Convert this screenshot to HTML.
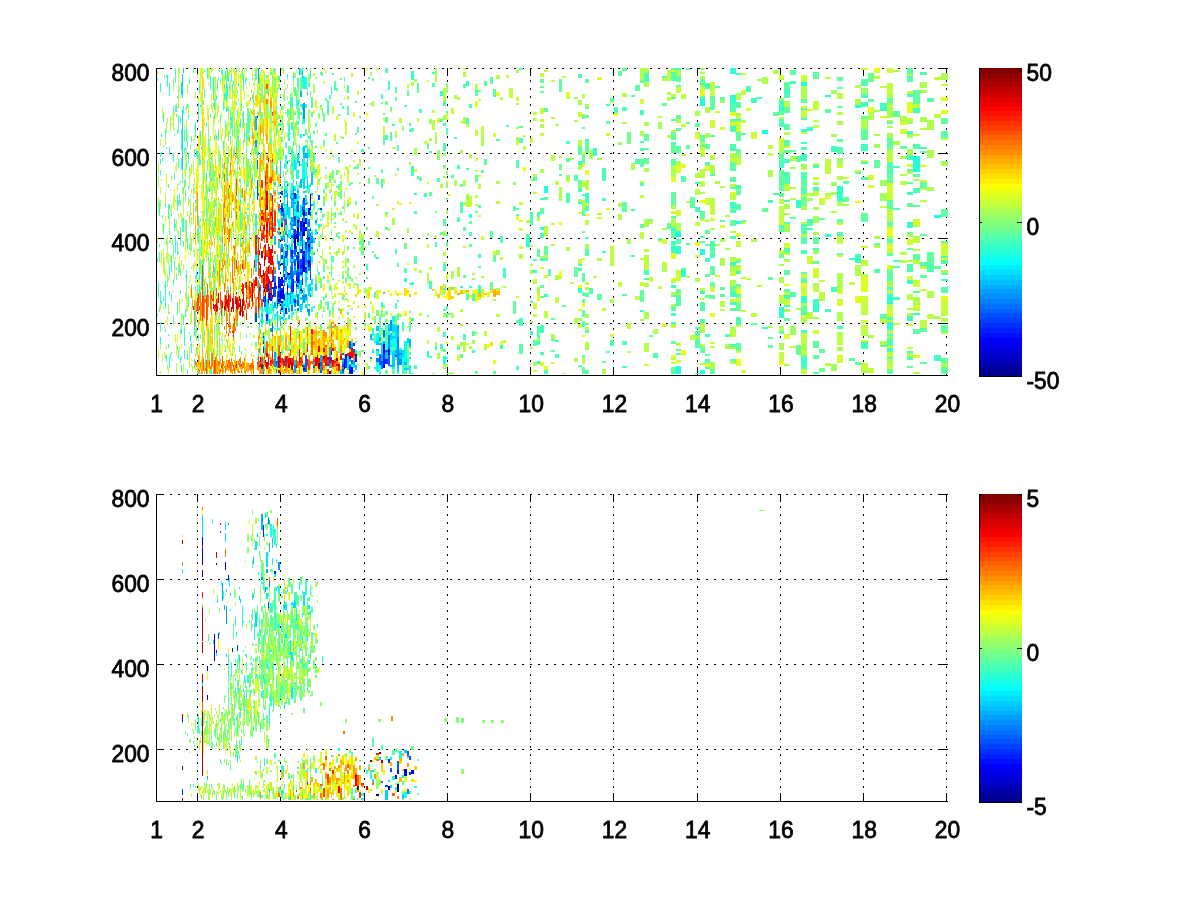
<!DOCTYPE html><html><head><meta charset="utf-8"><style>html,body{margin:0;padding:0;background:#fff;width:1200px;height:900px;overflow:hidden}svg{display:block}</style></head><body>
<svg width="1200" height="900" viewBox="0 0 1200 900" shape-rendering="crispEdges">
<rect width="1200" height="900" fill="#fff"/>
<line x1="197.5" y1="72" x2="197.5" y2="375" stroke="#000" stroke-width="1" stroke-dasharray="2 6"/>
<line x1="280.5" y1="72" x2="280.5" y2="375" stroke="#000" stroke-width="1" stroke-dasharray="2 6"/>
<line x1="364.5" y1="72" x2="364.5" y2="375" stroke="#000" stroke-width="1" stroke-dasharray="2 6"/>
<line x1="447.5" y1="72" x2="447.5" y2="375" stroke="#000" stroke-width="1" stroke-dasharray="2 6"/>
<line x1="530.5" y1="72" x2="530.5" y2="375" stroke="#000" stroke-width="1" stroke-dasharray="2 6"/>
<line x1="613.5" y1="72" x2="613.5" y2="375" stroke="#000" stroke-width="1" stroke-dasharray="2 6"/>
<line x1="697.5" y1="72" x2="697.5" y2="375" stroke="#000" stroke-width="1" stroke-dasharray="2 6"/>
<line x1="780.5" y1="72" x2="780.5" y2="375" stroke="#000" stroke-width="1" stroke-dasharray="2 6"/>
<line x1="863.5" y1="72" x2="863.5" y2="375" stroke="#000" stroke-width="1" stroke-dasharray="2 6"/>
<line x1="946.5" y1="72" x2="946.5" y2="375" stroke="#000" stroke-width="1" stroke-dasharray="2 6"/>
<line x1="162" y1="68.5" x2="948" y2="68.5" stroke="#000" stroke-width="1" stroke-dasharray="2 6"/>
<line x1="162" y1="153.5" x2="948" y2="153.5" stroke="#000" stroke-width="1" stroke-dasharray="2 6"/>
<line x1="162" y1="238.5" x2="948" y2="238.5" stroke="#000" stroke-width="1" stroke-dasharray="2 6"/>
<line x1="162" y1="323.5" x2="948" y2="323.5" stroke="#000" stroke-width="1" stroke-dasharray="2 6"/>
<rect x="156" y="367" width="1" height="8" fill="#000"/>
<rect x="156" y="68" width="1" height="8" fill="#000"/>
<rect x="197" y="367" width="1" height="8" fill="#000"/>
<rect x="197" y="68" width="1" height="8" fill="#000"/>
<rect x="280" y="367" width="1" height="8" fill="#000"/>
<rect x="280" y="68" width="1" height="8" fill="#000"/>
<rect x="364" y="367" width="1" height="8" fill="#000"/>
<rect x="364" y="68" width="1" height="8" fill="#000"/>
<rect x="447" y="367" width="1" height="8" fill="#000"/>
<rect x="447" y="68" width="1" height="8" fill="#000"/>
<rect x="530" y="367" width="1" height="8" fill="#000"/>
<rect x="530" y="68" width="1" height="8" fill="#000"/>
<rect x="613" y="367" width="1" height="8" fill="#000"/>
<rect x="613" y="68" width="1" height="8" fill="#000"/>
<rect x="697" y="367" width="1" height="8" fill="#000"/>
<rect x="697" y="68" width="1" height="8" fill="#000"/>
<rect x="780" y="367" width="1" height="8" fill="#000"/>
<rect x="780" y="68" width="1" height="8" fill="#000"/>
<rect x="863" y="367" width="1" height="8" fill="#000"/>
<rect x="863" y="68" width="1" height="8" fill="#000"/>
<rect x="946" y="367" width="1" height="8" fill="#000"/>
<rect x="946" y="68" width="1" height="8" fill="#000"/>
<rect x="156" y="68" width="8" height="1" fill="#000"/>
<rect x="940" y="68" width="8" height="1" fill="#000"/>
<rect x="156" y="153" width="8" height="1" fill="#000"/>
<rect x="940" y="153" width="8" height="1" fill="#000"/>
<rect x="156" y="238" width="8" height="1" fill="#000"/>
<rect x="940" y="238" width="8" height="1" fill="#000"/>
<rect x="156" y="323" width="8" height="1" fill="#000"/>
<rect x="940" y="323" width="8" height="1" fill="#000"/>
<path fill="#cfff30" d="M157 71h1v3h-1zM157 235h1v8h-1zM158 205h1v8h-1zM159 200h1v2h-1zM160 187h1v7h-1zM160 303h1v7h-1zM161 250h1v16h-1zM162 353h1v8h-1zM164 352h1v5h-1zM165 193h1v11h-1zM166 173h1v14h-1zM166 253h1v7h-1zM166 346h1v4h-1zM171 204h1v6h-1zM173 204h1v4h-1zM174 269h1v3h-1zM174 272h1v9h-1zM175 322h1v2h-1zM175 334h1v9h-1zM176 346h1v10h-1zM179 299h1v14h-1zM181 345h1v3h-1zM183 264h1v7h-1zM183 364h1v10h-1zM185 163h1v16h-1zM185 185h1v7h-1zM187 133h1v6h-1zM190 275h1v6h-1zM190 291h1v7h-1zM191 359h1v2h-1zM194 173h1v2h-1zM195 280h1v3h-1zM196 233h1v3h-1zM197 159h1v5h-1zM197 173h1v19h-1zM198 159h1v9h-1zM199 80h1v5h-1zM199 232h1v13h-1zM199 265h1v2h-1zM199 280h1v5h-1zM200 155h1v5h-1zM200 287h1v5h-1zM201 185h1v14h-1zM203 68h1v6h-1zM204 215h1v2h-1zM205 134h1v6h-1zM205 153h1v4h-1zM205 234h1v13h-1zM207 202h1v6h-1zM207 217h1v3h-1zM208 82h1v4h-1zM208 108h1v21h-1zM209 162h1v2h-1zM209 164h1v8h-1zM210 278h1v4h-1zM211 163h1v15h-1zM211 200h1v8h-1zM212 68h1v4h-1zM212 88h1v3h-1zM212 105h1v8h-1zM212 202h1v18h-1zM213 164h1v4h-1zM214 92h1v7h-1zM214 121h1v3h-1zM214 210h1v13h-1zM215 129h1v11h-1zM215 182h1v11h-1zM215 281h1v7h-1zM216 134h1v2h-1zM216 175h1v5h-1zM216 259h1v15h-1zM216 296h1v3h-1zM219 247h1v5h-1zM222 81h1v9h-1zM222 128h1v4h-1zM222 257h1v2h-1zM223 89h1v5h-1zM223 261h1v2h-1zM223 263h1v2h-1zM224 102h1v7h-1zM224 136h1v27h-1zM225 152h1v9h-1zM225 236h1v3h-1zM226 226h1v5h-1zM226 265h1v4h-1zM227 125h1v11h-1zM228 126h1v2h-1zM228 223h1v4h-1zM228 274h1v2h-1zM229 89h1v10h-1zM229 129h1v6h-1zM229 152h1v5h-1zM229 188h1v5h-1zM230 80h1v9h-1zM230 89h1v7h-1zM230 109h1v4h-1zM230 120h1v2h-1zM230 372h1v2h-1zM231 68h1v6h-1zM232 93h1v17h-1zM233 253h1v4h-1zM234 80h1v4h-1zM234 284h1v7h-1zM235 122h1v15h-1zM236 81h1v5h-1zM236 119h1v19h-1zM236 138h1v3h-1zM236 172h1v7h-1zM237 272h1v9h-1zM238 99h1v2h-1zM238 118h1v9h-1zM239 68h1v4h-1zM239 112h1v7h-1zM239 125h1v7h-1zM239 158h1v9h-1zM240 76h1v17h-1zM240 113h1v3h-1zM241 93h1v10h-1zM241 166h1v2h-1zM241 170h1v6h-1zM241 176h1v2h-1zM241 202h1v3h-1zM242 277h1v2h-1zM244 189h1v2h-1zM244 318h1v5h-1zM245 133h1v3h-1zM246 87h1v2h-1zM249 81h1v3h-1zM251 89h1v4h-1zM251 136h1v3h-1zM252 68h1v10h-1zM252 199h1v2h-1zM252 234h1v2h-1zM253 265h1v4h-1zM254 81h1v4h-1zM254 232h1v6h-1zM255 101h2v6h-2zM255 130h2v10h-2zM257 222h1v3h-1zM258 83h1v19h-1zM258 327h1v4h-1zM259 192h1v7h-1zM259 222h1v10h-1zM264 71h1v3h-1zM264 117h1v10h-1zM264 152h1v13h-1zM264 174h1v4h-1zM264 334h1v2h-1zM265 80h1v2h-1zM265 320h1v6h-1zM268 195h1v6h-1zM268 327h1v12h-1zM270 68h2v4h-2zM270 123h2v5h-2zM270 323h2v3h-2zM273 123h1v8h-1zM274 86h2v3h-2zM274 128h2v6h-2zM277 77h1v2h-1zM277 156h1v2h-1zM277 166h1v11h-1zM277 197h1v2h-1zM277 368h1v4h-1zM280 216h1v10h-1zM281 147h2v13h-2zM283 89h1v2h-1zM283 335h1v5h-1zM284 93h1v4h-1zM284 132h1v9h-1zM287 349h1v3h-1zM291 317h2v3h-2zM291 340h2v5h-2zM294 328h2v6h-2zM294 337h2v2h-2zM297 316h2v7h-2zM297 345h2v3h-2zM300 343h2v5h-2zM305 326h2v3h-2zM307 133h1v4h-1zM308 338h2v4h-2zM308 342h2v3h-2zM310 330h1v3h-1zM310 337h1v4h-1zM315 77h2v2h-2zM315 313h2v5h-2zM317 210h1v3h-1zM317 251h1v2h-1zM317 287h1v3h-1zM318 237h2v2h-2zM318 275h2v8h-2zM320 107h2v3h-2zM320 331h2v5h-2zM320 336h2v4h-2zM322 250h1v2h-1zM323 68h2v2h-2zM323 306h2v4h-2zM323 363h2v2h-2zM325 71h2v2h-2zM325 149h2v2h-2zM325 177h2v2h-2zM327 266h2v3h-2zM327 355h2v2h-2zM329 173h2v2h-2zM329 189h2v2h-2zM329 246h2v4h-2zM329 252h2v3h-2zM331 182h1v6h-1zM331 190h1v2h-1zM332 184h2v2h-2zM332 213h2v3h-2zM332 296h2v3h-2zM332 371h2v3h-2zM334 134h2v3h-2zM334 191h2v10h-2zM334 293h2v4h-2zM338 170h2v3h-2zM338 248h2v5h-2zM338 280h2v2h-2zM338 293h2v2h-2zM338 335h2v4h-2zM338 341h2v2h-2zM338 347h2v2h-2zM340 174h2v2h-2zM340 293h2v2h-2zM342 218h2v3h-2zM342 239h2v3h-2zM342 271h2v4h-2zM342 281h2v3h-2zM344 84h1v4h-1zM344 119h1v3h-1zM344 286h1v7h-1zM344 340h1v3h-1zM345 90h2v2h-2zM345 121h2v14h-2zM345 168h2v2h-2zM347 199h2v4h-2zM349 201h2v4h-2zM349 230h2v2h-2zM349 326h2v10h-2zM353 112h2v5h-2zM353 160h2v2h-2zM353 214h2v3h-2zM353 283h2v2h-2zM353 301h2v3h-2zM355 225h2v5h-2zM355 337h2v2h-2zM357 91h2v4h-2zM361 236h3v2h-3zM366 68h2v2h-2zM366 291h2v7h-2zM366 363h2v4h-2zM368 297h2v2h-2zM370 359h2v3h-2zM376 68h3v2h-3zM379 290h2v3h-2zM383 126h2v10h-2zM383 179h2v5h-2zM385 214h3v3h-3zM399 203h3v2h-3zM407 84h2v4h-2zM414 268h3v3h-3zM424 141h3v3h-3zM427 80h2v2h-2zM437 118h3v5h-3zM437 327h3v5h-3zM443 290h3v2h-3zM446 113h2v7h-2zM446 274h2v6h-2zM451 111h3v3h-3zM457 355h3v6h-3zM460 324h3v2h-3zM466 124h3v3h-3zM466 343h3v2h-3zM469 196h3v11h-3zM475 158h3v3h-3zM475 170h3v2h-3zM478 215h3v2h-3zM481 236h3v4h-3zM481 289h3v6h-3zM481 295h3v3h-3zM493 133h3v4h-3zM493 251h3v4h-3zM516 97h3v4h-3zM516 141h3v4h-3zM519 220h4v2h-4zM519 228h4v3h-4zM519 246h4v3h-4zM519 257h4v2h-4zM523 135h3v2h-3zM530 245h3v2h-3zM533 303h4v6h-4zM533 370h4v2h-4zM540 73h4v4h-4zM540 267h4v2h-4zM544 275h4v3h-4zM551 223h4v2h-4zM566 96h4v3h-4zM578 112h4v5h-4zM582 165h3v2h-3zM582 181h3v2h-3zM585 188h4v2h-4zM585 214h4v2h-4zM597 77h5v3h-5zM597 217h5v2h-5zM606 133h4v3h-4zM610 334h4v3h-4zM640 99h4v5h-4zM640 181h4v2h-4zM640 282h4v4h-4zM649 277h4v5h-4zM662 239h5v5h-5zM671 70h5v2h-5zM671 166h5v2h-5zM671 176h5v3h-5zM671 211h5v3h-5zM671 278h5v3h-5zM676 87h5v3h-5zM676 210h5v6h-5zM676 270h5v8h-5zM676 278h5v3h-5zM676 360h5v3h-5zM681 124h5v3h-5zM695 242h5v2h-5zM700 147h5v7h-5zM700 344h5v2h-5zM705 198h5v7h-5zM710 120h5v8h-5zM710 218h5v3h-5zM710 288h5v4h-5zM715 111h5v2h-5zM715 275h5v2h-5zM720 127h5v3h-5zM730 159h6v3h-6zM730 299h6v3h-6zM736 121h5v11h-5zM736 325h5v2h-5zM741 222h5v2h-5zM741 370h5v3h-5zM746 108h5v3h-5zM751 134h6v5h-6zM779 138h5v3h-5zM779 220h5v5h-5zM779 250h5v2h-5zM779 352h5v2h-5zM784 243h6v5h-6zM784 299h6v6h-6zM801 75h6v3h-6zM801 292h6v4h-6zM801 315h6v3h-6zM807 256h6v6h-6zM813 177h6v3h-6zM813 268h6v10h-6zM813 330h6v4h-6zM819 198h6v2h-6zM837 165h6v3h-6zM837 223h6v2h-6zM837 289h6v5h-6zM837 299h6v7h-6zM837 355h6v8h-6zM843 177h6v2h-6zM861 246h7v2h-7zM861 296h7v7h-7zM861 320h7v3h-7zM861 340h7v2h-7zM868 175h6v5h-6zM868 185h6v3h-6zM880 86h7v2h-7zM880 116h7v2h-7zM880 206h7v2h-7zM887 68h6v5h-6zM887 91h6v2h-6zM887 183h6v17h-6zM887 248h6v5h-6zM887 308h6v5h-6zM887 313h6v4h-6zM887 346h6v2h-6zM887 366h6v3h-6zM893 323h7v2h-7zM900 129h7v5h-7zM907 91h6v3h-6zM907 118h6v2h-6zM907 164h6v3h-6zM907 239h6v6h-6zM907 276h6v4h-6zM907 324h6v2h-6zM913 280h7v7h-7zM913 305h7v4h-7zM920 180h7v2h-7zM920 289h7v2h-7zM941 243h7v9h-7z"/>
<path fill="#40ffbf" d="M157 78h1v3h-1zM157 258h1v4h-1zM158 282h1v16h-1zM159 252h1v4h-1zM159 256h1v6h-1zM160 153h1v4h-1zM163 113h1v9h-1zM163 145h1v2h-1zM164 75h1v3h-1zM164 285h1v2h-1zM166 241h1v4h-1zM168 184h1v4h-1zM168 312h1v2h-1zM168 334h1v2h-1zM169 147h1v8h-1zM169 241h1v2h-1zM169 291h1v4h-1zM169 357h1v11h-1zM170 354h1v5h-1zM171 294h1v8h-1zM172 359h1v2h-1zM173 280h1v5h-1zM175 68h1v15h-1zM175 105h1v7h-1zM175 235h1v18h-1zM176 106h1v6h-1zM176 268h1v2h-1zM177 96h1v2h-1zM177 195h1v16h-1zM177 241h1v14h-1zM177 302h1v7h-1zM177 309h1v6h-1zM177 346h1v5h-1zM178 159h1v9h-1zM178 183h1v2h-1zM178 351h1v8h-1zM179 265h1v8h-1zM180 358h1v5h-1zM181 313h1v3h-1zM182 219h1v11h-1zM182 230h1v2h-1zM183 106h1v8h-1zM183 218h1v4h-1zM183 241h1v6h-1zM183 315h1v10h-1zM184 130h1v10h-1zM184 148h1v6h-1zM184 180h1v8h-1zM185 309h1v8h-1zM186 162h1v8h-1zM187 104h1v4h-1zM187 141h1v6h-1zM188 158h1v6h-1zM188 286h1v2h-1zM189 78h1v6h-1zM191 248h1v3h-1zM191 343h1v3h-1zM191 364h1v2h-1zM194 149h1v2h-1zM194 254h1v3h-1zM196 347h1v5h-1zM197 228h1v11h-1zM198 216h1v8h-1zM198 226h1v16h-1zM198 242h1v2h-1zM198 334h1v7h-1zM200 135h1v10h-1zM200 162h1v3h-1zM201 147h1v3h-1zM201 239h1v17h-1zM205 353h1v15h-1zM207 73h1v6h-1zM208 328h1v23h-1zM210 369h1v5h-1zM213 93h1v7h-1zM213 103h1v4h-1zM213 211h1v4h-1zM214 117h1v2h-1zM214 206h1v4h-1zM214 280h1v2h-1zM214 282h1v2h-1zM214 284h1v7h-1zM215 220h1v2h-1zM216 95h1v2h-1zM217 80h1v11h-1zM218 77h1v3h-1zM218 129h1v12h-1zM220 79h1v2h-1zM221 68h1v6h-1zM222 70h1v11h-1zM227 157h1v22h-1zM228 131h1v5h-1zM229 83h1v6h-1zM230 70h1v2h-1zM230 136h1v9h-1zM231 74h1v8h-1zM232 84h1v7h-1zM232 112h1v24h-1zM233 81h1v4h-1zM235 137h1v2h-1zM236 68h1v4h-1zM236 141h1v4h-1zM236 145h1v3h-1zM237 110h1v7h-1zM237 124h1v14h-1zM239 123h1v2h-1zM239 346h1v6h-1zM240 207h1v15h-1zM240 222h1v9h-1zM241 103h1v8h-1zM242 70h1v10h-1zM242 113h1v3h-1zM243 79h1v12h-1zM244 123h1v2h-1zM244 130h1v2h-1zM245 79h1v5h-1zM246 225h1v10h-1zM250 97h1v4h-1zM253 83h1v2h-1zM255 147h2v8h-2zM259 326h1v8h-1zM268 308h1v5h-1zM270 310h2v4h-2zM276 106h1v6h-1zM276 129h1v4h-1zM278 184h2v3h-2zM278 230h2v2h-2zM280 156h1v5h-1zM281 351h2v2h-2zM283 149h1v7h-1zM284 233h1v3h-1zM287 109h1v8h-1zM287 169h1v3h-1zM287 181h1v3h-1zM287 186h1v7h-1zM287 225h1v5h-1zM288 124h2v10h-2zM290 94h1v19h-1zM290 113h1v7h-1zM290 217h1v5h-1zM291 122h2v6h-2zM291 128h2v2h-2zM293 126h1v12h-1zM293 153h1v2h-1zM294 87h2v9h-2zM296 121h1v2h-1zM297 78h2v6h-2zM297 121h2v4h-2zM297 352h2v2h-2zM299 154h1v4h-1zM300 164h2v2h-2zM302 81h1v7h-1zM303 158h2v4h-2zM303 329h2v4h-2zM305 162h2v2h-2zM305 167h2v6h-2zM307 176h1v4h-1zM307 208h1v11h-1zM308 83h2v4h-2zM310 72h1v7h-1zM311 112h2v5h-2zM311 290h2v2h-2zM315 169h2v4h-2zM315 223h2v2h-2zM318 179h2v2h-2zM322 72h1v4h-1zM327 100h2v13h-2zM327 304h2v6h-2zM331 86h1v9h-1zM332 73h2v2h-2zM334 85h2v5h-2zM338 114h2v2h-2zM347 85h2v8h-2zM355 101h2v2h-2zM355 341h2v2h-2zM361 149h3v3h-3zM366 264h2v6h-2zM368 77h2v2h-2zM368 241h2v4h-2zM368 366h2v3h-2zM372 338h2v3h-2zM379 316h2v4h-2zM379 341h2v2h-2zM381 179h2v9h-2zM385 135h3v5h-3zM388 81h2v9h-2zM392 124h3v2h-3zM392 332h3v4h-3zM402 322h2v2h-2zM402 364h2v10h-2zM409 123h2v3h-2zM411 166h3v10h-3zM411 282h3v3h-3zM414 365h3v4h-3zM417 176h2v3h-2zM424 193h3v4h-3zM429 281h3v8h-3zM429 356h3v2h-3zM435 242h2v5h-2zM435 346h2v4h-2zM440 344h3v5h-3zM443 101h3v5h-3zM443 148h3v3h-3zM443 268h3v3h-3zM443 288h3v2h-3zM443 309h3v2h-3zM443 332h3v5h-3zM446 111h2v2h-2zM446 234h2v2h-2zM446 242h2v3h-2zM446 306h2v3h-2zM446 357h2v2h-2zM466 168h3v2h-3zM469 286h3v2h-3zM472 294h3v7h-3zM472 350h3v3h-3zM478 254h3v4h-3zM478 285h3v8h-3zM500 345h3v4h-3zM503 268h3v10h-3zM519 318h4v8h-4zM530 331h3v4h-3zM537 341h3v4h-3zM540 198h4v2h-4zM540 258h4v3h-4zM540 325h4v8h-4zM555 354h4v4h-4zM578 161h4v4h-4zM578 188h4v4h-4zM578 288h4v5h-4zM582 194h3v2h-3zM585 193h4v10h-4zM602 251h4v2h-4zM606 104h4v2h-4zM610 98h4v3h-4zM622 366h5v2h-5zM631 255h4v2h-4zM640 110h4v5h-4zM640 310h4v2h-4zM644 75h5v7h-5zM644 270h5v5h-5zM671 216h5v2h-5zM671 241h5v4h-5zM671 251h5v2h-5zM671 285h5v3h-5zM671 313h5v3h-5zM671 322h5v2h-5zM676 68h5v2h-5zM681 268h5v4h-5zM695 182h5v2h-5zM695 207h5v5h-5zM695 327h5v2h-5zM695 373h5v1h-5zM700 291h5v3h-5zM700 319h5v4h-5zM705 83h5v6h-5zM705 258h5v4h-5zM705 334h5v3h-5zM730 119h6v2h-6zM730 126h6v4h-6zM730 202h6v6h-6zM730 211h6v2h-6zM730 262h6v4h-6zM730 292h6v5h-6zM730 302h6v3h-6zM736 185h5v3h-5zM736 271h5v3h-5zM736 294h5v3h-5zM736 322h5v3h-5zM751 98h6v5h-6zM762 327h6v2h-6zM768 200h5v3h-5zM779 100h5v7h-5zM779 161h5v7h-5zM784 90h6v4h-6zM784 159h6v4h-6zM784 295h6v4h-6zM784 305h6v2h-6zM790 81h6v3h-6zM801 118h6v2h-6zM801 142h6v2h-6zM801 154h6v7h-6zM801 176h6v3h-6zM801 250h6v4h-6zM801 313h6v2h-6zM801 330h6v3h-6zM807 219h6v4h-6zM813 165h6v3h-6zM813 248h6v2h-6zM813 299h6v5h-6zM825 309h6v3h-6zM831 146h6v6h-6zM831 287h6v5h-6zM837 326h6v3h-6zM855 257h6v6h-6zM861 144h7v7h-7zM861 162h7v2h-7zM861 342h7v7h-7zM880 103h7v8h-7zM887 170h6v3h-6zM887 348h6v2h-6zM887 350h6v2h-6zM893 166h7v2h-7zM893 260h7v2h-7zM893 297h7v3h-7zM907 94h6v3h-6zM907 131h6v3h-6zM907 155h6v5h-6zM907 192h6v3h-6zM907 316h6v5h-6zM913 108h7v5h-7zM913 313h7v2h-7zM934 355h7v6h-7zM941 256h7v2h-7zM941 279h7v2h-7z"/>
<path fill="#30ffcf" d="M157 314h1v2h-1zM160 159h1v5h-1zM160 170h1v5h-1zM160 291h1v12h-1zM161 152h1v3h-1zM162 158h1v3h-1zM162 215h1v3h-1zM165 281h1v17h-1zM165 329h1v3h-1zM166 147h1v2h-1zM169 205h1v4h-1zM171 214h1v2h-1zM173 153h1v9h-1zM174 176h1v4h-1zM174 218h1v13h-1zM177 130h1v4h-1zM178 200h1v6h-1zM178 252h1v2h-1zM181 143h1v7h-1zM184 327h1v19h-1zM184 350h1v9h-1zM185 147h1v3h-1zM186 127h1v15h-1zM186 270h1v12h-1zM187 354h1v6h-1zM193 68h1v5h-1zM193 196h1v2h-1zM194 127h1v2h-1zM194 326h1v10h-1zM194 359h1v4h-1zM195 122h1v15h-1zM195 306h1v21h-1zM197 285h1v13h-1zM198 103h1v3h-1zM198 106h1v15h-1zM199 293h1v2h-1zM199 372h1v2h-1zM200 131h1v4h-1zM201 278h1v12h-1zM203 258h1v23h-1zM204 70h1v2h-1zM204 89h1v9h-1zM204 279h1v7h-1zM205 287h1v12h-1zM207 371h1v3h-1zM208 358h1v3h-1zM210 162h1v20h-1zM214 114h1v3h-1zM214 135h1v5h-1zM214 171h1v2h-1zM216 97h1v3h-1zM220 115h1v5h-1zM220 120h1v2h-1zM224 93h1v7h-1zM225 71h1v9h-1zM225 91h1v10h-1zM225 121h1v6h-1zM226 83h1v19h-1zM227 68h1v13h-1zM228 72h1v10h-1zM228 106h1v8h-1zM228 136h1v2h-1zM230 113h1v7h-1zM231 117h1v12h-1zM236 102h1v3h-1zM238 129h1v4h-1zM240 238h1v4h-1zM240 242h1v5h-1zM243 74h1v5h-1zM243 140h1v5h-1zM244 132h1v8h-1zM250 164h1v13h-1zM252 174h1v9h-1zM259 308h1v2h-1zM268 316h1v7h-1zM276 312h1v4h-1zM278 76h2v4h-2zM278 211h2v2h-2zM280 123h1v3h-1zM284 163h1v3h-1zM284 300h1v4h-1zM284 306h1v2h-1zM284 308h1v5h-1zM285 164h2v3h-2zM285 167h2v2h-2zM285 296h2v2h-2zM287 74h1v5h-1zM287 312h1v2h-1zM288 244h2v2h-2zM288 246h2v4h-2zM290 190h1v5h-1zM293 151h1v2h-1zM294 204h2v5h-2zM297 84h2v2h-2zM297 188h2v2h-2zM297 198h2v3h-2zM297 212h2v4h-2zM299 196h1v3h-1zM299 211h1v7h-1zM300 71h2v4h-2zM300 104h2v3h-2zM305 186h2v2h-2zM305 300h2v2h-2zM307 149h1v4h-1zM308 136h2v3h-2zM311 307h2v5h-2zM318 208h2v2h-2zM329 325h2v3h-2zM376 257h3v2h-3zM381 302h2v5h-2zM381 328h2v2h-2zM402 324h2v6h-2zM404 278h3v4h-3zM409 352h2v3h-2zM411 71h3v9h-3zM411 373h3v1h-3zM414 193h3v2h-3zM427 351h2v6h-2zM432 72h3v2h-3zM440 91h3v5h-3zM460 286h3v2h-3zM466 81h3v5h-3zM469 214h3v4h-3zM526 238h4v9h-4zM533 270h4v3h-4zM540 227h4v3h-4zM544 294h4v3h-4zM555 340h4v2h-4zM578 202h4v2h-4zM593 148h4v8h-4zM671 247h5v4h-5zM676 246h5v8h-5zM681 272h5v5h-5zM730 68h6v6h-6zM730 95h6v8h-6zM736 119h5v2h-5zM779 107h5v4h-5zM779 307h5v11h-5zM796 200h5v8h-5zM801 129h6v3h-6zM801 296h6v7h-6zM801 358h6v7h-6zM807 127h6v4h-6zM813 304h6v8h-6zM825 95h6v2h-6zM825 234h6v3h-6zM837 186h6v15h-6zM849 258h6v2h-6zM887 294h6v10h-6zM887 322h6v8h-6zM907 222h6v6h-6zM907 280h6v4h-6z"/>
<path fill="#bfff40" d="M158 72h1v2h-1zM158 349h1v2h-1zM158 351h1v7h-1zM160 371h1v3h-1zM161 179h1v2h-1zM162 108h1v11h-1zM163 249h1v24h-1zM164 257h1v12h-1zM164 272h1v2h-1zM165 270h1v8h-1zM167 235h1v28h-1zM167 316h1v2h-1zM167 364h1v6h-1zM168 254h1v12h-1zM168 368h1v6h-1zM169 215h1v7h-1zM170 116h1v15h-1zM170 239h1v4h-1zM171 123h1v3h-1zM172 116h1v5h-1zM172 291h1v2h-1zM174 112h1v4h-1zM175 257h1v3h-1zM176 162h1v10h-1zM176 219h1v12h-1zM176 363h1v11h-1zM177 230h1v3h-1zM178 68h1v17h-1zM178 106h1v2h-1zM179 87h1v5h-1zM179 347h1v5h-1zM180 213h1v4h-1zM181 214h1v9h-1zM181 316h1v13h-1zM182 170h1v3h-1zM182 314h1v5h-1zM183 193h1v22h-1zM184 169h1v5h-1zM185 152h1v9h-1zM185 161h1v2h-1zM185 323h1v2h-1zM185 369h1v2h-1zM186 107h1v6h-1zM186 148h1v14h-1zM187 211h1v5h-1zM187 248h1v3h-1zM187 296h1v15h-1zM187 351h1v3h-1zM188 104h1v10h-1zM189 281h1v2h-1zM189 346h1v22h-1zM191 307h1v17h-1zM192 296h1v4h-1zM192 366h1v6h-1zM193 160h1v14h-1zM193 233h1v8h-1zM193 267h1v5h-1zM194 135h1v5h-1zM194 188h1v6h-1zM195 92h1v7h-1zM195 149h1v2h-1zM195 219h1v6h-1zM195 278h1v2h-1zM196 180h1v4h-1zM196 267h1v5h-1zM196 332h1v9h-1zM197 74h1v3h-1zM197 247h1v9h-1zM198 98h1v5h-1zM198 278h1v5h-1zM199 92h1v3h-1zM199 220h1v8h-1zM199 245h1v3h-1zM200 68h1v16h-1zM201 68h1v11h-1zM201 92h1v23h-1zM203 107h1v9h-1zM203 127h1v23h-1zM204 118h1v8h-1zM204 152h1v30h-1zM204 257h1v5h-1zM206 257h1v2h-1zM206 259h1v2h-1zM208 68h1v12h-1zM208 209h1v4h-1zM208 242h1v3h-1zM209 68h1v10h-1zM209 260h1v3h-1zM210 238h1v7h-1zM212 151h1v7h-1zM212 288h1v11h-1zM212 373h1v1h-1zM213 117h1v18h-1zM213 283h1v8h-1zM214 76h1v16h-1zM214 119h1v2h-1zM214 191h1v2h-1zM215 77h1v41h-1zM215 292h1v12h-1zM217 168h1v2h-1zM218 161h1v5h-1zM218 197h1v6h-1zM218 371h1v2h-1zM219 244h1v3h-1zM220 224h1v8h-1zM221 245h1v3h-1zM222 191h1v7h-1zM225 161h1v3h-1zM225 178h1v4h-1zM227 122h1v3h-1zM229 225h1v4h-1zM230 128h1v6h-1zM231 224h1v8h-1zM231 258h1v3h-1zM233 101h1v17h-1zM233 220h1v2h-1zM234 84h1v43h-1zM234 161h1v2h-1zM235 71h1v25h-1zM235 170h1v22h-1zM235 221h1v15h-1zM235 280h1v4h-1zM235 284h1v5h-1zM239 173h1v3h-1zM240 233h1v5h-1zM240 247h1v12h-1zM240 332h1v7h-1zM241 193h1v2h-1zM241 260h1v12h-1zM242 372h1v2h-1zM243 197h1v3h-1zM243 200h1v6h-1zM245 209h1v3h-1zM247 252h2v5h-2zM249 203h1v13h-1zM250 252h1v3h-1zM251 168h1v2h-1zM251 353h1v4h-1zM252 369h1v4h-1zM252 373h1v1h-1zM253 156h1v2h-1zM253 158h1v3h-1zM253 335h1v3h-1zM254 74h1v2h-1zM254 108h1v2h-1zM254 115h1v4h-1zM254 181h1v3h-1zM254 312h1v11h-1zM258 125h1v27h-1zM260 305h1v2h-1zM261 333h2v4h-2zM261 340h2v2h-2zM264 144h1v4h-1zM266 369h2v5h-2zM268 162h1v12h-1zM269 350h1v3h-1zM270 133h2v5h-2zM270 339h2v2h-2zM270 341h2v3h-2zM273 142h1v3h-1zM274 97h2v2h-2zM274 134h2v18h-2zM274 347h2v5h-2zM276 103h1v3h-1zM277 211h1v8h-1zM277 347h1v2h-1zM280 136h1v20h-1zM281 347h2v4h-2zM281 353h2v2h-2zM283 68h1v6h-1zM283 112h1v3h-1zM284 187h1v2h-1zM285 320h2v4h-2zM288 335h2v2h-2zM291 92h2v4h-2zM293 118h1v8h-1zM297 329h2v2h-2zM297 337h2v2h-2zM297 348h2v4h-2zM300 352h2v2h-2zM310 124h1v3h-1zM310 323h1v7h-1zM310 333h1v4h-1zM311 145h2v27h-2zM311 195h2v4h-2zM313 73h2v3h-2zM313 251h2v2h-2zM315 350h2v7h-2zM317 107h1v2h-1zM317 314h1v5h-1zM318 181h2v4h-2zM318 304h2v7h-2zM322 228h1v5h-1zM322 370h1v2h-1zM323 81h2v3h-2zM323 258h2v2h-2zM323 260h2v5h-2zM325 175h2v2h-2zM327 182h2v6h-2zM329 315h2v2h-2zM329 319h2v6h-2zM331 172h1v2h-1zM331 174h1v6h-1zM331 287h1v8h-1zM332 106h2v8h-2zM332 178h2v2h-2zM332 312h2v6h-2zM334 137h2v4h-2zM334 226h2v2h-2zM334 301h2v3h-2zM336 253h2v3h-2zM338 317h2v2h-2zM340 176h2v3h-2zM342 251h2v4h-2zM342 261h2v2h-2zM342 266h2v2h-2zM344 97h1v2h-1zM344 171h1v5h-1zM344 192h1v6h-1zM344 200h1v13h-1zM344 245h1v9h-1zM344 369h1v2h-1zM344 371h1v3h-1zM345 166h2v2h-2zM345 258h2v9h-2zM347 96h2v4h-2zM347 167h2v6h-2zM347 305h2v2h-2zM347 317h2v6h-2zM349 165h2v2h-2zM349 283h2v6h-2zM349 324h2v2h-2zM351 73h2v4h-2zM351 232h2v2h-2zM353 224h2v3h-2zM353 265h2v3h-2zM355 277h2v2h-2zM357 173h2v2h-2zM357 217h2v2h-2zM357 351h2v5h-2zM357 363h2v2h-2zM359 159h2v6h-2zM359 182h2v2h-2zM359 230h2v11h-2zM359 273h2v2h-2zM361 234h3v2h-3zM364 246h2v2h-2zM364 312h2v8h-2zM370 301h2v3h-2zM374 175h2v2h-2zM376 231h3v6h-3zM392 147h3v2h-3zM392 208h3v2h-3zM395 131h2v4h-2zM395 173h2v3h-2zM397 201h2v3h-2zM399 118h3v5h-3zM407 230h2v3h-2zM407 326h2v2h-2zM417 118h2v4h-2zM419 313h3v3h-3zM427 244h2v4h-2zM427 340h2v4h-2zM429 267h3v3h-3zM432 110h3v3h-3zM432 120h3v10h-3zM435 235h2v3h-2zM440 292h3v3h-3zM443 254h3v2h-3zM443 292h3v2h-3zM446 181h2v2h-2zM448 194h3v2h-3zM451 108h3v3h-3zM451 336h3v4h-3zM451 372h3v2h-3zM457 97h3v3h-3zM460 309h3v3h-3zM463 246h3v2h-3zM463 290h3v4h-3zM463 342h3v10h-3zM466 199h3v8h-3zM469 346h3v3h-3zM475 84h3v6h-3zM475 130h3v6h-3zM475 195h3v3h-3zM478 99h3v2h-3zM478 184h3v5h-3zM478 297h3v3h-3zM481 126h3v10h-3zM484 331h3v5h-3zM484 344h3v6h-3zM496 201h4v3h-4zM496 288h4v3h-4zM496 314h4v3h-4zM500 97h3v3h-3zM500 257h3v3h-3zM506 75h3v3h-3zM509 88h4v10h-4zM516 296h3v2h-3zM519 202h4v3h-4zM523 146h3v4h-3zM530 138h3v5h-3zM533 112h4v3h-4zM533 192h4v2h-4zM533 279h4v5h-4zM533 314h4v3h-4zM540 108h4v6h-4zM540 119h4v3h-4zM540 133h4v3h-4zM540 256h4v2h-4zM544 229h4v7h-4zM544 255h4v2h-4zM544 311h4v7h-4zM551 80h4v2h-4zM551 117h4v2h-4zM551 155h4v6h-4zM551 362h4v2h-4zM555 181h4v4h-4zM555 297h4v6h-4zM559 277h3v2h-3zM562 76h4v2h-4zM562 373h4v1h-4zM578 140h4v6h-4zM578 212h4v2h-4zM578 259h4v5h-4zM578 324h4v4h-4zM582 152h3v3h-3zM582 163h3v2h-3zM582 183h3v2h-3zM582 200h3v2h-3zM582 258h3v2h-3zM585 222h4v3h-4zM585 247h4v2h-4zM585 282h4v3h-4zM585 287h4v3h-4zM597 213h5v2h-5zM602 308h4v3h-4zM610 101h4v2h-4zM610 246h4v10h-4zM610 256h4v7h-4zM618 282h4v5h-4zM627 323h4v6h-4zM627 351h4v2h-4zM635 296h5v4h-5zM640 195h4v3h-4zM640 232h4v7h-4zM640 258h4v2h-4zM644 249h5v3h-5zM644 255h5v2h-5zM644 257h5v13h-5zM644 349h5v3h-5zM644 364h5v2h-5zM649 221h4v3h-4zM658 116h4v2h-4zM658 286h4v3h-4zM662 262h5v3h-5zM662 265h5v2h-5zM667 70h4v5h-4zM667 75h4v6h-4zM667 97h4v4h-4zM667 135h4v3h-4zM671 94h5v3h-5zM671 130h5v2h-5zM671 324h5v4h-5zM671 357h5v3h-5zM676 90h5v3h-5zM676 343h5v3h-5zM681 94h5v5h-5zM686 201h4v2h-4zM690 335h5v5h-5zM695 189h5v6h-5zM695 222h5v4h-5zM695 255h5v2h-5zM700 169h5v9h-5zM700 181h5v4h-5zM700 185h5v2h-5zM700 288h5v3h-5zM700 298h5v2h-5zM700 323h5v6h-5zM710 82h5v14h-5zM710 155h5v5h-5zM710 165h5v2h-5zM710 202h5v13h-5zM710 342h5v2h-5zM710 346h5v2h-5zM720 301h5v6h-5zM720 309h5v2h-5zM730 121h6v5h-6zM730 194h6v6h-6zM730 231h6v2h-6zM730 260h6v2h-6zM730 271h6v3h-6zM730 274h6v2h-6zM730 332h6v5h-6zM736 96h5v4h-5zM736 113h5v4h-5zM736 117h5v2h-5zM736 158h5v7h-5zM736 241h5v6h-5zM736 258h5v2h-5zM736 265h5v4h-5zM736 269h5v2h-5zM736 297h5v3h-5zM736 351h5v2h-5zM741 73h5v2h-5zM741 90h5v5h-5zM741 120h5v3h-5zM741 277h5v2h-5zM741 310h5v2h-5zM746 278h5v2h-5zM751 132h6v2h-6zM751 313h6v4h-6zM757 285h5v2h-5zM768 145h5v4h-5zM768 153h5v3h-5zM768 326h5v2h-5zM779 117h5v2h-5zM779 141h5v7h-5zM779 199h5v5h-5zM779 206h5v4h-5zM779 210h5v10h-5zM779 252h5v2h-5zM779 295h5v6h-5zM779 354h5v7h-5zM784 101h6v6h-6zM784 132h6v3h-6zM784 146h6v2h-6zM784 184h6v3h-6zM784 187h6v4h-6zM784 292h6v3h-6zM790 346h6v2h-6zM801 78h6v4h-6zM801 106h6v2h-6zM801 110h6v3h-6zM801 113h6v2h-6zM801 115h6v3h-6zM801 132h6v2h-6zM801 168h6v2h-6zM801 222h6v2h-6zM801 234h6v3h-6zM801 274h6v4h-6zM801 288h6v4h-6zM801 333h6v10h-6zM801 350h6v3h-6zM801 353h6v2h-6zM801 369h6v5h-6zM807 193h6v3h-6zM807 262h6v2h-6zM807 312h6v7h-6zM813 101h6v9h-6zM813 120h6v2h-6zM813 125h6v3h-6zM813 163h6v2h-6zM813 191h6v5h-6zM813 286h6v3h-6zM813 289h6v3h-6zM819 200h6v5h-6zM819 280h6v2h-6zM819 292h6v7h-6zM825 77h6v2h-6zM825 159h6v15h-6zM825 363h6v3h-6zM837 93h6v6h-6zM837 112h6v3h-6zM837 236h6v8h-6zM837 255h6v2h-6zM837 273h6v2h-6zM837 334h6v11h-6zM849 282h6v3h-6zM855 85h6v3h-6zM855 170h6v2h-6zM861 68h7v2h-7zM861 160h7v2h-7zM861 260h7v6h-7zM861 274h7v3h-7zM861 303h7v12h-7zM861 325h7v9h-7zM861 363h7v4h-7zM868 368h6v5h-6zM874 76h6v3h-6zM880 319h7v4h-7zM887 83h6v2h-6zM887 85h6v6h-6zM887 154h6v8h-6zM887 211h6v3h-6zM887 214h6v4h-6zM887 226h6v3h-6zM887 243h6v3h-6zM887 285h6v2h-6zM887 320h6v2h-6zM887 352h6v5h-6zM900 174h7v2h-7zM900 181h7v4h-7zM900 252h7v3h-7zM900 260h7v3h-7zM907 234h6v3h-6zM907 294h6v6h-6zM907 347h6v2h-6zM913 104h7v4h-7zM913 134h7v2h-7zM913 219h7v2h-7zM913 238h7v5h-7zM913 249h7v2h-7zM913 260h7v4h-7zM920 128h7v2h-7zM920 200h7v2h-7zM920 266h7v3h-7zM920 320h7v8h-7zM927 314h7v5h-7zM934 77h7v3h-7zM934 114h7v4h-7zM941 84h7v2h-7zM941 138h7v2h-7zM941 252h7v4h-7zM941 302h7v9h-7zM941 311h7v2h-7zM941 313h7v3h-7z"/>
<path fill="#afff50" d="M158 163h1v11h-1zM158 176h1v12h-1zM158 197h1v8h-1zM160 200h1v9h-1zM160 344h1v5h-1zM162 223h1v8h-1zM163 307h1v3h-1zM164 131h1v2h-1zM164 242h1v2h-1zM164 269h1v3h-1zM165 138h1v7h-1zM165 320h1v3h-1zM166 74h1v4h-1zM166 238h1v3h-1zM167 274h1v13h-1zM168 304h1v8h-1zM169 222h1v9h-1zM169 312h1v2h-1zM170 189h1v2h-1zM170 209h1v2h-1zM170 256h1v6h-1zM171 176h1v5h-1zM172 239h1v3h-1zM173 112h1v19h-1zM173 196h1v2h-1zM173 198h1v6h-1zM173 255h1v4h-1zM175 200h1v2h-1zM176 103h1v3h-1zM176 344h1v2h-1zM177 156h1v3h-1zM177 184h1v7h-1zM178 85h1v21h-1zM178 217h1v2h-1zM178 263h1v13h-1zM179 68h1v6h-1zM180 331h1v8h-1zM181 260h1v6h-1zM182 217h1v2h-1zM182 299h1v3h-1zM184 140h1v3h-1zM185 275h1v3h-1zM185 292h1v7h-1zM186 315h1v2h-1zM187 84h1v10h-1zM188 135h1v2h-1zM189 167h1v20h-1zM190 225h1v3h-1zM190 232h1v6h-1zM190 238h1v17h-1zM190 313h1v11h-1zM191 284h1v2h-1zM193 220h1v4h-1zM195 365h1v5h-1zM199 263h1v2h-1zM200 225h1v8h-1zM201 256h1v2h-1zM204 196h1v19h-1zM204 229h1v5h-1zM205 140h1v13h-1zM206 246h1v11h-1zM207 215h1v2h-1zM208 260h1v10h-1zM210 156h1v3h-1zM210 189h1v2h-1zM210 201h1v4h-1zM210 205h1v6h-1zM210 211h1v4h-1zM212 158h1v10h-1zM212 220h1v4h-1zM213 200h1v5h-1zM214 255h1v8h-1zM215 288h1v4h-1zM216 180h1v5h-1zM216 195h1v26h-1zM216 221h1v5h-1zM217 240h1v14h-1zM217 258h1v9h-1zM217 278h1v5h-1zM218 105h1v7h-1zM218 145h1v16h-1zM219 178h1v7h-1zM219 218h1v12h-1zM220 163h1v16h-1zM220 203h1v10h-1zM220 213h1v9h-1zM220 284h1v8h-1zM220 373h1v1h-1zM221 204h1v13h-1zM222 174h1v6h-1zM223 372h1v2h-1zM226 124h1v7h-1zM228 205h1v13h-1zM231 218h1v2h-1zM233 161h1v3h-1zM233 164h1v6h-1zM237 169h1v15h-1zM237 200h1v5h-1zM238 227h1v13h-1zM239 214h1v10h-1zM240 322h1v3h-1zM244 156h1v4h-1zM244 225h1v4h-1zM245 68h1v2h-1zM245 348h1v3h-1zM246 169h1v13h-1zM246 246h1v4h-1zM250 186h1v4h-1zM250 333h1v2h-1zM251 190h1v4h-1zM251 343h1v3h-1zM253 103h1v3h-1zM254 238h1v10h-1zM254 335h1v3h-1zM257 83h1v14h-1zM260 353h1v4h-1zM264 168h1v6h-1zM265 342h1v6h-1zM266 330h2v5h-2zM270 239h2v7h-2zM273 166h1v4h-1zM274 367h2v3h-2zM276 367h1v2h-1zM277 353h1v4h-1zM278 197h2v2h-2zM280 307h1v2h-1zM280 326h1v5h-1zM281 188h2v3h-2zM283 106h1v4h-1zM283 328h1v2h-1zM285 88h2v2h-2zM285 171h2v4h-2zM288 101h2v3h-2zM288 109h2v2h-2zM288 115h2v9h-2zM290 145h1v5h-1zM291 96h2v2h-2zM291 107h2v5h-2zM291 333h2v2h-2zM293 109h1v9h-1zM294 127h2v13h-2zM296 143h1v12h-1zM297 91h2v9h-2zM297 311h2v2h-2zM307 68h1v3h-1zM307 140h1v9h-1zM307 317h1v3h-1zM308 109h2v24h-2zM310 150h1v15h-1zM311 216h2v4h-2zM311 262h2v3h-2zM313 84h2v9h-2zM315 191h2v2h-2zM317 121h1v2h-1zM317 130h1v4h-1zM318 115h2v4h-2zM318 333h2v3h-2zM318 371h2v2h-2zM323 145h2v2h-2zM329 328h2v3h-2zM329 331h2v3h-2zM344 325h1v4h-1zM359 247h2v4h-2zM370 72h2v4h-2zM370 103h2v2h-2zM370 287h2v3h-2zM376 204h3v2h-3zM381 307h2v2h-2zM388 228h2v3h-2zM390 110h2v2h-2zM392 218h3v7h-3zM395 135h2v3h-2zM402 126h2v5h-2zM402 330h2v2h-2zM407 228h2v2h-2zM407 346h2v3h-2zM409 162h2v3h-2zM409 202h2v2h-2zM411 82h3v4h-3zM414 79h3v3h-3zM414 148h3v7h-3zM419 270h3v3h-3zM427 233h2v3h-2zM427 273h2v11h-2zM429 138h3v3h-3zM432 373h3v1h-3zM435 68h2v14h-2zM435 132h2v12h-2zM435 342h2v4h-2zM437 353h3v6h-3zM440 184h3v4h-3zM440 349h3v2h-3zM443 88h3v13h-3zM443 115h3v5h-3zM443 153h3v3h-3zM443 167h3v2h-3zM443 231h3v5h-3zM443 252h3v2h-3zM443 262h3v2h-3zM443 284h3v4h-3zM443 364h3v5h-3zM446 373h2v1h-2zM451 271h3v8h-3zM451 313h3v5h-3zM454 95h3v4h-3zM454 180h3v6h-3zM457 267h3v10h-3zM460 121h3v2h-3zM460 150h3v3h-3zM463 68h3v2h-3zM463 72h3v5h-3zM463 117h3v7h-3zM463 180h3v6h-3zM463 202h3v3h-3zM466 194h3v3h-3zM469 154h3v4h-3zM472 273h3v2h-3zM472 278h3v2h-3zM472 342h3v2h-3zM475 204h3v2h-3zM475 332h3v2h-3zM481 136h3v10h-3zM481 276h3v2h-3zM493 299h3v2h-3zM496 75h4v4h-4zM496 181h4v3h-4zM503 286h3v2h-3zM503 340h3v3h-3zM516 103h3v2h-3zM516 127h3v2h-3zM516 137h3v4h-3zM519 254h4v3h-4zM526 220h4v3h-4zM530 179h3v2h-3zM530 264h3v2h-3zM530 270h3v4h-3zM530 321h3v2h-3zM530 347h3v2h-3zM533 118h4v3h-4zM533 174h4v3h-4zM533 362h4v4h-4zM537 217h3v4h-3zM537 338h3v3h-3zM540 124h4v4h-4zM540 169h4v4h-4zM544 70h4v2h-4zM544 226h4v3h-4zM551 244h4v2h-4zM551 334h4v5h-4zM555 124h4v2h-4zM555 275h4v5h-4zM559 156h3v2h-3zM559 187h3v14h-3zM566 247h4v4h-4zM570 158h4v2h-4zM570 282h4v2h-4zM574 97h4v2h-4zM574 120h4v2h-4zM574 318h4v6h-4zM574 358h4v4h-4zM578 100h4v5h-4zM578 165h4v5h-4zM578 186h4v2h-4zM578 199h4v3h-4zM578 318h4v3h-4zM582 94h3v4h-3zM582 185h3v2h-3zM582 202h3v8h-3zM582 357h3v5h-3zM582 362h3v2h-3zM585 104h4v3h-4zM585 180h4v8h-4zM585 203h4v3h-4zM585 220h4v2h-4zM585 314h4v4h-4zM585 327h4v3h-4zM585 342h4v8h-4zM589 150h4v9h-4zM593 276h4v2h-4zM597 158h5v2h-5zM597 258h5v3h-5zM602 369h4v5h-4zM610 263h4v3h-4zM610 299h4v4h-4zM618 203h4v4h-4zM618 214h4v6h-4zM622 93h5v4h-5zM622 122h5v2h-5zM627 239h4v5h-4zM631 163h4v7h-4zM640 68h4v6h-4zM640 74h4v4h-4zM640 78h4v3h-4zM640 131h4v5h-4zM640 319h4v2h-4zM644 68h5v5h-5zM644 82h5v5h-5zM644 122h5v4h-5zM644 168h5v4h-5zM644 219h5v8h-5zM644 283h5v4h-5zM644 312h5v7h-5zM644 343h5v6h-5zM653 329h5v5h-5zM658 240h4v2h-4zM662 78h5v3h-5zM662 228h5v2h-5zM662 267h5v5h-5zM667 92h4v3h-4zM671 168h5v8h-5zM671 205h5v4h-5zM671 218h5v5h-5zM671 223h5v4h-5zM671 281h5v2h-5zM671 292h5v3h-5zM671 304h5v2h-5zM676 70h5v6h-5zM676 119h5v4h-5zM676 161h5v3h-5zM676 223h5v8h-5zM676 293h5v2h-5zM681 154h5v2h-5zM686 276h4v2h-4zM695 111h5v5h-5zM695 132h5v2h-5zM695 173h5v5h-5zM695 278h5v4h-5zM695 336h5v3h-5zM700 68h5v2h-5zM700 72h5v2h-5zM700 76h5v3h-5zM700 85h5v4h-5zM700 142h5v3h-5zM700 154h5v3h-5zM700 192h5v2h-5zM700 329h5v4h-5zM700 363h5v2h-5zM705 107h5v2h-5zM705 109h5v4h-5zM705 133h5v5h-5zM705 165h5v2h-5zM705 169h5v2h-5zM705 220h5v2h-5zM710 167h5v7h-5zM710 198h5v4h-5zM710 228h5v2h-5zM710 286h5v2h-5zM710 362h5v7h-5zM715 181h5v3h-5zM715 244h5v2h-5zM720 186h5v2h-5zM720 239h5v3h-5zM720 258h5v8h-5zM725 215h5v2h-5zM725 248h5v2h-5zM725 344h5v5h-5zM730 153h6v4h-6zM730 157h6v2h-6zM730 184h6v3h-6zM730 257h6v3h-6zM730 266h6v5h-6zM730 280h6v6h-6zM730 327h6v5h-6zM730 347h6v2h-6zM730 361h6v3h-6zM736 93h5v3h-5zM736 286h5v3h-5zM736 300h5v3h-5zM751 239h6v3h-6zM762 77h6v7h-6zM768 170h5v7h-5zM773 70h6v4h-6zM779 78h5v2h-5zM779 98h5v2h-5zM779 148h5v5h-5zM779 264h5v2h-5zM779 277h5v6h-5zM779 301h5v3h-5zM779 326h5v5h-5zM779 343h5v7h-5zM784 204h6v5h-6zM784 213h6v2h-6zM784 224h6v3h-6zM784 259h6v3h-6zM784 309h6v3h-6zM784 364h6v2h-6zM790 156h6v5h-6zM790 167h6v2h-6zM790 187h6v2h-6zM790 198h6v2h-6zM796 308h5v2h-5zM801 86h6v13h-6zM801 194h6v3h-6zM801 206h6v4h-6zM801 303h6v3h-6zM801 318h6v5h-6zM801 343h6v7h-6zM813 182h6v3h-6zM813 207h6v3h-6zM813 232h6v3h-6zM813 283h6v3h-6zM813 317h6v2h-6zM819 299h6v2h-6zM825 193h6v3h-6zM831 134h6v3h-6zM831 192h6v3h-6zM831 211h6v2h-6zM837 121h6v2h-6zM837 123h6v2h-6zM837 176h6v4h-6zM837 201h6v5h-6zM837 275h6v6h-6zM837 281h6v8h-6zM837 312h6v9h-6zM837 332h6v2h-6zM837 347h6v4h-6zM843 204h6v2h-6zM855 99h6v6h-6zM855 265h6v11h-6zM861 119h7v10h-7zM861 334h7v2h-7zM861 369h7v4h-7zM868 112h6v8h-6zM868 335h6v3h-6zM874 110h6v2h-6zM874 134h6v2h-6zM874 236h6v3h-6zM874 245h6v3h-6zM880 341h7v4h-7zM887 93h6v5h-6zM887 103h6v9h-6zM887 112h6v6h-6zM887 120h6v2h-6zM887 126h6v2h-6zM887 133h6v5h-6zM887 149h6v5h-6zM887 209h6v2h-6zM887 218h6v2h-6zM887 220h6v2h-6zM887 236h6v3h-6zM887 268h6v2h-6zM887 290h6v4h-6zM887 304h6v4h-6zM887 330h6v4h-6zM887 336h6v2h-6zM887 359h6v7h-6zM893 70h7v2h-7zM893 141h7v4h-7zM900 116h7v2h-7zM900 118h7v4h-7zM900 156h7v3h-7zM907 74h6v2h-6zM907 149h6v6h-6zM907 171h6v3h-6zM907 260h6v2h-6zM907 308h6v2h-6zM907 313h6v3h-6zM907 353h6v4h-6zM913 179h7v2h-7zM913 225h7v2h-7zM913 236h7v2h-7zM913 297h7v2h-7zM913 299h7v6h-7zM913 309h7v2h-7zM913 372h7v2h-7zM920 82h7v6h-7zM920 90h7v3h-7zM920 117h7v5h-7zM920 188h7v2h-7zM927 120h7v10h-7zM927 150h7v8h-7zM927 187h7v4h-7zM927 291h7v7h-7zM934 316h7v3h-7zM941 73h7v7h-7zM941 164h7v2h-7zM941 270h7v3h-7zM941 318h7v4h-7zM941 332h7v2h-7zM941 363h7v4h-7z"/>
<path fill="#20ffdf" d="M159 202h1v14h-1zM160 83h1v9h-1zM160 337h1v7h-1zM161 301h1v4h-1zM165 298h1v11h-1zM168 204h1v15h-1zM168 344h1v4h-1zM169 83h1v13h-1zM171 255h1v17h-1zM180 116h1v7h-1zM181 158h1v12h-1zM181 365h1v7h-1zM183 187h1v2h-1zM187 370h1v4h-1zM188 186h1v4h-1zM197 151h1v3h-1zM198 371h1v3h-1zM199 85h1v7h-1zM199 153h1v12h-1zM199 267h1v13h-1zM203 100h1v5h-1zM204 241h1v3h-1zM206 173h1v8h-1zM207 68h1v5h-1zM208 276h1v2h-1zM210 83h1v7h-1zM210 114h1v3h-1zM211 369h1v5h-1zM219 70h1v2h-1zM223 102h1v8h-1zM223 141h1v9h-1zM226 107h1v5h-1zM227 86h1v10h-1zM237 91h1v2h-1zM237 321h1v6h-1zM240 119h1v9h-1zM243 111h1v17h-1zM257 254h1v9h-1zM258 348h1v8h-1zM261 307h2v7h-2zM264 336h1v2h-1zM264 338h1v4h-1zM264 342h1v14h-1zM272 162h1v8h-1zM272 315h1v2h-1zM273 311h1v4h-1zM274 316h2v4h-2zM280 237h1v3h-1zM280 253h1v4h-1zM285 181h2v2h-2zM285 186h2v4h-2zM285 204h2v8h-2zM285 258h2v2h-2zM285 260h2v6h-2zM285 292h2v4h-2zM288 134h2v7h-2zM288 217h2v2h-2zM290 281h1v2h-1zM291 98h2v9h-2zM291 149h2v5h-2zM293 141h1v6h-1zM293 155h1v4h-1zM293 159h1v13h-1zM293 302h1v2h-1zM296 161h1v7h-1zM296 177h1v2h-1zM296 184h1v2h-1zM296 220h1v8h-1zM296 302h1v2h-1zM297 173h2v6h-2zM299 108h1v11h-1zM299 307h1v2h-1zM300 275h2v2h-2zM302 147h1v5h-1zM302 173h1v10h-1zM303 288h2v7h-2zM305 77h2v12h-2zM305 104h2v4h-2zM305 173h2v6h-2zM305 208h2v4h-2zM305 283h2v4h-2zM308 185h2v6h-2zM313 158h2v4h-2zM318 272h2v3h-2zM372 328h2v8h-2zM376 351h3v2h-3zM376 366h3v6h-3zM379 372h2v2h-2zM385 343h3v7h-3zM390 347h2v8h-2zM397 371h2v3h-2zM404 365h3v3h-3zM407 359h2v3h-2zM409 368h2v6h-2zM411 318h3v3h-3zM443 356h3v8h-3zM537 361h3v3h-3zM544 186h4v7h-4zM671 229h5v2h-5zM676 231h5v6h-5zM676 366h5v8h-5zM700 99h5v7h-5zM700 249h5v6h-5zM700 370h5v4h-5zM736 221h5v3h-5zM762 130h6v4h-6zM801 82h6v4h-6zM855 105h6v3h-6zM913 156h7v16h-7zM934 215h7v3h-7z"/>
<path fill="#10ffef" d="M159 244h1v3h-1zM161 134h1v3h-1zM165 204h1v3h-1zM167 75h1v12h-1zM180 291h1v3h-1zM181 329h1v5h-1zM182 134h1v3h-1zM188 153h1v5h-1zM190 335h1v7h-1zM191 346h1v7h-1zM195 206h1v6h-1zM196 150h1v6h-1zM196 272h1v7h-1zM197 154h1v5h-1zM199 285h1v8h-1zM200 160h1v2h-1zM204 292h1v3h-1zM206 123h1v4h-1zM213 77h1v16h-1zM214 99h1v11h-1zM216 136h1v4h-1zM227 109h1v2h-1zM238 136h1v6h-1zM255 214h2v14h-2zM257 278h1v3h-1zM260 307h1v3h-1zM263 338h1v2h-1zM265 307h1v5h-1zM268 304h1v4h-1zM268 313h1v3h-1zM272 299h1v12h-1zM277 202h1v2h-1zM278 221h2v7h-2zM280 261h1v3h-1zM281 186h2v2h-2zM284 183h1v4h-1zM284 200h1v4h-1zM284 250h1v3h-1zM285 225h2v6h-2zM288 295h2v13h-2zM291 183h2v10h-2zM291 195h2v3h-2zM291 299h2v2h-2zM293 74h1v2h-1zM293 76h1v4h-1zM293 292h1v6h-1zM293 312h1v3h-1zM294 186h2v3h-2zM294 211h2v5h-2zM294 295h2v4h-2zM294 309h2v2h-2zM296 168h1v9h-1zM296 199h1v6h-1zM296 212h1v4h-1zM297 100h2v6h-2zM299 145h1v9h-1zM299 165h1v2h-1zM299 252h1v3h-1zM299 284h1v13h-1zM300 134h2v4h-2zM302 68h1v3h-1zM302 305h1v4h-1zM303 76h2v13h-2zM303 119h2v5h-2zM303 240h2v11h-2zM303 342h2v3h-2zM307 298h1v2h-1zM310 210h1v2h-1zM313 202h2v3h-2zM374 340h2v3h-2zM376 353h3v3h-3zM388 331h2v4h-2zM390 340h2v5h-2zM392 316h3v6h-3zM392 339h3v8h-3zM392 367h3v2h-3zM399 348h3v2h-3zM402 357h2v7h-2z"/>
<path fill="#50ffaf" d="M159 307h1v5h-1zM160 322h1v10h-1zM163 223h1v11h-1zM163 296h1v5h-1zM165 129h1v9h-1zM165 355h1v4h-1zM166 355h1v7h-1zM169 231h1v4h-1zM169 266h1v12h-1zM171 352h1v3h-1zM172 242h1v3h-1zM173 106h1v6h-1zM173 245h1v10h-1zM173 315h1v9h-1zM174 134h1v2h-1zM174 260h1v9h-1zM175 224h1v4h-1zM176 114h1v3h-1zM176 274h1v6h-1zM178 115h1v17h-1zM179 193h1v11h-1zM180 181h1v2h-1zM180 227h1v19h-1zM180 268h1v8h-1zM180 329h1v2h-1zM181 129h1v14h-1zM181 356h1v4h-1zM182 173h1v10h-1zM183 222h1v10h-1zM185 108h1v2h-1zM185 192h1v9h-1zM186 105h1v2h-1zM186 220h1v22h-1zM188 114h1v5h-1zM188 296h1v11h-1zM189 244h1v6h-1zM189 332h1v2h-1zM190 344h1v2h-1zM191 136h1v6h-1zM191 213h1v2h-1zM194 151h1v6h-1zM194 363h1v5h-1zM195 200h1v4h-1zM195 286h1v5h-1zM195 354h1v2h-1zM196 329h1v3h-1zM199 322h1v2h-1zM203 171h1v8h-1zM206 184h1v11h-1zM206 217h1v9h-1zM208 199h1v10h-1zM209 267h1v3h-1zM213 348h1v13h-1zM214 186h1v5h-1zM214 204h1v2h-1zM216 323h1v4h-1zM217 254h1v4h-1zM220 308h1v6h-1zM224 84h1v6h-1zM226 77h1v6h-1zM226 173h1v3h-1zM227 254h1v10h-1zM227 285h1v8h-1zM230 122h1v6h-1zM232 91h1v2h-1zM233 151h1v7h-1zM234 146h1v10h-1zM235 373h1v1h-1zM238 158h1v6h-1zM240 74h1v2h-1zM241 195h1v2h-1zM241 227h1v2h-1zM241 351h1v4h-1zM246 68h1v3h-1zM246 77h1v4h-1zM246 212h1v4h-1zM246 334h1v4h-1zM247 116h2v25h-2zM247 208h2v2h-2zM249 112h1v15h-1zM251 110h1v4h-1zM251 326h1v2h-1zM252 78h1v2h-1zM253 95h1v8h-1zM255 74h2v5h-2zM257 153h1v5h-1zM259 310h1v9h-1zM260 319h1v3h-1zM261 323h2v4h-2zM264 332h1v2h-1zM270 304h2v4h-2zM272 317h1v6h-1zM276 300h1v10h-1zM278 123h2v3h-2zM278 219h2v2h-2zM278 328h2v3h-2zM280 234h1v3h-1zM280 245h1v2h-1zM281 106h2v4h-2zM283 194h1v4h-1zM283 201h1v5h-1zM284 90h1v3h-1zM284 97h1v4h-1zM285 159h2v5h-2zM288 111h2v4h-2zM288 146h2v8h-2zM288 348h2v3h-2zM290 133h1v2h-1zM290 279h1v2h-1zM291 311h2v6h-2zM294 113h2v2h-2zM294 156h2v4h-2zM296 90h1v13h-1zM296 103h1v6h-1zM296 372h1v2h-1zM299 99h1v4h-1zM299 238h1v7h-1zM299 297h1v2h-1zM302 162h1v2h-1zM302 301h1v2h-1zM303 345h2v8h-2zM305 129h2v6h-2zM307 285h1v4h-1zM307 289h1v3h-1zM310 133h1v10h-1zM310 165h1v7h-1zM310 216h1v3h-1zM311 97h2v11h-2zM313 153h2v5h-2zM313 167h2v8h-2zM315 146h2v2h-2zM317 218h1v3h-1zM320 105h2v2h-2zM320 219h2v2h-2zM322 108h1v5h-1zM323 268h2v4h-2zM323 276h2v3h-2zM329 95h2v4h-2zM329 286h2v5h-2zM329 310h2v5h-2zM331 255h1v5h-1zM332 256h2v6h-2zM334 212h2v6h-2zM334 222h2v2h-2zM336 142h2v2h-2zM338 236h2v3h-2zM342 106h2v3h-2zM347 203h2v4h-2zM347 312h2v3h-2zM349 183h2v3h-2zM357 127h2v6h-2zM357 284h2v2h-2zM368 313h2v5h-2zM372 349h2v2h-2zM374 292h2v6h-2zM379 325h2v12h-2zM381 94h2v5h-2zM381 169h2v4h-2zM381 311h2v2h-2zM383 337h2v2h-2zM385 68h3v5h-3zM385 325h3v5h-3zM385 330h3v13h-3zM390 132h2v9h-2zM395 249h2v5h-2zM397 145h2v6h-2zM397 300h2v2h-2zM404 268h3v5h-3zM407 362h2v2h-2zM409 129h2v3h-2zM409 311h2v2h-2zM409 322h2v7h-2zM411 128h3v4h-3zM414 211h3v3h-3zM414 256h3v8h-3zM419 109h3v4h-3zM429 151h3v2h-3zM432 83h3v4h-3zM437 178h3v4h-3zM440 119h3v3h-3zM443 123h3v3h-3zM443 143h3v5h-3zM443 165h3v2h-3zM443 219h3v7h-3zM443 264h3v4h-3zM443 349h3v3h-3zM446 128h2v7h-2zM448 373h3v1h-3zM457 165h3v4h-3zM457 346h3v4h-3zM460 202h3v11h-3zM463 334h3v6h-3zM466 118h3v6h-3zM466 294h3v6h-3zM469 104h3v4h-3zM469 232h3v4h-3zM472 331h3v5h-3zM475 90h3v6h-3zM478 266h3v2h-3zM484 83h3v3h-3zM496 139h4v2h-4zM500 236h3v7h-3zM516 160h3v8h-3zM516 208h3v2h-3zM516 214h3v2h-3zM516 366h3v4h-3zM519 68h4v2h-4zM519 126h4v2h-4zM519 138h4v5h-4zM530 212h3v13h-3zM530 301h3v2h-3zM533 177h4v4h-4zM533 259h4v2h-4zM537 212h3v5h-3zM537 331h3v7h-3zM540 233h4v5h-4zM540 352h4v3h-4zM544 370h4v4h-4zM551 339h4v2h-4zM559 174h3v2h-3zM566 141h4v3h-4zM566 193h4v10h-4zM574 175h4v6h-4zM578 74h4v4h-4zM578 264h4v2h-4zM578 268h4v3h-4zM582 127h3v2h-3zM582 210h3v6h-3zM582 279h3v3h-3zM582 321h3v6h-3zM582 355h3v2h-3zM585 139h4v3h-4zM585 206h4v5h-4zM585 249h4v7h-4zM585 330h4v3h-4zM585 372h4v2h-4zM589 288h4v6h-4zM602 168h4v13h-4zM602 198h4v3h-4zM610 340h4v6h-4zM614 107h4v6h-4zM622 107h5v4h-5zM622 294h5v2h-5zM622 341h5v4h-5zM631 95h4v2h-4zM631 209h4v2h-4zM635 159h5v5h-5zM640 141h4v2h-4zM640 148h4v3h-4zM640 183h4v3h-4zM644 73h5v2h-5zM644 278h5v2h-5zM653 353h5v5h-5zM658 238h4v2h-4zM667 226h4v3h-4zM671 72h5v9h-5zM671 97h5v2h-5zM671 119h5v2h-5zM671 142h5v3h-5zM671 371h5v3h-5zM676 128h5v3h-5zM676 239h5v3h-5zM676 242h5v2h-5zM676 295h5v9h-5zM676 304h5v2h-5zM676 353h5v2h-5zM681 176h5v6h-5zM686 243h4v2h-4zM695 339h5v9h-5zM700 83h5v2h-5zM700 145h5v2h-5zM700 302h5v9h-5zM705 162h5v3h-5zM705 230h5v2h-5zM705 359h5v4h-5zM710 174h5v2h-5zM710 241h5v9h-5zM710 253h5v5h-5zM715 86h5v2h-5zM720 220h5v2h-5zM725 334h5v3h-5zM730 103h6v9h-6zM730 144h6v7h-6zM730 236h6v3h-6zM730 344h6v3h-6zM730 359h6v2h-6zM736 73h5v2h-5zM736 102h5v6h-5zM736 204h5v6h-5zM736 284h5v2h-5zM736 317h5v5h-5zM736 343h5v2h-5zM746 86h5v6h-5zM757 97h5v2h-5zM773 193h6v2h-6zM779 119h5v2h-5zM779 121h5v6h-5zM779 225h5v4h-5zM784 94h6v4h-6zM784 127h6v3h-6zM784 140h6v2h-6zM784 172h6v12h-6zM784 200h6v2h-6zM784 222h6v2h-6zM784 248h6v5h-6zM784 273h6v2h-6zM790 292h6v5h-6zM801 147h6v3h-6zM801 172h6v4h-6zM801 188h6v3h-6zM801 191h6v3h-6zM801 224h6v10h-6zM801 237h6v5h-6zM801 365h6v2h-6zM801 367h6v2h-6zM807 228h6v2h-6zM813 187h6v2h-6zM813 189h6v2h-6zM813 372h6v2h-6zM837 147h6v7h-6zM837 232h6v4h-6zM855 254h6v3h-6zM861 79h7v7h-7zM861 94h7v4h-7zM861 102h7v5h-7zM861 177h7v3h-7zM874 269h6v4h-6zM887 122h6v2h-6zM887 138h6v2h-6zM887 162h6v6h-6zM887 239h6v2h-6zM887 241h6v2h-6zM887 287h6v3h-6zM887 317h6v3h-6zM887 334h6v2h-6zM887 338h6v8h-6zM893 208h7v2h-7zM907 76h6v6h-6zM907 182h6v2h-6zM907 264h6v8h-6zM907 351h6v2h-6zM907 357h6v3h-6zM913 144h7v5h-7zM913 188h7v5h-7zM920 72h7v3h-7zM920 147h7v2h-7zM920 262h7v4h-7zM927 98h7v4h-7zM927 264h7v8h-7zM941 134h7v4h-7zM941 260h7v4h-7zM941 273h7v2h-7zM941 287h7v6h-7z"/>
<path fill="#dfff20" d="M160 139h1v7h-1zM167 318h1v7h-1zM170 352h1v2h-1zM171 210h1v4h-1zM175 166h1v5h-1zM179 257h1v8h-1zM180 95h1v3h-1zM184 124h1v6h-1zM186 120h1v7h-1zM188 205h1v2h-1zM188 252h1v5h-1zM190 288h1v3h-1zM194 248h1v6h-1zM195 187h1v2h-1zM195 215h1v4h-1zM196 169h1v11h-1zM196 279h1v4h-1zM197 241h1v2h-1zM198 125h1v2h-1zM198 168h1v15h-1zM198 283h1v8h-1zM199 131h1v22h-1zM203 150h1v9h-1zM203 237h1v21h-1zM204 137h1v15h-1zM205 250h1v7h-1zM206 242h1v4h-1zM206 282h1v4h-1zM207 105h1v15h-1zM207 194h1v8h-1zM210 136h1v5h-1zM210 247h1v2h-1zM211 68h1v5h-1zM211 94h1v15h-1zM211 208h1v2h-1zM212 255h1v5h-1zM213 205h1v2h-1zM213 215h1v3h-1zM216 140h1v11h-1zM217 103h1v2h-1zM217 166h1v2h-1zM217 226h1v3h-1zM217 294h1v4h-1zM218 121h1v2h-1zM220 122h1v11h-1zM220 332h1v3h-1zM222 132h1v4h-1zM223 74h1v15h-1zM223 94h1v8h-1zM224 335h1v6h-1zM225 252h1v4h-1zM226 143h1v8h-1zM227 83h1v3h-1zM227 96h1v13h-1zM227 346h1v3h-1zM228 114h1v12h-1zM228 181h1v4h-1zM228 257h1v13h-1zM230 96h1v3h-1zM231 97h1v2h-1zM231 107h1v4h-1zM231 111h1v4h-1zM231 145h1v2h-1zM231 353h1v3h-1zM232 227h1v5h-1zM233 68h1v6h-1zM233 90h1v7h-1zM233 118h1v4h-1zM234 68h1v2h-1zM234 350h1v3h-1zM235 96h1v8h-1zM235 218h1v3h-1zM236 72h1v9h-1zM236 86h1v10h-1zM236 96h1v2h-1zM237 117h1v4h-1zM237 121h1v3h-1zM237 217h1v5h-1zM237 281h1v3h-1zM238 74h1v3h-1zM238 77h1v7h-1zM238 133h1v3h-1zM238 200h1v27h-1zM239 132h1v2h-1zM239 140h1v18h-1zM239 201h1v4h-1zM239 272h1v2h-1zM240 93h1v20h-1zM240 138h1v26h-1zM240 259h1v2h-1zM240 272h1v4h-1zM241 71h1v7h-1zM241 229h1v4h-1zM243 106h1v2h-1zM243 145h1v5h-1zM243 153h1v4h-1zM244 90h1v10h-1zM244 183h1v6h-1zM245 353h1v11h-1zM247 101h2v5h-2zM249 264h1v10h-1zM250 141h1v3h-1zM252 108h1v4h-1zM252 139h1v9h-1zM253 117h1v4h-1zM253 222h1v6h-1zM254 153h1v7h-1zM257 146h1v5h-1zM257 172h1v3h-1zM259 115h1v5h-1zM259 120h1v13h-1zM259 343h1v5h-1zM260 76h1v15h-1zM260 351h1v2h-1zM261 70h2v3h-2zM261 75h2v7h-2zM261 82h2v2h-2zM261 200h2v8h-2zM265 326h1v3h-1zM266 78h2v2h-2zM266 80h2v4h-2zM268 73h1v7h-1zM269 80h1v9h-1zM269 373h1v1h-1zM270 87h2v8h-2zM270 366h2v3h-2zM272 364h1v2h-1zM273 72h1v13h-1zM273 145h1v11h-1zM274 73h2v5h-2zM274 93h2v4h-2zM274 320h2v6h-2zM274 370h2v4h-2zM278 132h2v10h-2zM284 331h1v4h-1zM284 346h1v3h-1zM288 326h2v4h-2zM288 345h2v3h-2zM291 330h2v3h-2zM294 346h2v5h-2zM294 351h2v9h-2zM300 333h2v2h-2zM305 337h2v3h-2zM308 336h2v2h-2zM313 162h2v5h-2zM313 200h2v2h-2zM315 100h2v8h-2zM315 173h2v5h-2zM318 164h2v9h-2zM318 173h2v2h-2zM318 261h2v2h-2zM320 177h2v2h-2zM322 252h1v8h-1zM323 226h2v3h-2zM323 284h2v4h-2zM325 225h2v2h-2zM325 236h2v5h-2zM325 293h2v2h-2zM327 211h2v8h-2zM327 219h2v8h-2zM327 339h2v2h-2zM329 342h2v5h-2zM331 149h1v4h-1zM331 188h1v2h-1zM331 208h1v4h-1zM332 267h2v2h-2zM334 252h2v2h-2zM334 284h2v6h-2zM336 116h2v4h-2zM336 191h2v4h-2zM336 283h2v2h-2zM338 301h2v2h-2zM338 327h2v6h-2zM338 343h2v4h-2zM340 136h2v2h-2zM340 187h2v3h-2zM342 293h2v2h-2zM342 308h2v3h-2zM345 188h2v2h-2zM345 237h2v2h-2zM345 335h2v3h-2zM345 338h2v2h-2zM345 345h2v4h-2zM345 368h2v2h-2zM347 173h2v10h-2zM347 299h2v3h-2zM351 150h2v2h-2zM353 285h2v3h-2zM353 316h2v2h-2zM357 142h2v2h-2zM357 213h2v2h-2zM357 305h2v3h-2zM364 305h2v3h-2zM366 289h2v2h-2zM366 367h2v3h-2zM368 287h2v5h-2zM368 324h2v8h-2zM370 329h2v2h-2zM372 309h2v3h-2zM376 290h3v9h-3zM390 293h2v3h-2zM407 263h2v2h-2zM414 169h3v3h-3zM427 181h2v3h-2zM435 291h2v5h-2zM446 342h2v2h-2zM466 292h3v2h-3zM475 101h3v6h-3zM475 289h3v8h-3zM478 175h3v2h-3zM487 292h3v5h-3zM493 360h3v4h-3zM496 92h4v4h-4zM537 294h3v7h-3zM540 362h4v4h-4zM544 366h4v4h-4zM566 92h4v4h-4zM566 180h4v2h-4zM578 309h4v2h-4zM582 335h3v2h-3zM585 170h4v5h-4zM606 208h4v2h-4zM614 113h4v3h-4zM662 324h5v3h-5zM671 253h5v6h-5zM671 355h5v2h-5zM671 362h5v2h-5zM676 164h5v9h-5zM681 164h5v4h-5zM695 134h5v5h-5zM695 244h5v2h-5zM700 89h5v7h-5zM700 219h5v2h-5zM705 363h5v4h-5zM710 313h5v4h-5zM720 225h5v3h-5zM730 112h6v4h-6zM730 192h6v2h-6zM736 233h5v4h-5zM736 362h5v4h-5zM779 75h5v3h-5zM784 253h6v2h-6zM784 334h6v5h-6zM801 283h6v5h-6zM807 109h6v2h-6zM825 196h6v3h-6zM855 296h6v7h-6zM861 277h7v15h-7zM861 367h7v2h-7zM868 107h6v5h-6zM874 68h6v5h-6zM887 265h6v3h-6zM900 122h7v3h-7zM907 102h6v11h-6zM913 221h7v4h-7zM913 355h7v3h-7zM920 165h7v2h-7zM941 97h7v4h-7zM941 110h7v4h-7zM941 296h7v6h-7z"/>
<path fill="#9fff60" d="M164 326h1v2h-1zM166 122h1v11h-1zM167 118h1v5h-1zM168 277h1v4h-1zM173 78h1v13h-1zM177 106h1v2h-1zM182 188h1v6h-1zM186 282h1v30h-1zM188 294h1v2h-1zM190 199h1v17h-1zM191 164h1v10h-1zM191 267h1v2h-1zM193 139h1v2h-1zM193 265h1v2h-1zM200 247h1v6h-1zM200 258h1v2h-1zM204 286h1v6h-1zM206 226h1v13h-1zM210 286h1v5h-1zM212 168h1v5h-1zM212 180h1v19h-1zM212 227h1v8h-1zM213 176h1v12h-1zM214 277h1v3h-1zM219 163h1v5h-1zM221 223h1v17h-1zM221 339h1v2h-1zM224 350h1v2h-1zM227 186h1v5h-1zM227 191h1v14h-1zM227 212h1v8h-1zM228 202h1v3h-1zM232 347h1v4h-1zM233 222h1v2h-1zM234 282h1v2h-1zM235 210h1v2h-1zM235 251h1v22h-1zM238 260h1v2h-1zM240 280h1v3h-1zM242 321h1v2h-1zM243 213h1v8h-1zM246 235h1v3h-1zM247 223h2v2h-2zM250 177h1v9h-1zM250 219h1v3h-1zM251 214h1v2h-1zM253 163h1v5h-1zM253 231h1v7h-1zM254 170h1v6h-1zM254 209h1v2h-1zM254 213h1v2h-1zM255 158h2v10h-2zM255 168h2v10h-2zM257 111h1v5h-1zM258 176h1v17h-1zM261 119h2v6h-2zM261 156h2v4h-2zM261 165h2v7h-2zM268 346h1v2h-1zM269 113h1v7h-1zM269 129h1v23h-1zM269 332h1v4h-1zM270 114h2v9h-2zM270 128h2v5h-2zM273 343h1v9h-1zM274 185h2v2h-2zM276 94h1v9h-1zM276 148h1v4h-1zM277 91h1v3h-1zM277 340h1v2h-1zM281 68h2v3h-2zM281 115h2v15h-2zM281 130h2v5h-2zM281 323h2v5h-2zM284 81h1v3h-1zM284 104h1v4h-1zM285 112h2v2h-2zM285 249h2v2h-2zM287 84h1v4h-1zM287 96h1v4h-1zM287 121h1v4h-1zM287 132h1v6h-1zM290 186h1v4h-1zM291 112h2v8h-2zM291 345h2v4h-2zM293 72h1v2h-1zM293 80h1v12h-1zM293 107h1v2h-1zM293 184h1v2h-1zM294 73h2v5h-2zM294 122h2v5h-2zM294 140h2v5h-2zM296 70h1v3h-1zM296 123h1v2h-1zM296 125h1v5h-1zM296 158h1v3h-1zM296 329h1v6h-1zM297 86h2v5h-2zM297 116h2v3h-2zM297 127h2v9h-2zM302 152h1v2h-1zM302 353h1v2h-1zM307 88h1v2h-1zM307 90h1v2h-1zM307 303h1v5h-1zM308 76h2v7h-2zM308 146h2v3h-2zM310 341h1v3h-1zM310 365h1v4h-1zM320 329h2v2h-2zM338 371h2v2h-2zM372 101h2v6h-2zM381 337h2v6h-2zM429 119h3v5h-3zM437 150h3v10h-3zM443 176h3v2h-3zM443 313h3v4h-3zM446 83h2v10h-2zM446 183h2v5h-2zM446 210h2v4h-2zM446 245h2v2h-2zM446 364h2v2h-2zM460 342h3v4h-3zM472 340h3v2h-3zM496 250h4v5h-4zM513 182h3v3h-3zM516 70h3v3h-3zM537 287h3v7h-3zM566 175h4v5h-4zM585 244h4v3h-4zM618 142h4v3h-4zM658 122h4v7h-4zM720 100h5v3h-5zM736 153h5v5h-5zM757 79h5v2h-5zM784 227h6v5h-6zM790 326h6v9h-6zM801 164h6v4h-6zM807 198h6v3h-6zM813 216h6v7h-6zM813 250h6v4h-6zM831 90h6v4h-6zM831 182h6v4h-6zM831 364h6v7h-6zM837 158h6v7h-6zM861 88h7v6h-7zM874 144h6v4h-6zM880 180h7v6h-7zM880 193h7v8h-7zM887 281h6v4h-6zM907 120h6v4h-6zM907 134h6v4h-6zM941 161h7v3h-7z"/>
<path fill="#efff10" d="M165 216h1v6h-1zM177 334h1v9h-1zM185 231h1v29h-1zM190 168h1v9h-1zM194 182h1v4h-1zM195 70h1v3h-1zM196 147h1v3h-1zM197 256h1v4h-1zM199 185h1v3h-1zM199 313h1v5h-1zM200 84h1v18h-1zM200 233h1v5h-1zM202 164h1v9h-1zM202 173h1v86h-1zM204 234h1v7h-1zM206 181h1v3h-1zM207 186h1v3h-1zM207 220h1v11h-1zM208 151h1v16h-1zM208 251h1v6h-1zM210 182h1v7h-1zM211 190h1v10h-1zM211 258h1v4h-1zM213 207h1v2h-1zM215 193h1v7h-1zM216 231h1v6h-1zM217 105h1v13h-1zM217 217h1v9h-1zM218 68h1v3h-1zM218 119h1v2h-1zM218 203h1v5h-1zM218 234h1v6h-1zM219 168h1v6h-1zM219 215h1v3h-1zM219 230h1v6h-1zM219 252h1v5h-1zM220 81h1v4h-1zM220 344h1v13h-1zM221 113h1v4h-1zM221 351h1v4h-1zM224 75h1v9h-1zM224 100h1v2h-1zM226 102h1v5h-1zM226 131h1v6h-1zM226 163h1v5h-1zM226 272h1v9h-1zM226 357h1v3h-1zM227 354h1v4h-1zM228 185h1v3h-1zM228 336h1v4h-1zM228 340h1v3h-1zM229 68h1v9h-1zM229 341h1v5h-1zM230 344h1v4h-1zM230 348h1v8h-1zM232 339h1v2h-1zM233 257h1v2h-1zM233 342h1v2h-1zM233 363h1v2h-1zM234 342h1v2h-1zM235 104h1v6h-1zM235 249h1v2h-1zM235 275h1v3h-1zM235 289h1v5h-1zM236 220h1v27h-1zM238 107h1v11h-1zM238 184h1v6h-1zM239 76h1v2h-1zM239 187h1v6h-1zM241 78h1v15h-1zM242 116h1v3h-1zM243 168h1v12h-1zM243 221h1v7h-1zM244 154h1v2h-1zM245 161h1v21h-1zM245 274h1v8h-1zM246 243h1v3h-1zM247 95h2v2h-2zM249 84h1v3h-1zM251 118h1v3h-1zM251 121h1v9h-1zM251 170h1v8h-1zM251 194h1v2h-1zM251 316h1v2h-1zM252 122h1v6h-1zM252 150h1v4h-1zM252 168h1v2h-1zM252 183h1v3h-1zM253 149h1v2h-1zM253 168h1v3h-1zM253 204h1v9h-1zM253 238h1v9h-1zM254 85h1v7h-1zM254 131h1v4h-1zM254 184h1v2h-1zM254 220h1v3h-1zM255 79h2v2h-2zM255 346h2v4h-2zM257 175h1v2h-1zM258 102h1v2h-1zM258 210h1v3h-1zM258 331h1v5h-1zM259 74h1v3h-1zM259 133h1v8h-1zM263 70h1v3h-1zM263 73h1v10h-1zM264 196h1v3h-1zM265 82h1v5h-1zM265 166h1v5h-1zM268 95h1v7h-1zM268 174h1v2h-1zM270 185h2v2h-2zM272 239h1v6h-1zM272 344h1v2h-1zM273 102h1v5h-1zM274 152h2v13h-2zM276 76h1v18h-1zM276 334h1v3h-1zM277 144h1v2h-1zM277 349h1v4h-1zM278 142h2v6h-2zM281 342h2v5h-2zM284 328h1v3h-1zM293 368h1v2h-1zM300 348h2v2h-2zM302 341h1v12h-1zM302 367h1v4h-1zM305 329h2v5h-2zM308 327h2v4h-2zM310 321h1v2h-1zM310 344h1v4h-1zM317 174h1v12h-1zM317 335h1v2h-1zM320 146h2v3h-2zM320 352h2v3h-2zM325 193h2v8h-2zM327 275h2v5h-2zM327 325h2v2h-2zM327 337h2v2h-2zM329 157h2v2h-2zM329 283h2v3h-2zM329 334h2v2h-2zM332 320h2v2h-2zM334 333h2v7h-2zM334 344h2v3h-2zM334 351h2v8h-2zM336 287h2v3h-2zM342 344h2v9h-2zM345 230h2v2h-2zM345 328h2v7h-2zM347 283h2v3h-2zM347 336h2v4h-2zM349 197h2v4h-2zM349 305h2v2h-2zM361 372h3v2h-3zM364 326h2v3h-2zM366 113h2v3h-2zM370 327h2v2h-2zM372 305h2v4h-2zM372 312h2v2h-2zM379 314h2v2h-2zM383 118h2v3h-2zM390 313h2v3h-2zM404 311h3v2h-3zM407 292h2v3h-2zM457 344h3v2h-3zM469 295h3v3h-3zM472 290h3v4h-3zM487 344h3v4h-3zM500 341h3v4h-3zM516 216h3v4h-3zM523 167h3v4h-3zM559 222h3v3h-3zM559 271h3v6h-3zM578 285h4v3h-4zM582 303h3v4h-3zM671 179h5v3h-5zM681 350h5v5h-5zM700 200h5v3h-5zM705 167h5v2h-5zM736 289h5v5h-5zM736 359h5v3h-5zM779 361h5v4h-5zM784 284h6v2h-6zM855 201h6v2h-6zM887 229h6v7h-6zM887 246h6v2h-6zM941 258h7v2h-7z"/>
<path fill="#70ff8f" d="M174 172h1v4h-1zM190 145h1v4h-1zM195 302h1v4h-1zM196 200h1v2h-1zM196 317h1v3h-1zM196 325h1v4h-1zM198 249h1v2h-1zM200 218h1v4h-1zM200 260h1v14h-1zM200 334h1v5h-1zM201 260h1v5h-1zM206 195h1v16h-1zM206 211h1v6h-1zM207 253h1v2h-1zM208 187h1v4h-1zM208 218h1v4h-1zM209 150h1v12h-1zM209 172h1v4h-1zM209 219h1v2h-1zM209 280h1v9h-1zM210 215h1v3h-1zM210 218h1v2h-1zM210 220h1v7h-1zM210 231h1v7h-1zM211 157h1v6h-1zM211 288h1v7h-1zM212 173h1v7h-1zM214 173h1v7h-1zM214 225h1v10h-1zM216 312h1v8h-1zM217 232h1v4h-1zM217 325h1v7h-1zM217 332h1v13h-1zM217 347h1v9h-1zM218 325h1v6h-1zM219 314h1v2h-1zM220 222h1v2h-1zM220 252h1v3h-1zM221 240h1v2h-1zM221 257h1v5h-1zM222 272h1v11h-1zM223 164h1v14h-1zM226 339h1v3h-1zM228 146h1v18h-1zM228 287h1v3h-1zM230 149h1v2h-1zM235 192h1v5h-1zM237 163h1v6h-1zM238 142h1v16h-1zM238 190h1v5h-1zM243 233h1v2h-1zM245 238h1v6h-1zM245 244h1v3h-1zM247 108h2v8h-2zM247 159h2v28h-2zM247 203h2v2h-2zM251 161h1v3h-1zM254 146h1v7h-1zM254 166h1v4h-1zM254 191h1v9h-1zM255 68h2v6h-2zM255 228h2v7h-2zM260 93h1v5h-1zM261 112h2v7h-2zM261 152h2v4h-2zM263 309h1v3h-1zM263 320h1v3h-1zM266 75h2v3h-2zM266 104h2v14h-2zM269 89h1v2h-1zM270 72h2v3h-2zM270 308h2v2h-2zM274 68h2v5h-2zM274 78h2v8h-2zM274 89h2v4h-2zM276 112h1v4h-1zM276 152h1v2h-1zM276 157h1v9h-1zM277 88h1v3h-1zM277 152h1v4h-1zM278 84h2v5h-2zM278 115h2v4h-2zM278 373h2v1h-2zM280 94h1v3h-1zM281 137h2v5h-2zM281 337h2v3h-2zM281 340h2v2h-2zM284 177h1v6h-1zM288 342h2v3h-2zM290 207h1v3h-1zM291 154h2v2h-2zM291 166h2v14h-2zM293 172h1v8h-1zM294 154h2v2h-2zM296 311h1v9h-1zM300 68h2v3h-2zM300 77h2v14h-2zM307 200h1v2h-1zM307 295h1v3h-1zM308 191h2v3h-2zM310 68h1v4h-1zM311 249h2v8h-2zM317 188h1v2h-1zM317 194h1v2h-1zM317 201h1v3h-1zM317 266h1v6h-1zM320 210h2v3h-2zM320 224h2v3h-2zM320 256h2v2h-2zM320 278h2v10h-2zM320 304h2v5h-2zM320 324h2v5h-2zM322 113h1v3h-1zM322 216h1v3h-1zM322 233h1v4h-1zM323 113h2v9h-2zM323 196h2v10h-2zM323 310h2v2h-2zM325 167h2v2h-2zM327 301h2v3h-2zM329 175h2v6h-2zM329 191h2v2h-2zM329 272h2v2h-2zM331 195h1v6h-1zM331 230h1v5h-1zM331 260h1v17h-1zM332 155h2v2h-2zM332 170h2v8h-2zM332 238h2v3h-2zM332 278h2v2h-2zM334 180h2v3h-2zM334 201h2v3h-2zM334 204h2v2h-2zM336 233h2v4h-2zM336 251h2v2h-2zM338 184h2v6h-2zM338 192h2v5h-2zM338 232h2v2h-2zM340 183h2v4h-2zM340 190h2v9h-2zM340 211h2v4h-2zM342 137h2v2h-2zM342 206h2v3h-2zM342 295h2v5h-2zM344 345h1v2h-1zM345 221h2v2h-2zM345 278h2v5h-2zM347 246h2v4h-2zM347 258h2v5h-2zM349 276h2v3h-2zM351 182h2v2h-2zM351 308h2v2h-2zM353 167h2v2h-2zM355 201h2v4h-2zM355 283h2v2h-2zM355 327h2v3h-2zM357 164h2v5h-2zM359 241h2v4h-2zM361 238h3v11h-3zM361 249h3v6h-3zM361 350h3v2h-3zM364 323h2v3h-2zM368 178h2v6h-2zM372 251h2v2h-2zM374 254h2v4h-2zM376 310h3v6h-3zM379 320h2v5h-2zM381 313h2v4h-2zM385 101h3v4h-3zM385 370h3v4h-3zM392 369h3v5h-3zM395 357h2v3h-2zM404 243h3v6h-3zM409 347h2v2h-2zM475 211h3v2h-3zM490 282h3v8h-3zM559 164h3v6h-3zM574 267h4v3h-4zM582 114h3v5h-3zM627 132h4v12h-4zM649 219h4v2h-4zM730 288h6v4h-6zM801 186h6v2h-6zM801 197h6v9h-6zM819 368h6v4h-6zM868 73h6v9h-6z"/>
<path fill="#ffff00" d="M174 189h1v21h-1zM196 252h1v15h-1zM196 291h1v11h-1zM197 239h1v2h-1zM202 68h1v5h-1zM203 193h1v15h-1zM203 208h1v3h-1zM205 221h1v13h-1zM205 276h1v8h-1zM207 147h1v9h-1zM207 231h1v3h-1zM207 249h1v4h-1zM208 368h1v4h-1zM210 309h1v3h-1zM211 181h1v7h-1zM211 218h1v2h-1zM215 140h1v19h-1zM215 227h1v10h-1zM215 237h1v2h-1zM216 151h1v4h-1zM216 350h1v4h-1zM217 267h1v4h-1zM218 240h1v19h-1zM218 259h1v14h-1zM218 331h1v4h-1zM219 316h1v7h-1zM221 178h1v3h-1zM222 347h1v4h-1zM223 180h1v3h-1zM223 187h1v9h-1zM224 90h1v3h-1zM224 169h1v5h-1zM224 344h1v3h-1zM225 87h1v4h-1zM226 200h1v4h-1zM226 231h1v6h-1zM230 175h1v11h-1zM230 193h1v10h-1zM232 136h1v12h-1zM232 148h1v3h-1zM232 343h1v4h-1zM233 248h1v5h-1zM233 261h1v2h-1zM234 255h1v2h-1zM234 338h1v4h-1zM239 307h1v4h-1zM240 276h1v4h-1zM242 119h1v13h-1zM242 207h1v3h-1zM243 194h1v3h-1zM244 70h1v4h-1zM244 74h1v3h-1zM244 125h1v5h-1zM244 201h1v13h-1zM244 234h1v3h-1zM244 249h1v2h-1zM245 77h1v2h-1zM245 230h1v8h-1zM247 141h2v5h-2zM249 159h1v7h-1zM249 216h1v8h-1zM250 190h1v4h-1zM253 161h1v2h-1zM254 176h1v3h-1zM254 200h1v5h-1zM259 94h1v6h-1zM259 186h1v6h-1zM259 215h1v2h-1zM260 337h1v5h-1zM263 222h1v3h-1zM264 165h1v3h-1zM264 207h1v5h-1zM265 333h1v3h-1zM265 355h1v3h-1zM268 102h1v17h-1zM269 120h1v9h-1zM270 154h2v6h-2zM270 201h2v6h-2zM273 156h1v6h-1zM273 337h1v6h-1zM276 154h1v3h-1zM276 347h1v3h-1zM277 79h1v6h-1zM277 94h1v3h-1zM277 140h1v4h-1zM277 330h1v6h-1zM280 109h1v11h-1zM281 259h2v2h-2zM283 368h1v2h-1zM285 332h2v3h-2zM291 352h2v3h-2zM293 343h1v2h-1zM293 353h1v3h-1zM294 334h2v3h-2zM300 340h2v3h-2zM300 354h2v3h-2zM302 328h1v13h-1zM305 334h2v3h-2zM305 353h2v2h-2zM307 371h1v2h-1zM313 110h2v4h-2zM315 371h2v3h-2zM318 228h2v3h-2zM325 370h2v4h-2zM332 218h2v2h-2zM332 328h2v3h-2zM332 369h2v2h-2zM334 330h2v3h-2zM336 208h2v2h-2zM336 371h2v3h-2zM338 357h2v5h-2zM342 235h2v4h-2zM342 314h2v4h-2zM342 326h2v14h-2zM344 329h1v2h-1zM344 331h1v2h-1zM344 347h1v5h-1zM345 340h2v2h-2zM347 330h2v6h-2zM357 215h2v2h-2zM381 309h2v2h-2zM388 290h2v2h-2zM395 290h2v5h-2zM399 293h3v2h-3zM399 313h3v2h-3zM443 296h3v2h-3zM446 293h2v6h-2z"/>
<path fill="#ffef00" d="M178 214h1v3h-1zM193 344h1v3h-1zM193 367h1v2h-1zM194 261h1v7h-1zM195 291h1v11h-1zM197 164h1v9h-1zM198 136h1v8h-1zM198 348h1v2h-1zM199 343h1v10h-1zM201 315h1v18h-1zM203 116h1v11h-1zM204 336h1v2h-1zM205 177h1v18h-1zM205 323h1v3h-1zM206 345h1v4h-1zM208 290h1v5h-1zM208 324h1v4h-1zM209 202h1v17h-1zM209 265h1v2h-1zM210 147h1v9h-1zM211 210h1v2h-1zM211 226h1v12h-1zM211 315h1v10h-1zM212 314h1v11h-1zM212 325h1v4h-1zM212 344h1v9h-1zM213 209h1v2h-1zM214 180h1v6h-1zM214 342h1v8h-1zM214 352h1v4h-1zM214 356h1v4h-1zM216 166h1v9h-1zM216 245h1v11h-1zM216 274h1v6h-1zM216 327h1v21h-1zM217 229h1v3h-1zM218 166h1v13h-1zM218 273h1v17h-1zM219 286h1v4h-1zM221 132h1v10h-1zM222 332h1v3h-1zM223 183h1v4h-1zM223 196h1v8h-1zM223 267h1v2h-1zM223 366h1v2h-1zM225 166h1v12h-1zM225 182h1v3h-1zM225 201h1v10h-1zM225 211h1v3h-1zM226 71h1v6h-1zM226 157h1v6h-1zM226 206h1v11h-1zM226 237h1v8h-1zM226 354h1v3h-1zM228 270h1v4h-1zM228 276h1v5h-1zM228 345h1v4h-1zM229 346h1v6h-1zM230 151h1v9h-1zM230 234h1v4h-1zM231 161h1v4h-1zM231 197h1v14h-1zM232 155h1v15h-1zM233 149h1v2h-1zM233 224h1v4h-1zM233 340h1v2h-1zM234 70h1v10h-1zM234 188h1v24h-1zM235 320h1v7h-1zM235 371h1v2h-1zM237 205h1v12h-1zM238 367h1v2h-1zM240 283h1v16h-1zM243 228h1v5h-1zM243 244h1v4h-1zM244 220h1v5h-1zM244 241h1v3h-1zM244 259h1v8h-1zM245 207h1v2h-1zM246 264h1v2h-1zM247 193h2v2h-2zM247 205h2v3h-2zM247 241h2v2h-2zM249 99h1v5h-1zM249 177h1v6h-1zM249 188h1v3h-1zM249 191h1v12h-1zM250 109h1v6h-1zM251 211h1v3h-1zM259 141h1v2h-1zM260 347h1v2h-1zM261 188h2v2h-2zM261 190h2v7h-2zM261 342h2v3h-2zM263 105h1v5h-1zM264 365h1v4h-1zM265 102h1v29h-1zM268 201h1v2h-1zM268 235h1v5h-1zM269 183h1v2h-1zM269 329h1v3h-1zM270 95h2v2h-2zM270 187h2v3h-2zM273 85h1v17h-1zM273 139h1v3h-1zM273 366h1v2h-1zM273 370h1v2h-1zM274 101h2v10h-2zM274 126h2v2h-2zM274 171h2v5h-2zM274 176h2v6h-2zM277 120h1v5h-1zM277 158h1v4h-1zM277 336h1v4h-1zM278 368h2v2h-2zM284 353h1v3h-1zM284 356h1v2h-1zM287 333h1v2h-1zM287 335h1v2h-1zM288 337h2v5h-2zM291 338h2v2h-2zM291 349h2v3h-2zM293 331h1v9h-1zM294 339h2v5h-2zM296 343h1v10h-1zM300 335h2v2h-2zM300 337h2v3h-2zM300 366h2v8h-2zM305 344h2v5h-2zM307 366h1v5h-1zM308 333h2v3h-2zM308 354h2v2h-2zM313 339h2v2h-2zM313 349h2v7h-2zM315 326h2v4h-2zM317 166h1v8h-1zM318 327h2v2h-2zM318 352h2v4h-2zM318 356h2v2h-2zM320 346h2v6h-2zM323 288h2v2h-2zM327 348h2v7h-2zM334 367h2v2h-2zM334 369h2v4h-2zM338 333h2v2h-2zM338 339h2v2h-2zM345 342h2v3h-2zM347 372h2v2h-2zM357 286h2v9h-2zM359 289h2v4h-2zM372 317h2v3h-2zM404 294h3v2h-3zM404 313h3v3h-3zM409 317h2v5h-2zM414 292h3v3h-3zM440 290h3v2h-3zM454 287h3v7h-3zM475 297h3v5h-3z"/>
<path fill="#8fff70" d="M178 231h1v6h-1zM185 229h1v2h-1zM195 329h1v9h-1zM201 211h1v2h-1zM201 265h1v13h-1zM203 159h1v6h-1zM205 195h1v2h-1zM208 270h1v3h-1zM209 176h1v2h-1zM209 181h1v2h-1zM210 249h1v9h-1zM213 229h1v10h-1zM217 345h1v2h-1zM219 202h1v6h-1zM219 312h1v2h-1zM220 255h1v17h-1zM221 270h1v3h-1zM221 337h1v2h-1zM222 165h1v3h-1zM222 308h1v17h-1zM222 339h1v3h-1zM222 342h1v2h-1zM222 344h1v3h-1zM226 254h1v9h-1zM226 263h1v2h-1zM227 264h1v8h-1zM227 313h1v2h-1zM230 186h1v7h-1zM232 351h1v5h-1zM233 344h1v5h-1zM234 169h1v3h-1zM234 172h1v3h-1zM237 222h1v8h-1zM238 171h1v3h-1zM238 195h1v5h-1zM246 238h1v5h-1zM246 258h1v6h-1zM247 221h2v2h-2zM252 165h1v3h-1zM253 188h1v12h-1zM253 213h1v5h-1zM254 110h1v3h-1zM254 223h1v3h-1zM255 186h2v3h-2zM257 68h1v3h-1zM257 169h1v3h-1zM258 215h1v4h-1zM259 85h1v9h-1zM260 114h1v4h-1zM261 139h2v5h-2zM264 186h1v10h-1zM265 314h1v3h-1zM268 80h1v3h-1zM269 336h1v6h-1zM273 115h1v3h-1zM273 335h1v2h-1zM274 99h2v2h-2zM276 116h1v10h-1zM276 126h1v3h-1zM277 75h1v2h-1zM277 342h1v5h-1zM283 94h1v6h-1zM283 123h1v8h-1zM290 365h1v7h-1zM294 111h2v2h-2zM297 106h2v10h-2zM303 338h2v4h-2zM305 164h2v3h-2zM308 74h2v2h-2zM308 322h2v5h-2zM310 353h1v3h-1zM311 210h2v6h-2zM317 186h1v2h-1zM325 183h2v4h-2zM325 366h2v4h-2zM344 352h1v2h-1zM381 330h2v5h-2zM407 349h2v3h-2zM407 352h2v7h-2zM407 364h2v4h-2zM446 171h2v4h-2zM446 198h2v2h-2z"/>
<path fill="#60ff9f" d="M180 200h1v6h-1zM183 189h1v4h-1zM187 238h1v10h-1zM195 263h1v3h-1zM195 275h1v3h-1zM205 197h1v3h-1zM207 189h1v5h-1zM207 208h1v7h-1zM209 183h1v9h-1zM209 263h1v2h-1zM211 188h1v2h-1zM214 324h1v3h-1zM214 327h1v13h-1zM215 200h1v7h-1zM217 236h1v4h-1zM219 236h1v4h-1zM220 154h1v9h-1zM220 236h1v9h-1zM221 316h1v2h-1zM222 225h1v4h-1zM222 244h1v10h-1zM226 176h1v6h-1zM227 344h1v2h-1zM233 228h1v10h-1zM233 290h1v3h-1zM234 129h1v8h-1zM235 212h1v6h-1zM240 178h1v2h-1zM240 180h1v17h-1zM240 197h1v3h-1zM240 270h1v2h-1zM241 212h1v15h-1zM242 68h1v2h-1zM245 197h1v6h-1zM246 123h1v46h-1zM246 182h1v7h-1zM246 189h1v5h-1zM246 250h1v3h-1zM246 256h1v2h-1zM247 215h2v6h-2zM247 326h2v2h-2zM249 127h1v6h-1zM249 135h1v2h-1zM250 115h1v8h-1zM251 150h1v6h-1zM253 92h1v3h-1zM253 132h1v4h-1zM254 179h1v2h-1zM255 342h2v4h-2zM257 248h1v3h-1zM257 357h1v3h-1zM259 77h1v8h-1zM260 73h1v3h-1zM263 288h1v2h-1zM270 108h2v6h-2zM270 138h2v6h-2zM270 319h2v4h-2zM272 93h1v5h-1zM273 162h1v2h-1zM274 328h2v2h-2zM276 133h1v3h-1zM276 350h1v3h-1zM278 304h2v2h-2zM280 205h1v2h-1zM281 216h2v2h-2zM283 171h1v6h-1zM283 351h1v2h-1zM284 166h1v2h-1zM284 319h1v4h-1zM285 142h2v6h-2zM285 193h2v2h-2zM287 345h1v4h-1zM288 160h2v2h-2zM290 210h1v7h-1zM291 238h2v5h-2zM297 325h2v2h-2zM299 119h1v2h-1zM299 182h1v3h-1zM299 299h1v5h-1zM300 112h2v3h-2zM302 113h1v12h-1zM305 190h2v3h-2zM305 318h2v3h-2zM307 189h1v3h-1zM307 253h1v3h-1zM307 300h1v3h-1zM310 91h1v6h-1zM311 140h2v5h-2zM311 230h2v2h-2zM311 243h2v4h-2zM311 292h2v5h-2zM313 131h2v3h-2zM313 205h2v5h-2zM315 123h2v4h-2zM318 113h2v2h-2zM320 72h2v3h-2zM320 300h2v2h-2zM322 213h1v3h-1zM322 314h1v3h-1zM323 140h2v5h-2zM323 189h2v4h-2zM323 214h2v3h-2zM323 265h2v3h-2zM323 297h2v3h-2zM325 98h2v3h-2zM325 133h2v3h-2zM325 187h2v2h-2zM325 295h2v3h-2zM325 302h2v3h-2zM327 113h2v2h-2zM327 280h2v3h-2zM334 81h2v4h-2zM336 88h2v3h-2zM336 170h2v5h-2zM336 186h2v2h-2zM338 157h2v6h-2zM338 308h2v3h-2zM340 78h2v2h-2zM340 103h2v2h-2zM340 181h2v2h-2zM342 275h2v4h-2zM344 77h1v5h-1zM345 271h2v2h-2zM347 106h2v9h-2zM353 247h2v2h-2zM355 133h2v2h-2zM355 166h2v3h-2zM359 116h2v2h-2zM366 227h2v3h-2zM366 277h2v2h-2zM368 147h2v2h-2zM368 167h2v2h-2zM372 78h2v3h-2zM372 196h2v3h-2zM374 334h2v6h-2zM376 178h3v6h-3zM379 368h2v4h-2zM381 102h2v2h-2zM383 113h2v2h-2zM383 136h2v9h-2zM383 305h2v3h-2zM385 117h3v4h-3zM385 121h3v2h-3zM385 212h3v2h-3zM385 227h3v3h-3zM390 107h2v3h-2zM392 322h3v2h-3zM392 347h3v4h-3zM395 87h2v6h-2zM395 97h2v4h-2zM395 303h2v6h-2zM397 168h2v3h-2zM397 263h2v4h-2zM397 313h2v7h-2zM404 105h3v2h-3zM404 370h3v4h-3zM407 90h2v6h-2zM407 343h2v3h-2zM409 283h2v2h-2zM409 329h2v3h-2zM417 83h2v10h-2zM419 177h3v4h-3zM427 143h2v6h-2zM427 315h2v2h-2zM429 192h3v4h-3zM435 211h2v2h-2zM440 232h3v3h-3zM446 313h2v5h-2zM448 313h3v2h-3zM451 175h3v3h-3zM451 287h3v3h-3zM454 137h3v2h-3zM457 217h3v5h-3zM460 184h3v3h-3zM460 354h3v4h-3zM463 84h3v4h-3zM463 227h3v4h-3zM463 275h3v3h-3zM466 197h3v2h-3zM469 221h3v3h-3zM469 244h3v3h-3zM475 175h3v7h-3zM475 371h3v3h-3zM478 90h3v2h-3zM478 205h3v3h-3zM481 170h3v3h-3zM484 81h3v2h-3zM484 159h3v6h-3zM490 77h3v7h-3zM490 231h3v7h-3zM493 89h3v8h-3zM493 255h3v7h-3zM493 371h3v3h-3zM506 125h3v2h-3zM513 206h3v5h-3zM513 301h3v13h-3zM516 320h3v3h-3zM519 344h4v10h-4zM526 234h4v4h-4zM533 340h4v6h-4zM537 249h3v8h-3zM537 326h3v2h-3zM537 328h3v3h-3zM540 79h4v4h-4zM540 86h4v2h-4zM540 91h4v2h-4zM540 208h4v6h-4zM540 285h4v3h-4zM540 296h4v2h-4zM544 108h4v4h-4zM544 197h4v3h-4zM544 246h4v9h-4zM544 257h4v4h-4zM548 269h3v4h-3zM548 273h3v3h-3zM551 318h4v2h-4zM551 350h4v2h-4zM559 79h3v13h-3zM562 305h4v2h-4zM566 158h4v4h-4zM574 270h4v7h-4zM578 146h4v9h-4zM578 180h4v6h-4zM578 365h4v2h-4zM582 155h3v8h-3zM582 231h3v2h-3zM582 273h3v6h-3zM582 292h3v4h-3zM582 299h3v4h-3zM582 310h3v7h-3zM582 367h3v7h-3zM585 79h4v4h-4zM585 107h4v2h-4zM585 115h4v3h-4zM585 142h4v11h-4zM585 237h4v2h-4zM585 293h4v4h-4zM585 323h4v2h-4zM585 370h4v2h-4zM597 294h5v6h-5zM602 361h4v2h-4zM606 121h4v3h-4zM606 351h4v2h-4zM618 71h4v5h-4zM622 68h5v3h-5zM622 202h5v10h-5zM635 85h5v6h-5zM640 81h4v2h-4zM640 159h4v8h-4zM640 224h4v4h-4zM640 290h4v12h-4zM644 134h5v5h-5zM644 139h5v2h-5zM644 148h5v2h-5zM644 158h5v6h-5zM649 335h4v2h-4zM662 76h5v2h-5zM662 103h5v3h-5zM667 223h4v3h-4zM671 68h5v2h-5zM671 132h5v8h-5zM671 145h5v8h-5zM671 159h5v2h-5zM671 161h5v5h-5zM671 192h5v13h-5zM671 227h5v2h-5zM671 231h5v7h-5zM671 245h5v2h-5zM671 295h5v2h-5zM671 306h5v5h-5zM671 341h5v3h-5zM671 367h5v4h-5zM676 76h5v6h-5zM676 85h5v2h-5zM676 115h5v4h-5zM676 146h5v7h-5zM676 289h5v4h-5zM676 349h5v2h-5zM686 68h4v2h-4zM686 122h4v2h-4zM686 145h4v4h-4zM690 197h5v11h-5zM695 123h5v4h-5zM695 331h5v5h-5zM700 79h5v4h-5zM700 96h5v3h-5zM700 135h5v7h-5zM700 211h5v8h-5zM700 236h5v2h-5zM700 241h5v2h-5zM700 346h5v7h-5zM705 144h5v5h-5zM705 232h5v2h-5zM705 244h5v2h-5zM705 274h5v3h-5zM705 295h5v3h-5zM705 354h5v2h-5zM705 367h5v2h-5zM710 96h5v8h-5zM710 104h5v6h-5zM710 135h5v2h-5zM710 250h5v3h-5zM710 266h5v9h-5zM710 282h5v4h-5zM710 295h5v4h-5zM710 369h5v5h-5zM720 97h5v3h-5zM720 287h5v3h-5zM720 294h5v3h-5zM730 130h6v2h-6zM730 162h6v9h-6zM730 177h6v3h-6zM730 180h6v2h-6zM730 187h6v2h-6zM730 208h6v3h-6zM730 220h6v6h-6zM730 286h6v2h-6zM730 308h6v3h-6zM736 132h5v9h-5zM736 149h5v4h-5zM736 188h5v7h-5zM736 260h5v3h-5zM736 303h5v8h-5zM736 345h5v2h-5zM736 347h5v4h-5zM741 133h5v2h-5zM741 220h5v2h-5zM751 323h6v2h-6zM762 208h6v4h-6zM768 277h5v3h-5zM768 337h5v2h-5zM768 345h5v3h-5zM773 112h6v4h-6zM779 111h5v4h-5zM779 153h5v8h-5zM779 170h5v17h-5zM779 187h5v4h-5zM779 193h5v4h-5zM779 229h5v3h-5zM779 254h5v4h-5zM779 331h5v3h-5zM784 82h6v4h-6zM784 86h6v2h-6zM784 88h6v2h-6zM784 107h6v2h-6zM784 109h6v4h-6zM784 124h6v3h-6zM784 142h6v4h-6zM784 150h6v3h-6zM784 270h6v3h-6zM784 289h6v3h-6zM784 318h6v3h-6zM790 70h6v5h-6zM790 150h6v2h-6zM790 217h6v2h-6zM796 156h5v6h-5zM796 345h5v10h-5zM801 99h6v4h-6zM801 108h6v2h-6zM801 179h6v7h-6zM801 242h6v2h-6zM801 272h6v2h-6zM801 278h6v5h-6zM801 306h6v7h-6zM801 355h6v3h-6zM807 223h6v3h-6zM813 72h6v7h-6zM813 237h6v7h-6zM813 261h6v3h-6zM813 341h6v3h-6zM813 344h6v4h-6zM813 355h6v4h-6zM819 218h6v2h-6zM819 349h6v4h-6zM825 109h6v4h-6zM837 77h6v4h-6zM837 87h6v2h-6zM837 106h6v2h-6zM837 139h6v3h-6zM837 219h6v4h-6zM837 253h6v2h-6zM843 181h6v3h-6zM843 197h6v5h-6zM849 358h6v3h-6zM855 172h6v2h-6zM855 362h6v3h-6zM861 116h7v3h-7zM861 129h7v11h-7zM861 213h7v9h-7zM868 99h6v3h-6zM874 160h6v8h-6zM874 243h6v2h-6zM880 314h7v5h-7zM880 345h7v2h-7zM887 98h6v5h-6zM887 140h6v6h-6zM887 146h6v3h-6zM887 168h6v2h-6zM887 173h6v10h-6zM887 200h6v9h-6zM887 222h6v4h-6zM887 253h6v3h-6zM887 270h6v11h-6zM887 357h6v2h-6zM887 369h6v5h-6zM893 111h7v6h-7zM893 266h7v2h-7zM900 146h7v3h-7zM907 68h6v3h-6zM907 71h6v3h-6zM907 169h6v2h-6zM907 203h6v4h-6zM907 232h6v2h-6zM907 248h6v2h-6zM907 366h6v2h-6zM913 90h7v14h-7zM913 174h7v3h-7zM913 205h7v2h-7zM913 254h7v6h-7zM913 291h7v2h-7zM913 329h7v5h-7zM920 151h7v2h-7zM920 182h7v6h-7zM920 234h7v2h-7zM920 275h7v3h-7zM920 328h7v4h-7zM920 362h7v2h-7zM927 252h7v12h-7zM934 266h7v3h-7zM941 118h7v6h-7zM941 131h7v3h-7zM941 209h7v8h-7zM941 241h7v2h-7zM941 325h7v7h-7zM941 358h7v5h-7zM941 367h7v7h-7z"/>
<path fill="#00dfff" d="M181 82h1v5h-1zM181 87h1v8h-1zM182 74h1v24h-1zM182 110h1v24h-1zM182 137h1v7h-1zM182 144h1v26h-1zM257 132h1v3h-1zM259 322h1v4h-1zM260 291h1v2h-1zM266 299h2v12h-2zM266 321h2v3h-2zM274 182h2v3h-2zM277 315h1v15h-1zM277 359h1v2h-1zM278 241h2v7h-2zM280 316h1v6h-1zM283 249h1v12h-1zM283 299h1v7h-1zM283 306h1v5h-1zM283 316h1v5h-1zM285 272h2v5h-2zM285 280h2v2h-2zM287 295h1v3h-1zM287 298h1v7h-1zM287 305h1v2h-1zM288 207h2v10h-2zM288 315h2v4h-2zM291 222h2v2h-2zM291 243h2v7h-2zM291 259h2v3h-2zM293 180h1v2h-1zM294 189h2v2h-2zM294 209h2v2h-2zM297 154h2v9h-2zM299 185h1v3h-1zM299 224h1v3h-1zM302 104h1v6h-1zM303 134h2v2h-2zM303 178h2v11h-2zM305 277h2v6h-2zM305 304h2v2h-2zM307 92h1v3h-1zM307 153h1v11h-1zM307 225h1v5h-1zM308 284h2v4h-2zM308 304h2v2h-2zM311 232h2v2h-2zM315 284h2v7h-2zM317 249h1v2h-1zM347 356h2v14h-2zM355 368h2v2h-2zM372 351h2v2h-2zM388 324h2v4h-2zM392 324h3v8h-3zM392 351h3v3h-3zM395 325h2v2h-2zM395 327h2v12h-2zM409 357h2v2h-2z"/>
<path fill="#00cfff" d="M183 68h1v5h-1zM258 315h1v3h-1zM263 332h1v4h-1zM273 307h1v4h-1zM276 166h1v9h-1zM277 254h1v10h-1zM277 306h1v3h-1zM280 161h1v16h-1zM280 209h1v5h-1zM281 317h2v2h-2zM284 194h1v2h-1zM284 196h1v4h-1zM284 244h1v2h-1zM284 313h1v4h-1zM285 190h2v3h-2zM285 243h2v3h-2zM287 197h1v4h-1zM287 256h1v10h-1zM288 285h2v3h-2zM290 257h1v6h-1zM294 360h2v2h-2zM294 362h2v3h-2zM296 216h1v4h-1zM296 287h1v6h-1zM297 283h2v2h-2zM297 287h2v2h-2zM299 258h1v2h-1zM300 241h2v5h-2zM300 280h2v7h-2zM300 297h2v3h-2zM300 304h2v5h-2zM300 309h2v3h-2zM302 71h1v7h-1zM302 200h1v7h-1zM303 146h2v12h-2zM305 306h2v2h-2zM307 180h1v9h-1zM308 288h2v8h-2zM310 227h1v2h-1zM310 236h1v5h-1zM311 172h2v13h-2zM313 238h2v5h-2zM313 253h2v2h-2zM313 362h2v2h-2zM342 360h2v2h-2zM355 365h2v3h-2zM376 326h3v5h-3zM376 341h3v4h-3zM381 343h2v12h-2zM390 333h2v7h-2zM392 336h3v3h-3zM392 354h3v10h-3zM397 334h2v3h-2zM397 365h2v6h-2zM399 350h3v3h-3zM399 355h3v4h-3zM402 350h2v7h-2zM404 368h3v2h-3zM407 338h2v5h-2zM407 368h2v2h-2z"/>
<path fill="#80ff80" d="M185 179h1v6h-1zM185 219h1v10h-1zM188 197h1v8h-1zM190 194h1v2h-1zM191 217h1v8h-1zM191 238h1v10h-1zM193 184h1v10h-1zM193 250h1v2h-1zM196 352h1v3h-1zM199 248h1v15h-1zM202 321h1v27h-1zM203 179h1v14h-1zM203 211h1v15h-1zM203 281h1v15h-1zM204 344h1v4h-1zM205 219h1v2h-1zM207 160h1v11h-1zM208 129h1v22h-1zM208 351h1v7h-1zM209 139h1v11h-1zM209 221h1v15h-1zM209 253h1v2h-1zM210 258h1v20h-1zM210 348h1v4h-1zM211 212h1v6h-1zM212 224h1v3h-1zM212 271h1v7h-1zM213 170h1v6h-1zM213 221h1v8h-1zM213 259h1v6h-1zM214 223h1v2h-1zM215 255h1v19h-1zM217 177h1v13h-1zM217 276h1v2h-1zM218 316h1v7h-1zM219 150h1v13h-1zM219 327h1v35h-1zM220 245h1v7h-1zM220 274h1v10h-1zM221 181h1v7h-1zM221 248h1v9h-1zM221 273h1v5h-1zM222 186h1v5h-1zM225 127h1v12h-1zM225 346h1v6h-1zM226 245h1v9h-1zM231 232h1v12h-1zM232 335h1v2h-1zM234 127h1v2h-1zM235 203h1v4h-1zM237 138h1v25h-1zM237 184h1v6h-1zM237 237h1v10h-1zM238 285h1v13h-1zM241 233h1v6h-1zM241 242h1v2h-1zM242 240h1v2h-1zM243 157h1v11h-1zM244 179h1v4h-1zM244 214h1v4h-1zM244 229h1v5h-1zM244 315h1v3h-1zM246 102h1v5h-1zM249 230h1v14h-1zM253 106h1v2h-1zM253 200h1v4h-1zM253 228h1v3h-1zM254 78h1v3h-1zM257 135h1v9h-1zM257 239h1v4h-1zM259 110h1v5h-1zM261 84h2v19h-2zM261 337h2v3h-2zM264 74h1v10h-1zM265 87h1v15h-1zM266 89h2v5h-2zM268 83h1v9h-1zM272 73h1v12h-1zM272 85h1v8h-1zM273 68h1v4h-1zM276 330h1v4h-1zM276 353h1v5h-1zM277 125h1v9h-1zM278 80h2v2h-2zM278 148h2v12h-2zM278 315h2v6h-2zM281 335h2v2h-2zM283 342h1v9h-1zM284 231h1v2h-1zM288 183h2v3h-2zM290 165h1v10h-1zM291 147h2v2h-2zM291 156h2v7h-2zM293 182h1v2h-1zM296 341h1v2h-1zM297 185h2v3h-2zM297 331h2v6h-2zM305 140h2v2h-2zM310 350h1v3h-1zM315 275h2v9h-2zM318 241h2v6h-2zM320 235h2v3h-2zM320 302h2v2h-2zM325 259h2v5h-2zM329 181h2v2h-2zM331 212h1v11h-1zM332 303h2v7h-2zM332 310h2v2h-2zM334 327h2v3h-2zM338 213h2v2h-2zM338 349h2v4h-2zM344 299h1v2h-1zM344 321h1v2h-1zM345 298h2v2h-2zM347 267h2v12h-2zM349 319h2v5h-2zM351 278h2v4h-2zM359 351h2v6h-2zM364 288h2v5h-2zM374 316h2v8h-2zM383 314h2v3h-2zM385 311h3v4h-3zM385 319h3v4h-3zM395 315h2v3h-2zM395 318h2v7h-2zM399 315h3v2h-3z"/>
<path fill="#ffdf00" d="M189 200h1v2h-1zM191 189h1v4h-1zM194 178h1v4h-1zM195 191h1v2h-1zM196 190h1v10h-1zM196 202h1v9h-1zM197 345h1v11h-1zM197 362h1v3h-1zM198 144h1v15h-1zM198 365h1v4h-1zM199 318h1v4h-1zM200 253h1v3h-1zM202 73h1v9h-1zM202 82h1v34h-1zM203 77h1v12h-1zM203 165h1v6h-1zM203 317h1v16h-1zM203 333h1v10h-1zM203 356h1v3h-1zM204 244h1v10h-1zM206 326h1v5h-1zM206 349h1v2h-1zM206 351h1v3h-1zM207 234h1v15h-1zM207 320h1v30h-1zM208 222h1v12h-1zM208 273h1v3h-1zM209 270h1v10h-1zM209 330h1v9h-1zM209 339h1v9h-1zM209 348h1v12h-1zM209 369h1v5h-1zM210 344h1v4h-1zM211 325h1v9h-1zM211 336h1v17h-1zM212 252h1v3h-1zM213 168h1v2h-1zM214 150h1v2h-1zM214 350h1v2h-1zM215 159h1v12h-1zM215 171h1v6h-1zM215 276h1v5h-1zM216 185h1v10h-1zM217 319h1v6h-1zM219 208h1v7h-1zM220 363h1v3h-1zM221 217h1v6h-1zM222 158h1v7h-1zM222 231h1v6h-1zM222 335h1v2h-1zM223 275h1v10h-1zM224 208h1v10h-1zM224 222h1v2h-1zM224 235h1v9h-1zM225 241h1v4h-1zM225 264h1v5h-1zM225 363h1v3h-1zM226 182h1v5h-1zM227 340h1v4h-1zM229 171h1v5h-1zM231 170h1v25h-1zM231 244h1v6h-1zM232 170h1v2h-1zM233 170h1v7h-1zM233 353h1v2h-1zM234 347h1v3h-1zM235 239h1v2h-1zM235 309h1v6h-1zM235 354h1v8h-1zM237 361h1v4h-1zM238 240h1v5h-1zM239 224h1v8h-1zM239 266h1v6h-1zM240 168h1v8h-1zM240 204h1v3h-1zM242 210h1v5h-1zM242 215h1v15h-1zM243 248h1v12h-1zM244 168h1v9h-1zM244 177h1v2h-1zM245 189h1v8h-1zM245 216h1v3h-1zM245 366h1v2h-1zM245 368h1v2h-1zM247 262h2v23h-2zM247 290h2v2h-2zM249 168h1v5h-1zM249 363h1v2h-1zM252 215h1v8h-1zM253 113h1v4h-1zM253 121h1v6h-1zM253 151h1v5h-1zM254 160h1v6h-1zM254 205h1v4h-1zM254 291h1v2h-1zM259 158h1v2h-1zM259 160h1v4h-1zM259 206h1v2h-1zM259 367h1v5h-1zM260 118h1v6h-1zM260 169h1v16h-1zM260 211h1v3h-1zM260 367h1v2h-1zM263 103h1v2h-1zM263 137h1v6h-1zM263 191h1v22h-1zM264 148h1v4h-1zM264 292h1v4h-1zM264 371h1v2h-1zM268 151h1v7h-1zM272 342h1v2h-1zM273 118h1v5h-1zM274 114h2v7h-2zM274 340h2v7h-2zM277 112h1v6h-1zM277 186h1v9h-1zM278 130h2v2h-2zM281 227h2v9h-2zM281 372h2v2h-2zM284 371h1v3h-1zM288 368h2v2h-2zM294 344h2v2h-2zM296 338h1v3h-1zM296 368h1v2h-1zM297 370h2v4h-2zM300 331h2v2h-2zM305 342h2v2h-2zM308 370h2v4h-2zM315 366h2v2h-2zM315 368h2v3h-2zM317 343h1v6h-1zM322 289h1v2h-1zM322 340h1v14h-1zM323 371h2v2h-2zM327 344h2v4h-2zM340 333h2v2h-2zM340 335h2v5h-2zM340 366h2v4h-2zM345 293h2v2h-2zM355 294h2v3h-2zM368 292h2v5h-2zM397 293h2v3h-2zM404 288h3v6h-3zM448 287h3v13h-3zM490 290h3v3h-3zM490 342h3v4h-3z"/>
<path fill="#ffbf00" d="M189 215h1v8h-1zM195 225h1v20h-1zM197 372h1v2h-1zM200 367h1v3h-1zM200 373h1v1h-1zM204 330h1v6h-1zM211 178h1v3h-1zM212 329h1v15h-1zM213 361h1v4h-1zM215 217h1v3h-1zM215 315h1v8h-1zM217 311h1v4h-1zM217 369h1v3h-1zM219 364h1v6h-1zM221 318h1v7h-1zM223 253h1v8h-1zM225 221h1v4h-1zM225 260h1v4h-1zM225 281h1v8h-1zM226 187h1v13h-1zM228 247h1v10h-1zM228 368h1v4h-1zM231 195h1v2h-1zM232 329h1v2h-1zM233 194h1v7h-1zM233 316h1v5h-1zM234 366h1v2h-1zM235 155h1v6h-1zM237 252h1v8h-1zM239 361h1v2h-1zM241 189h1v4h-1zM242 242h1v9h-1zM244 251h1v3h-1zM244 267h1v3h-1zM246 365h1v4h-1zM250 363h1v2h-1zM251 237h1v4h-1zM252 148h1v2h-1zM253 304h1v2h-1zM254 141h1v3h-1zM258 112h1v4h-1zM259 143h1v2h-1zM259 372h1v2h-1zM260 108h1v6h-1zM260 164h1v5h-1zM260 349h1v2h-1zM263 119h1v11h-1zM264 231h1v4h-1zM265 151h1v4h-1zM265 329h1v4h-1zM266 212h2v6h-2zM268 176h1v14h-1zM268 193h1v2h-1zM270 97h2v4h-2zM270 207h2v2h-2zM270 230h2v6h-2zM272 332h1v2h-1zM273 170h1v8h-1zM274 111h2v3h-2zM274 121h2v5h-2zM274 336h2v4h-2zM277 118h1v2h-1zM277 162h1v2h-1zM278 336h2v9h-2zM280 331h1v16h-1zM285 335h2v3h-2zM287 368h1v4h-1zM288 353h2v5h-2zM290 343h1v2h-1zM293 345h1v5h-1zM293 350h1v3h-1zM296 370h1v2h-1zM299 346h1v3h-1zM307 336h1v3h-1zM307 373h1v1h-1zM315 334h2v13h-2zM317 331h1v4h-1zM317 349h1v6h-1zM323 352h2v4h-2zM323 373h2v1h-2zM331 341h1v2h-1zM331 372h1v2h-1zM332 339h2v9h-2zM332 367h2v2h-2zM336 326h2v2h-2zM336 328h2v4h-2zM336 332h2v4h-2zM344 295h1v2h-1zM347 323h2v5h-2zM351 339h2v4h-2zM409 294h2v3h-2zM460 290h3v4h-3zM478 293h3v4h-3zM493 289h3v2h-3zM496 291h4v4h-4z"/>
<path fill="#ff8000" d="M191 286h1v12h-1zM196 302h1v10h-1zM200 292h1v10h-1zM200 302h1v19h-1zM200 362h1v2h-1zM208 295h1v2h-1zM208 297h1v10h-1zM210 366h1v3h-1zM212 353h1v14h-1zM219 260h1v26h-1zM221 268h1v2h-1zM222 237h1v7h-1zM224 261h1v2h-1zM224 310h1v6h-1zM224 326h1v4h-1zM225 366h1v7h-1zM226 290h1v6h-1zM226 306h1v21h-1zM226 332h1v2h-1zM227 279h1v3h-1zM228 188h1v11h-1zM229 306h1v17h-1zM229 323h1v10h-1zM230 362h1v2h-1zM230 369h1v3h-1zM231 358h1v4h-1zM232 256h1v9h-1zM232 362h1v4h-1zM233 326h1v4h-1zM233 367h1v4h-1zM234 260h1v8h-1zM234 360h1v2h-1zM235 327h1v4h-1zM235 364h1v4h-1zM236 199h1v3h-1zM237 310h1v11h-1zM238 361h1v4h-1zM238 371h1v2h-1zM239 371h1v2h-1zM240 357h1v4h-1zM240 361h1v4h-1zM242 188h1v10h-1zM244 300h1v2h-1zM244 371h1v2h-1zM246 290h1v3h-1zM246 369h1v2h-1zM249 294h1v2h-1zM249 365h1v5h-1zM250 369h1v2h-1zM251 268h1v10h-1zM251 297h1v5h-1zM253 368h1v6h-1zM254 288h1v3h-1zM257 364h1v6h-1zM259 199h1v2h-1zM259 283h1v4h-1zM260 127h1v8h-1zM261 230h2v3h-2zM263 251h1v2h-1zM264 248h1v8h-1zM265 275h1v4h-1zM266 99h2v5h-2zM266 250h2v3h-2zM268 370h1v4h-1zM269 210h1v12h-1zM269 284h1v2h-1zM270 225h2v2h-2zM274 192h2v2h-2zM274 267h2v3h-2zM287 366h1v2h-1zM299 372h1v2h-1zM307 327h1v3h-1zM311 340h2v2h-2zM311 347h2v2h-2zM323 334h2v2h-2zM331 331h1v2h-1zM334 324h2v3h-2zM334 359h2v2h-2zM336 368h2v3h-2zM353 356h2v5h-2z"/>
<path fill="#ff9f00" d="M192 300h1v8h-1zM198 369h1v2h-1zM199 295h1v8h-1zM199 363h1v2h-1zM201 309h1v6h-1zM201 369h1v4h-1zM201 373h1v1h-1zM211 299h1v8h-1zM213 301h1v3h-1zM221 199h1v2h-1zM222 229h1v2h-1zM222 259h1v13h-1zM223 361h1v3h-1zM224 165h1v4h-1zM224 185h1v8h-1zM224 193h1v8h-1zM225 195h1v6h-1zM226 363h1v5h-1zM227 205h1v5h-1zM227 227h1v8h-1zM228 229h1v18h-1zM230 228h1v2h-1zM231 371h1v2h-1zM232 222h1v5h-1zM232 371h1v3h-1zM233 245h1v3h-1zM233 278h1v12h-1zM233 338h1v2h-1zM235 197h1v6h-1zM235 278h1v2h-1zM235 362h1v2h-1zM236 148h1v10h-1zM236 202h1v7h-1zM236 211h1v3h-1zM236 313h1v13h-1zM237 266h1v6h-1zM237 369h1v3h-1zM238 262h1v13h-1zM238 298h1v2h-1zM241 256h1v2h-1zM241 272h1v2h-1zM241 366h1v3h-1zM241 369h1v2h-1zM242 361h1v6h-1zM243 260h1v12h-1zM244 218h1v2h-1zM244 360h1v9h-1zM244 369h1v2h-1zM245 212h1v2h-1zM245 221h1v9h-1zM245 370h1v4h-1zM246 363h1v2h-1zM247 285h2v3h-2zM247 288h2v2h-2zM247 292h2v7h-2zM247 363h2v2h-2zM249 137h1v5h-1zM249 244h1v2h-1zM250 281h1v2h-1zM250 367h1v2h-1zM251 180h1v10h-1zM251 369h1v5h-1zM252 201h1v3h-1zM254 119h1v12h-1zM255 297h2v9h-2zM258 336h1v9h-1zM258 368h1v3h-1zM260 154h1v10h-1zM260 342h1v2h-1zM261 369h2v2h-2zM261 371h2v3h-2zM264 214h1v5h-1zM264 369h1v2h-1zM266 135h2v6h-2zM266 155h2v5h-2zM266 184h2v7h-2zM268 221h1v2h-1zM268 366h1v4h-1zM269 198h1v12h-1zM269 353h1v6h-1zM270 101h2v7h-2zM270 357h2v3h-2zM270 369h2v2h-2zM272 121h1v2h-1zM272 154h1v5h-1zM272 366h1v2h-1zM273 223h1v5h-1zM274 194h2v2h-2zM280 363h1v2h-1zM285 367h2v6h-2zM299 365h1v5h-1zM302 355h1v6h-1zM313 368h2v5h-2zM325 332h2v6h-2zM325 347h2v8h-2zM332 322h2v2h-2zM334 347h2v4h-2zM336 336h2v4h-2zM336 354h2v4h-2zM338 362h2v2h-2zM340 346h2v8h-2z"/>
<path fill="#ffcf00" d="M193 203h1v17h-1zM196 184h1v6h-1zM197 365h1v7h-1zM198 224h1v2h-1zM198 320h1v9h-1zM199 353h1v10h-1zM199 365h1v5h-1zM201 360h1v9h-1zM202 116h1v8h-1zM202 124h1v40h-1zM202 259h1v6h-1zM204 222h1v7h-1zM204 338h1v6h-1zM204 362h1v12h-1zM209 240h1v9h-1zM210 282h1v4h-1zM210 318h1v26h-1zM211 220h1v2h-1zM211 238h1v5h-1zM211 243h1v4h-1zM211 281h1v7h-1zM213 272h1v11h-1zM214 198h1v6h-1zM214 238h1v9h-1zM216 226h1v2h-1zM216 228h1v3h-1zM218 208h1v26h-1zM221 368h1v4h-1zM222 171h1v3h-1zM223 150h1v6h-1zM224 246h1v15h-1zM225 185h1v7h-1zM225 239h1v2h-1zM225 269h1v5h-1zM229 258h1v7h-1zM229 265h1v2h-1zM230 272h1v15h-1zM232 326h1v3h-1zM233 259h1v2h-1zM234 362h1v4h-1zM235 368h1v3h-1zM237 365h1v4h-1zM239 276h1v13h-1zM239 367h1v2h-1zM247 243h2v9h-2zM249 166h1v2h-1zM249 173h1v4h-1zM249 224h1v6h-1zM252 112h1v3h-1zM252 208h1v2h-1zM253 183h1v2h-1zM253 355h1v2h-1zM253 361h1v4h-1zM254 135h1v4h-1zM255 95h2v6h-2zM257 97h1v10h-1zM259 100h1v10h-1zM260 98h1v10h-1zM260 135h1v6h-1zM260 216h1v10h-1zM261 125h2v2h-2zM261 127h2v6h-2zM261 214h2v2h-2zM261 355h2v2h-2zM263 95h1v8h-1zM263 143h1v10h-1zM263 160h1v10h-1zM264 84h1v33h-1zM265 131h1v5h-1zM266 118h2v17h-2zM266 141h2v3h-2zM269 176h1v3h-1zM269 185h1v3h-1zM269 188h1v10h-1zM269 342h1v8h-1zM270 144h2v10h-2zM270 163h2v14h-2zM270 183h2v2h-2zM270 344h2v5h-2zM270 349h2v2h-2zM270 371h2v3h-2zM272 336h1v6h-1zM273 178h1v4h-1zM273 182h1v4h-1zM273 203h1v7h-1zM277 204h1v3h-1zM278 174h2v10h-2zM280 214h1v2h-1zM281 365h2v7h-2zM291 370h2v4h-2zM296 335h1v3h-1zM297 354h2v2h-2zM305 349h2v4h-2zM313 334h2v5h-2zM313 345h2v4h-2zM315 347h2v3h-2zM317 366h1v2h-1zM320 340h2v6h-2zM322 330h1v8h-1zM325 338h2v4h-2zM327 341h2v3h-2zM329 336h2v4h-2zM332 335h2v2h-2zM340 340h2v6h-2zM342 340h2v4h-2zM344 354h1v5h-1zM347 328h2v2h-2zM349 349h2v3h-2zM407 290h2v2h-2zM432 289h3v2h-3zM437 294h3v4h-3zM440 286h3v4h-3zM451 296h3v3h-3zM484 293h3v2h-3z"/>
<path fill="#ff2000" d="M193 306h1v4h-1zM197 309h1v2h-1zM211 295h1v4h-1zM213 291h1v10h-1zM216 299h1v3h-1zM216 302h1v2h-1zM226 296h1v5h-1zM226 304h1v2h-1zM229 185h1v3h-1zM230 296h1v3h-1zM232 331h1v2h-1zM239 311h1v4h-1zM241 289h1v2h-1zM243 284h1v6h-1zM246 297h1v6h-1zM246 313h1v7h-1zM249 285h1v9h-1zM250 289h1v4h-1zM254 284h1v2h-1zM255 235h2v20h-2zM260 285h1v6h-1zM260 362h1v3h-1zM263 213h1v7h-1zM263 227h1v9h-1zM264 283h1v6h-1zM265 284h1v3h-1zM266 233h2v10h-2zM266 281h2v3h-2zM269 222h1v4h-1zM269 229h1v2h-1zM269 279h1v2h-1zM270 236h2v3h-2zM270 291h2v2h-2zM272 215h1v2h-1zM272 220h1v4h-1zM272 274h1v6h-1zM272 358h1v6h-1zM280 357h1v4h-1zM281 358h2v3h-2zM283 364h1v2h-1zM285 364h2v3h-2zM290 326h1v11h-1zM290 363h1v2h-1zM291 358h2v4h-2zM293 359h1v4h-1zM307 348h1v4h-1zM307 361h1v3h-1zM307 364h1v2h-1zM318 361h2v2h-2zM323 359h2v2h-2zM327 362h2v2h-2zM327 369h2v2h-2zM332 364h2v3h-2zM334 361h2v2h-2zM340 354h2v2h-2zM353 352h2v4h-2z"/>
<path fill="#ff8f00" d="M194 300h1v26h-1zM196 362h1v5h-1zM197 192h1v34h-1zM198 305h1v8h-1zM198 355h1v10h-1zM201 302h1v7h-1zM204 295h1v24h-1zM209 365h1v4h-1zM211 353h1v16h-1zM213 265h1v7h-1zM217 271h1v5h-1zM219 308h1v2h-1zM219 370h1v4h-1zM220 359h1v2h-1zM220 371h1v2h-1zM223 204h1v19h-1zM224 220h1v2h-1zM224 295h1v11h-1zM224 366h1v2h-1zM225 335h1v2h-1zM226 168h1v2h-1zM226 360h1v3h-1zM226 368h1v3h-1zM228 218h1v5h-1zM228 365h1v3h-1zM230 162h1v13h-1zM230 287h1v9h-1zM230 331h1v2h-1zM231 362h1v5h-1zM231 367h1v2h-1zM231 369h1v2h-1zM232 196h1v6h-1zM233 208h1v2h-1zM234 257h1v3h-1zM234 268h1v8h-1zM234 330h1v3h-1zM239 167h1v3h-1zM239 205h1v6h-1zM240 264h1v6h-1zM241 244h1v3h-1zM241 285h1v2h-1zM242 260h1v4h-1zM244 191h1v10h-1zM245 247h1v22h-1zM246 293h1v2h-1zM249 246h1v7h-1zM249 299h1v2h-1zM257 281h1v7h-1zM259 213h1v2h-1zM259 334h1v5h-1zM260 205h1v6h-1zM260 373h1v1h-1zM263 153h1v7h-1zM264 212h1v2h-1zM264 219h1v6h-1zM265 186h1v4h-1zM266 163h2v2h-2zM268 92h1v3h-1zM268 344h1v2h-1zM269 367h1v4h-1zM269 371h1v2h-1zM270 196h2v5h-2zM270 209h2v3h-2zM270 219h2v2h-2zM272 170h1v7h-1zM272 177h1v4h-1zM273 255h1v2h-1zM273 368h1v2h-1zM277 177h1v4h-1zM280 179h1v4h-1zM280 367h1v3h-1zM280 370h1v2h-1zM293 372h1v2h-1zM296 356h1v4h-1zM297 366h2v2h-2zM299 336h1v10h-1zM302 363h1v2h-1zM311 334h2v2h-2zM313 341h2v4h-2zM323 330h2v4h-2zM331 322h1v9h-1zM331 370h1v2h-1zM332 326h2v2h-2zM347 343h2v5h-2zM383 292h2v2h-2z"/>
<path fill="#ff7000" d="M195 361h1v4h-1zM200 364h1v3h-1zM205 368h1v3h-1zM209 360h1v5h-1zM210 291h1v16h-1zM211 307h1v8h-1zM213 371h1v3h-1zM214 371h1v3h-1zM218 361h1v5h-1zM219 174h1v4h-1zM222 369h1v2h-1zM222 371h1v3h-1zM223 265h1v2h-1zM223 364h1v2h-1zM224 163h1v2h-1zM224 201h1v7h-1zM224 228h1v7h-1zM224 263h1v2h-1zM224 283h1v9h-1zM227 210h1v2h-1zM228 290h1v4h-1zM228 324h1v3h-1zM228 360h1v5h-1zM229 229h1v13h-1zM229 359h1v7h-1zM229 366h1v2h-1zM232 265h1v18h-1zM234 324h1v3h-1zM239 363h1v4h-1zM244 274h1v2h-1zM244 302h1v3h-1zM244 358h1v2h-1zM246 310h1v3h-1zM251 286h1v3h-1zM251 289h1v2h-1zM252 359h1v10h-1zM253 279h1v8h-1zM253 302h1v2h-1zM254 293h1v5h-1zM259 273h1v6h-1zM260 214h1v2h-1zM260 369h1v4h-1zM263 247h1v4h-1zM263 276h1v2h-1zM264 238h1v5h-1zM264 356h1v9h-1zM265 171h1v5h-1zM265 193h1v11h-1zM265 281h1v3h-1zM265 348h1v7h-1zM266 344h2v9h-2zM269 179h1v4h-1zM269 363h1v2h-1zM280 247h1v6h-1zM287 363h1v3h-1zM297 361h2v2h-2zM299 334h1v2h-1zM310 361h1v2h-1zM310 363h1v2h-1zM311 336h2v4h-2zM311 349h2v6h-2zM323 365h2v3h-2zM327 371h2v3h-2zM331 336h1v3h-1zM334 363h2v2h-2zM334 365h2v2h-2z"/>
<path fill="#ff4000" d="M197 298h1v11h-1zM198 299h1v6h-1zM199 306h1v4h-1zM202 265h1v56h-1zM214 360h1v11h-1zM220 292h1v13h-1zM221 300h1v16h-1zM225 309h1v2h-1zM227 365h1v2h-1zM229 295h1v11h-1zM233 293h1v8h-1zM233 330h1v8h-1zM234 318h1v6h-1zM234 368h1v3h-1zM236 179h1v17h-1zM239 359h1v2h-1zM241 306h1v6h-1zM244 308h1v2h-1zM249 281h1v4h-1zM250 365h1v2h-1zM254 280h1v4h-1zM255 308h2v5h-2zM258 366h1v2h-1zM259 268h1v3h-1zM263 225h1v2h-1zM265 204h1v5h-1zM265 235h1v2h-1zM265 271h1v4h-1zM266 182h2v2h-2zM266 218h2v4h-2zM266 253h2v4h-2zM266 267h2v7h-2zM268 213h1v3h-1zM269 265h1v9h-1zM270 177h2v6h-2zM270 267h2v7h-2zM270 363h2v3h-2zM272 346h1v8h-1zM273 261h1v6h-1zM281 361h2v2h-2zM284 218h1v13h-1zM290 349h1v4h-1zM293 356h1v3h-1zM293 363h1v3h-1zM296 362h1v3h-1zM308 362h2v5h-2zM317 364h1v2h-1zM322 356h1v4h-1zM327 360h2v2h-2zM331 333h1v3h-1z"/>
<path fill="#ff3000" d="M198 293h1v6h-1zM212 299h1v2h-1zM221 365h1v3h-1zM224 218h1v2h-1zM233 365h1v2h-1zM236 260h1v9h-1zM243 290h1v2h-1zM245 282h1v2h-1zM245 284h1v4h-1zM250 293h1v5h-1zM251 307h1v2h-1zM258 237h1v18h-1zM258 255h1v21h-1zM259 271h1v2h-1zM261 180h2v8h-2zM261 210h2v4h-2zM261 233h2v8h-2zM264 235h1v3h-1zM265 190h1v3h-1zM265 363h1v4h-1zM268 259h1v4h-1zM268 291h1v2h-1zM268 364h1v2h-1zM269 226h1v3h-1zM269 231h1v5h-1zM270 227h2v3h-2zM272 199h1v6h-1zM272 207h1v8h-1zM273 228h1v4h-1zM274 211h2v11h-2zM274 222h2v4h-2zM280 353h1v4h-1zM287 356h1v7h-1zM296 360h1v2h-1zM300 357h2v6h-2zM307 344h1v4h-1zM308 367h2v3h-2zM313 359h2v3h-2z"/>
<path fill="#ff6000" d="M199 370h1v2h-1zM203 359h1v12h-1zM205 299h1v4h-1zM207 284h1v36h-1zM210 307h1v2h-1zM215 308h1v7h-1zM215 357h1v17h-1zM216 288h1v8h-1zM217 298h1v6h-1zM217 304h1v2h-1zM217 372h1v2h-1zM222 356h1v13h-1zM224 174h1v8h-1zM224 244h1v2h-1zM230 325h1v4h-1zM230 364h1v5h-1zM234 246h1v9h-1zM234 327h1v3h-1zM234 371h1v2h-1zM236 214h1v6h-1zM240 365h1v2h-1zM241 371h1v2h-1zM243 362h1v6h-1zM247 303h2v6h-2zM251 363h1v6h-1zM253 365h1v3h-1zM255 306h2v2h-2zM258 311h1v4h-1zM258 361h1v5h-1zM259 295h1v13h-1zM259 348h1v5h-1zM259 361h1v4h-1zM260 243h1v6h-1zM261 223h2v3h-2zM261 278h2v5h-2zM261 361h2v3h-2zM263 220h1v2h-1zM263 290h1v2h-1zM263 292h1v5h-1zM265 289h1v3h-1zM266 165h2v14h-2zM266 341h2v3h-2zM270 216h2v3h-2zM273 359h1v2h-1zM274 228h2v4h-2zM277 231h1v2h-1zM278 345h2v11h-2zM283 366h1v2h-1zM290 340h1v3h-1zM297 363h2v3h-2zM299 320h1v5h-1zM299 370h1v2h-1zM307 332h1v4h-1zM308 360h2v2h-2zM311 342h2v5h-2zM311 361h2v3h-2zM313 364h2v2h-2zM331 366h1v2h-1zM336 361h2v3h-2z"/>
<path fill="#00ffff" d="M200 105h1v2h-1zM208 257h1v3h-1zM210 76h1v7h-1zM214 267h1v10h-1zM238 84h1v2h-1zM240 200h1v4h-1zM264 307h1v3h-1zM269 307h1v7h-1zM274 190h2v2h-2zM277 219h1v4h-1zM283 311h1v2h-1zM284 209h1v4h-1zM284 253h1v3h-1zM285 155h2v4h-2zM285 298h2v10h-2zM285 318h2v2h-2zM288 230h2v8h-2zM288 280h2v5h-2zM290 225h1v12h-1zM290 283h1v3h-1zM291 233h2v2h-2zM291 294h2v2h-2zM293 277h1v2h-1zM294 199h2v3h-2zM297 193h2v3h-2zM299 245h1v7h-1zM302 78h1v3h-1zM302 164h1v9h-1zM303 162h2v16h-2zM303 363h2v2h-2zM305 265h2v2h-2zM305 273h2v4h-2zM307 219h1v3h-1zM308 149h2v9h-2zM310 293h1v2h-1zM311 257h2v5h-2zM311 287h2v3h-2zM313 306h2v2h-2zM315 229h2v6h-2zM318 224h2v4h-2zM351 364h2v3h-2zM353 365h2v3h-2zM374 367h2v2h-2zM376 333h3v8h-3zM376 362h3v4h-3zM379 365h2v3h-2zM395 339h2v11h-2zM404 341h3v21h-3z"/>
<path fill="#ffaf00" d="M202 348h1v26h-1zM207 350h1v21h-1zM208 361h1v7h-1zM212 242h1v3h-1zM213 365h1v6h-1zM215 222h1v5h-1zM216 354h1v20h-1zM217 359h1v10h-1zM218 323h1v2h-1zM218 366h1v3h-1zM218 369h1v2h-1zM220 305h1v3h-1zM220 361h1v2h-1zM221 363h1v2h-1zM223 223h1v6h-1zM223 368h1v4h-1zM224 224h1v4h-1zM224 361h1v3h-1zM225 214h1v7h-1zM225 225h1v8h-1zM225 274h1v7h-1zM226 170h1v3h-1zM226 327h1v5h-1zM227 181h1v5h-1zM227 220h1v2h-1zM227 315h1v6h-1zM227 360h1v5h-1zM227 367h1v3h-1zM228 138h1v3h-1zM229 193h1v5h-1zM229 198h1v20h-1zM229 368h1v2h-1zM230 203h1v2h-1zM230 230h1v4h-1zM230 313h1v3h-1zM230 322h1v3h-1zM231 147h1v14h-1zM231 211h1v7h-1zM232 192h1v4h-1zM232 369h1v2h-1zM234 373h1v1h-1zM235 207h1v3h-1zM235 241h1v5h-1zM235 246h1v3h-1zM235 315h1v5h-1zM236 286h1v4h-1zM236 294h1v4h-1zM236 368h1v2h-1zM238 369h1v2h-1zM239 179h1v3h-1zM240 367h1v2h-1zM242 367h1v3h-1zM243 235h1v9h-1zM244 140h1v2h-1zM244 305h1v3h-1zM247 365h2v7h-2zM250 194h1v4h-1zM251 178h1v2h-1zM252 95h1v4h-1zM252 128h1v11h-1zM252 186h1v2h-1zM253 110h1v3h-1zM253 136h1v10h-1zM253 269h1v6h-1zM254 103h1v2h-1zM254 113h1v2h-1zM257 151h1v2h-1zM258 229h1v6h-1zM259 164h1v22h-1zM259 201h1v5h-1zM259 217h1v5h-1zM260 124h1v3h-1zM260 185h1v13h-1zM260 198h1v7h-1zM260 329h1v5h-1zM260 344h1v3h-1zM261 160h2v5h-2zM261 220h2v3h-2zM263 130h1v7h-1zM264 199h1v8h-1zM266 179h2v3h-2zM268 143h1v8h-1zM268 231h1v4h-1zM270 160h2v3h-2zM273 107h1v8h-1zM273 188h1v6h-1zM274 198h2v5h-2zM274 209h2v2h-2zM283 370h1v4h-1zM285 338h2v13h-2zM288 370h2v4h-2zM299 331h1v3h-1zM307 339h1v5h-1zM308 356h2v4h-2zM313 330h2v4h-2zM313 356h2v3h-2zM315 330h2v4h-2zM317 340h1v3h-1zM318 331h2v2h-2zM318 338h2v8h-2zM318 369h2v2h-2zM322 338h1v2h-1zM323 336h2v12h-2zM323 368h2v3h-2zM327 327h2v2h-2zM329 340h2v2h-2zM331 339h1v2h-1zM332 331h2v4h-2zM334 373h2v1h-2zM336 351h2v3h-2zM336 366h2v2h-2zM340 309h2v5h-2zM340 329h2v4h-2zM344 338h1v2h-1zM347 340h2v3h-2zM457 293h3v2h-3zM466 290h3v2h-3zM493 291h3v6h-3z"/>
<path fill="#ff5000" d="M203 296h1v21h-1zM206 295h1v31h-1zM206 360h1v14h-1zM219 362h1v2h-1zM220 369h1v2h-1zM228 333h1v3h-1zM233 323h1v3h-1zM236 309h1v4h-1zM236 361h1v3h-1zM245 304h1v2h-1zM245 306h1v4h-1zM246 295h1v2h-1zM249 296h1v3h-1zM250 287h1v2h-1zM251 291h1v6h-1zM252 301h1v6h-1zM253 287h1v6h-1zM257 297h1v2h-1zM258 356h1v5h-1zM259 292h1v3h-1zM261 197h2v3h-2zM261 299h2v8h-2zM261 357h2v4h-2zM265 279h1v2h-1zM266 84h2v5h-2zM268 251h1v5h-1zM268 354h1v4h-1zM270 221h2v4h-2zM272 112h1v4h-1zM272 205h1v2h-1zM272 334h1v2h-1zM273 234h1v2h-1zM273 361h1v3h-1zM273 364h1v2h-1zM274 251h2v3h-2zM278 204h2v5h-2zM278 239h2v2h-2zM281 363h2v2h-2zM284 369h1v2h-1zM290 353h1v3h-1zM293 370h1v2h-1zM300 363h2v3h-2zM307 330h1v2h-1zM322 360h1v4h-1zM322 364h1v4h-1zM323 361h2v2h-2zM325 345h2v2h-2zM331 343h1v8h-1zM331 362h1v4h-1z"/>
<path fill="#ef0000" d="M213 304h1v5h-1zM227 299h1v9h-1zM228 298h1v10h-1zM233 301h1v11h-1zM236 298h1v11h-1zM239 296h1v5h-1zM255 277h2v9h-2zM259 250h1v5h-1zM260 357h1v5h-1zM261 216h2v4h-2zM264 245h1v3h-1zM265 292h1v3h-1zM266 191h2v12h-2zM266 203h2v2h-2zM269 253h1v2h-1zM270 249h2v16h-2zM272 195h1v4h-1zM272 224h1v3h-1zM280 361h1v2h-1zM285 359h2v3h-2zM290 358h1v5h-1zM303 353h2v2h-2zM307 359h1v2h-1zM315 362h2v2h-2zM315 364h2v2h-2zM317 359h1v3h-1zM317 362h1v2h-1zM318 358h2v3h-2zM322 368h1v2h-1zM327 357h2v3h-2zM331 359h1v3h-1zM332 360h2v4h-2z"/>
<path fill="#ff1000" d="M214 305h1v6h-1zM236 364h1v4h-1zM238 300h1v9h-1zM239 303h1v2h-1zM241 364h1v2h-1zM243 311h1v5h-1zM251 282h1v4h-1zM258 292h1v19h-1zM260 226h1v5h-1zM261 275h2v3h-2zM263 236h1v3h-1zM265 176h1v10h-1zM265 209h1v13h-1zM266 227h2v2h-2zM268 281h1v2h-1zM269 255h1v2h-1zM269 290h1v3h-1zM270 360h2v3h-2zM272 159h1v3h-1zM272 245h1v4h-1zM273 267h1v7h-1zM278 228h2v2h-2zM285 362h2v2h-2zM290 337h1v3h-1zM299 361h1v4h-1zM302 361h1v2h-1zM311 329h2v5h-2zM323 348h2v4h-2zM325 355h2v3h-2zM325 358h2v5h-2zM338 367h2v4h-2z"/>
<path fill="#ff0000" d="M215 304h1v4h-1zM218 297h1v6h-1zM222 301h1v2h-1zM228 308h1v4h-1zM235 296h1v8h-1zM237 297h1v13h-1zM242 264h1v5h-1zM242 283h1v11h-1zM246 282h1v8h-1zM249 301h1v6h-1zM254 260h1v8h-1zM254 286h1v2h-1zM260 365h1v2h-1zM264 277h1v6h-1zM265 244h1v4h-1zM266 222h2v2h-2zM266 274h2v7h-2zM266 355h2v2h-2zM268 158h1v4h-1zM268 218h1v3h-1zM268 244h1v7h-1zM268 256h1v3h-1zM268 358h1v6h-1zM270 212h2v4h-2zM270 281h2v8h-2zM272 227h1v3h-1zM272 249h1v4h-1zM272 354h1v4h-1zM285 356h2v3h-2zM288 358h2v6h-2zM299 349h1v10h-1zM299 359h1v2h-1zM318 346h2v6h-2zM325 363h2v3h-2zM331 357h1v2h-1zM332 348h2v3h-2zM340 356h2v4h-2zM347 353h2v3h-2zM349 352h2v4h-2zM351 348h2v10h-2z"/>
<path fill="#df0000" d="M216 304h1v8h-1zM222 303h1v5h-1zM225 295h1v14h-1zM228 294h1v4h-1zM243 292h1v14h-1zM263 282h1v6h-1zM264 225h1v6h-1zM265 248h1v6h-1zM266 229h2v4h-2zM266 287h2v5h-2zM266 353h2v2h-2zM268 276h1v3h-1zM268 279h1v2h-1zM272 230h1v6h-1zM272 256h1v9h-1zM272 297h1v2h-1zM283 359h1v5h-1zM296 365h1v3h-1zM315 357h2v5h-2zM327 364h2v2h-2zM338 364h2v3h-2z"/>
<path fill="#af0000" d="M217 306h1v2h-1zM240 299h1v17h-1zM263 273h1v3h-1zM266 224h2v3h-2zM266 284h2v3h-2zM291 362h2v8h-2zM323 356h2v3h-2z"/>
<path fill="#cf0000" d="M217 308h1v3h-1zM226 301h1v3h-1zM231 307h1v5h-1zM232 298h1v11h-1zM259 287h1v5h-1zM260 270h1v2h-1zM260 272h1v5h-1zM261 251h2v7h-2zM261 364h2v5h-2zM263 270h1v3h-1zM263 278h1v4h-1zM264 256h1v10h-1zM264 273h1v4h-1zM265 254h1v6h-1zM265 360h1v3h-1zM266 362h2v7h-2zM269 247h1v3h-1zM269 250h1v3h-1zM269 257h1v6h-1zM270 295h2v2h-2zM272 270h1v4h-1zM278 356h2v12h-2zM278 370h2v3h-2zM317 355h1v4h-1zM336 364h2v2h-2z"/>
<path fill="#bf0000" d="M218 293h1v4h-1zM230 299h1v3h-1zM242 299h1v18h-1zM252 283h1v18h-1zM259 365h1v2h-1zM260 264h1v6h-1zM266 205h2v5h-2zM268 266h1v8h-1zM272 217h1v3h-1zM280 365h1v2h-1zM288 364h2v4h-2z"/>
<path fill="#9f0000" d="M224 306h1v4h-1zM236 292h1v2h-1zM259 262h1v3h-1zM302 365h1v2h-1z"/>
<path fill="#00efff" d="M227 179h1v2h-1zM255 255h2v17h-2zM261 316h2v4h-2zM261 320h2v3h-2zM263 357h1v8h-1zM266 311h2v3h-2zM273 210h1v2h-1zM273 305h1v2h-1zM273 326h1v2h-1zM274 314h2v2h-2zM278 192h2v3h-2zM280 257h1v4h-1zM281 310h2v2h-2zM283 313h1v3h-1zM284 204h1v5h-1zM285 212h2v7h-2zM285 246h2v3h-2zM287 237h1v6h-1zM290 291h1v3h-1zM291 163h2v3h-2zM291 296h2v3h-2zM291 301h2v4h-2zM294 160h2v10h-2zM296 181h1v3h-1zM296 260h1v2h-1zM297 170h2v3h-2zM297 196h2v2h-2zM299 222h1v2h-1zM299 304h1v3h-1zM300 205h2v12h-2zM302 299h1v2h-1zM305 145h2v3h-2zM305 195h2v8h-2zM307 256h1v4h-1zM307 267h1v8h-1zM307 277h1v3h-1zM310 183h1v4h-1zM310 252h1v2h-1zM310 283h1v5h-1zM311 234h2v2h-2zM311 279h2v6h-2zM317 312h1v2h-1zM353 370h2v2h-2zM355 350h2v4h-2zM390 345h2v2h-2zM409 365h2v3h-2z"/>
<path fill="#8f0000" d="M239 305h1v2h-1zM331 351h1v4h-1z"/>
<path fill="#00bfff" d="M255 116h2v14h-2zM258 152h1v3h-1zM258 280h1v12h-1zM263 367h1v5h-1zM269 319h1v7h-1zM270 193h2v3h-2zM272 236h1v3h-1zM274 226h2v2h-2zM274 236h2v9h-2zM277 311h1v4h-1zM278 232h2v3h-2zM280 322h1v4h-1zM281 236h2v2h-2zM283 217h1v4h-1zM283 233h1v2h-1zM283 235h1v5h-1zM285 195h2v2h-2zM285 266h2v6h-2zM287 207h1v8h-1zM290 195h1v4h-1zM291 200h2v8h-2zM293 239h1v2h-1zM293 258h1v3h-1zM294 281h2v2h-2zM296 293h1v2h-1zM296 295h1v2h-1zM296 300h1v2h-1zM297 190h2v3h-2zM297 216h2v4h-2zM297 242h2v4h-2zM299 68h1v7h-1zM299 255h1v3h-1zM299 269h1v3h-1zM300 91h2v6h-2zM300 179h2v6h-2zM300 185h2v3h-2zM300 291h2v3h-2zM302 159h1v3h-1zM303 191h2v2h-2zM307 202h1v2h-1zM307 242h1v8h-1zM310 244h1v8h-1zM315 212h2v3h-2zM329 355h2v2h-2zM340 370h2v4h-2zM351 343h2v5h-2zM370 334h2v6h-2zM376 349h3v2h-3zM385 352h3v7h-3zM388 328h2v3h-2zM392 364h3v3h-3zM395 352h2v3h-2zM397 331h2v3h-2zM404 362h3v3h-3zM409 339h2v8h-2z"/>
<path fill="#009fff" d="M255 140h2v7h-2zM257 235h1v4h-1zM270 328h2v4h-2zM274 352h2v15h-2zM276 365h1v2h-1zM278 265h2v5h-2zM280 309h1v2h-1zM280 311h1v2h-1zM281 244h2v5h-2zM287 193h1v4h-1zM288 278h2v2h-2zM290 286h1v3h-1zM291 193h2v2h-2zM291 217h2v5h-2zM291 224h2v6h-2zM293 186h1v6h-1zM293 192h1v9h-1zM293 208h1v10h-1zM293 250h1v4h-1zM294 202h2v2h-2zM294 266h2v9h-2zM294 367h2v6h-2zM297 294h2v2h-2zM297 298h2v2h-2zM302 295h1v4h-1zM302 303h1v2h-1zM303 103h2v16h-2zM305 153h2v5h-2zM307 222h1v3h-1zM307 230h1v5h-1zM307 308h1v4h-1zM308 229h2v8h-2zM311 204h2v2h-2zM315 220h2v3h-2zM320 366h2v4h-2zM342 367h2v2h-2zM370 357h2v2h-2z"/>
<path fill="#0040ff" d="M255 313h2v9h-2zM269 281h1v3h-1zM273 291h1v2h-1zM278 291h2v2h-2zM281 249h2v3h-2zM281 288h2v2h-2zM283 215h1v2h-1zM283 280h1v3h-1zM283 285h1v2h-1zM284 240h1v2h-1zM285 251h2v7h-2zM291 255h2v4h-2zM291 282h2v2h-2zM294 216h2v4h-2zM294 253h2v2h-2zM294 263h2v3h-2zM294 299h2v2h-2zM296 274h1v3h-1zM297 223h2v4h-2zM300 230h2v2h-2zM302 213h1v2h-1zM302 222h1v4h-1zM302 226h1v8h-1zM302 244h1v4h-1zM303 201h2v3h-2zM305 245h2v4h-2zM307 235h1v7h-1zM308 247h2v4h-2zM310 212h1v4h-1zM310 258h1v5h-1zM310 263h1v6h-1zM310 272h1v8h-1zM329 357h2v5h-2zM342 365h2v2h-2zM383 323h2v2h-2z"/>
<path fill="#0030ff" d="M257 116h1v2h-1zM266 314h2v7h-2zM268 293h1v9h-1zM270 297h2v2h-2zM273 274h1v8h-1zM280 299h1v4h-1zM281 223h2v4h-2zM281 255h2v4h-2zM284 294h1v2h-1zM287 272h1v3h-1zM287 289h1v6h-1zM291 284h2v8h-2zM294 229h2v7h-2zM297 272h2v7h-2zM300 249h2v4h-2zM300 272h2v3h-2zM302 248h1v5h-1zM302 269h1v5h-1zM305 269h2v4h-2zM310 229h1v2h-1zM320 208h2v2h-2zM342 369h2v2h-2zM345 359h2v9h-2zM385 359h3v5h-3z"/>
<path fill="#0060ff" d="M257 160h1v9h-1zM257 362h1v2h-1zM263 372h1v2h-1zM264 296h1v11h-1zM268 302h1v2h-1zM269 288h1v2h-1zM270 289h2v2h-2zM281 238h2v3h-2zM283 208h1v7h-1zM284 364h1v2h-1zM287 247h1v6h-1zM290 272h1v7h-1zM291 268h2v8h-2zM293 224h1v2h-1zM294 249h2v4h-2zM294 261h2v2h-2zM296 246h1v6h-1zM296 272h1v2h-1zM297 254h2v2h-2zM297 285h2v2h-2zM297 300h2v6h-2zM299 272h1v12h-1zM302 236h1v4h-1zM302 253h1v2h-1zM303 365h2v3h-2zM305 355h2v17h-2zM313 366h2v2h-2zM320 362h2v4h-2zM320 370h2v3h-2zM342 353h2v2h-2zM353 349h2v3h-2zM379 356h2v9h-2zM385 350h3v2h-3zM388 355h2v2h-2zM388 357h2v9h-2zM395 355h2v2h-2z"/>
<path fill="#0050ff" d="M257 180h1v20h-1zM263 297h1v3h-1zM274 288h2v9h-2zM276 361h1v4h-1zM277 291h1v10h-1zM277 361h1v2h-1zM278 297h2v2h-2zM281 191h2v4h-2zM283 265h1v2h-1zM284 266h1v3h-1zM285 277h2v3h-2zM291 235h2v3h-2zM291 276h2v3h-2zM291 279h2v3h-2zM296 255h1v5h-1zM300 259h2v4h-2zM300 263h2v2h-2zM302 290h1v3h-1zM307 260h1v3h-1zM310 203h1v2h-1zM318 195h2v5h-2zM349 341h2v8h-2zM381 361h2v2h-2z"/>
<path fill="#00afff" d="M257 251h1v3h-1zM258 68h1v15h-1zM260 297h1v3h-1zM261 314h2v2h-2zM269 286h1v2h-1zM274 270h2v4h-2zM274 302h2v6h-2zM277 363h1v5h-1zM281 218h2v5h-2zM281 303h2v3h-2zM283 231h1v2h-1zM284 189h1v5h-1zM284 213h1v5h-1zM284 236h1v4h-1zM284 304h1v2h-1zM284 358h1v3h-1zM285 231h2v4h-2zM287 277h1v2h-1zM288 275h2v3h-2zM288 293h2v2h-2zM288 308h2v4h-2zM290 253h1v2h-1zM291 292h2v2h-2zM293 201h1v7h-1zM293 222h1v2h-1zM293 232h1v2h-1zM294 255h2v2h-2zM296 205h1v7h-1zM296 281h1v3h-1zM300 287h2v2h-2zM302 274h1v4h-1zM305 297h2v3h-2zM307 164h1v3h-1zM307 250h1v3h-1zM307 263h1v4h-1zM308 311h2v5h-2zM311 193h2v2h-2zM320 355h2v7h-2zM329 347h2v8h-2zM329 364h2v4h-2zM342 373h2v1h-2zM349 359h2v3h-2zM353 361h2v4h-2zM379 337h2v4h-2zM379 343h2v2h-2zM381 358h2v3h-2zM383 341h2v3h-2zM390 365h2v2h-2zM395 350h2v2h-2zM397 325h2v6h-2z"/>
<path fill="#0070ff" d="M258 193h1v3h-1zM263 365h1v2h-1zM272 323h1v9h-1zM274 276h2v7h-2zM278 302h2v2h-2zM284 269h1v2h-1zM284 361h1v3h-1zM285 219h2v6h-2zM287 184h1v2h-1zM287 253h1v3h-1zM290 255h1v2h-1zM291 262h2v6h-2zM294 220h2v6h-2zM294 259h2v2h-2zM296 231h1v3h-1zM297 201h2v11h-2zM297 269h2v3h-2zM300 268h2v4h-2zM302 240h1v4h-1zM303 204h2v6h-2zM303 370h2v2h-2zM308 222h2v5h-2zM308 309h2v2h-2zM310 233h1v3h-1zM310 241h1v3h-1zM310 256h1v2h-1zM310 295h1v2h-1zM329 362h2v2h-2zM342 371h2v2h-2zM351 360h2v4h-2zM376 358h3v4h-3zM379 354h2v2h-2zM381 363h2v6h-2zM383 330h2v7h-2z"/>
<path fill="#008fff" d="M260 293h1v4h-1zM263 340h1v2h-1zM265 302h1v2h-1zM265 304h1v3h-1zM276 371h1v2h-1zM277 357h1v2h-1zM278 209h2v2h-2zM281 212h2v4h-2zM283 247h1v2h-1zM283 261h1v4h-1zM287 161h1v3h-1zM287 283h1v2h-1zM290 294h1v10h-1zM291 198h2v2h-2zM293 218h1v4h-1zM293 230h1v2h-1zM293 241h1v2h-1zM293 256h1v2h-1zM293 261h1v2h-1zM293 271h1v2h-1zM293 273h1v4h-1zM293 298h1v4h-1zM294 303h2v4h-2zM296 194h1v5h-1zM296 270h1v2h-1zM297 296h2v2h-2zM300 232h2v9h-2zM303 216h2v6h-2zM303 295h2v8h-2zM305 249h2v11h-2zM305 260h2v5h-2zM305 294h2v3h-2zM308 219h2v3h-2zM308 251h2v9h-2zM310 288h1v3h-1zM311 247h2v2h-2zM317 232h1v2h-1zM342 358h2v2h-2zM381 355h2v3h-2zM388 335h2v14h-2zM390 320h2v11h-2zM397 337h2v28h-2zM399 353h3v2h-3zM399 359h3v6h-3z"/>
<path fill="#0020ff" d="M263 300h1v2h-1zM263 336h1v2h-1zM263 348h1v5h-1zM268 283h1v6h-1zM272 295h1v2h-1zM273 287h1v2h-1zM273 289h1v2h-1zM278 277h2v7h-2zM280 196h1v2h-1zM280 285h1v6h-1zM281 280h2v4h-2zM291 250h2v5h-2zM293 234h1v5h-1zM294 193h2v6h-2zM294 301h2v2h-2zM297 256h2v3h-2zM297 259h2v2h-2zM302 207h1v4h-1zM302 259h1v10h-1zM302 278h1v5h-1zM303 198h2v3h-2zM303 253h2v4h-2zM349 366h2v3h-2zM349 369h2v5h-2zM351 373h2v1h-2zM353 343h2v3h-2zM355 354h2v8h-2z"/>
<path fill="#0000ff" d="M263 342h1v2h-1zM270 293h2v2h-2zM278 284h2v4h-2zM280 297h1v2h-1zM281 295h2v4h-2zM287 245h1v2h-1zM287 285h1v4h-1zM293 279h1v13h-1zM296 277h1v4h-1zM297 237h2v2h-2zM303 257h2v9h-2zM305 227h2v4h-2zM308 260h2v7h-2zM310 194h1v9h-1zM310 205h1v5h-1z"/>
<path fill="#0080ff" d="M263 346h1v2h-1zM276 369h1v2h-1zM277 301h1v2h-1zM278 261h2v4h-2zM278 288h2v3h-2zM281 203h2v3h-2zM281 306h2v2h-2zM283 267h1v10h-1zM284 256h1v10h-1zM284 277h1v3h-1zM284 280h1v6h-1zM287 201h1v6h-1zM287 234h1v3h-1zM287 275h1v2h-1zM290 222h1v3h-1zM290 247h1v6h-1zM290 266h1v6h-1zM291 305h2v6h-2zM293 228h1v2h-1zM294 365h2v2h-2zM297 308h2v3h-2zM299 161h1v4h-1zM299 218h1v4h-1zM299 232h1v4h-1zM299 260h1v3h-1zM299 263h1v2h-1zM299 265h1v4h-1zM302 211h1v2h-1zM305 203h2v2h-2zM305 212h2v4h-2zM308 240h2v4h-2zM308 267h2v4h-2zM310 269h1v3h-1zM311 236h2v7h-2zM342 362h2v3h-2zM349 364h2v2h-2z"/>
<path fill="#0000cf" d="M264 289h1v3h-1zM280 291h1v6h-1zM281 308h2v2h-2zM283 287h1v2h-1zM288 273h2v2h-2zM297 227h2v3h-2zM297 239h2v3h-2zM302 220h1v2h-1zM303 266h2v6h-2zM308 244h2v3h-2z"/>
<path fill="#0000df" d="M265 287h1v2h-1zM281 263h2v2h-2zM281 293h2v2h-2zM281 301h2v2h-2zM297 230h2v7h-2zM302 218h1v2h-1zM302 234h1v2h-1zM303 368h2v2h-2zM305 218h2v6h-2zM305 267h2v2h-2zM344 359h1v10h-1zM349 356h2v3h-2zM351 367h2v6h-2zM383 344h2v9h-2z"/>
<path fill="#0000ef" d="M265 295h1v7h-1zM268 289h1v2h-1zM270 299h2v2h-2zM272 280h1v2h-1zM272 287h1v2h-1zM277 303h1v3h-1zM281 277h2v3h-2zM281 284h2v2h-2zM281 290h2v3h-2zM283 289h1v10h-1zM284 274h1v3h-1zM297 252h2v2h-2zM297 261h2v8h-2zM300 223h2v2h-2zM308 237h2v3h-2zM329 371h2v3h-2z"/>
<path fill="#0000bf" d="M269 293h1v7h-1zM278 299h2v3h-2zM297 279h2v4h-2z"/>
<path fill="#0010ff" d="M273 293h1v4h-1zM274 283h2v5h-2zM276 286h1v3h-1zM278 293h2v4h-2zM281 206h2v6h-2zM285 308h2v6h-2zM296 234h1v5h-1zM296 284h1v3h-1zM300 221h2v2h-2zM300 225h2v5h-2zM300 265h2v3h-2zM300 289h2v2h-2zM302 255h1v4h-1zM302 283h1v2h-1zM303 226h2v4h-2zM303 230h2v2h-2zM305 242h2v3h-2zM308 208h2v7h-2zM345 354h2v5h-2zM383 353h2v15h-2zM388 349h2v6h-2z"/>
<path fill="#0000af" d="M280 279h1v6h-1zM294 236h2v13h-2zM303 210h2v4h-2z"/>
<path fill="#00008f" d="M284 296h1v4h-1zM303 222h2v4h-2zM303 232h2v4h-2z"/>
<path fill="#00009f" d="M297 220h2v3h-2zM303 214h2v2h-2zM303 251h2v2h-2z"/>
<path fill="#800000" d="M318 363h2v6h-2zM336 358h2v3h-2z"/>
<rect x="156" y="68" width="1" height="308" fill="#000"/>
<rect x="156" y="375" width="792" height="1" fill="#000"/>
<g style="will-change:transform">
<text transform="translate(156.50 412) scale(0.95 1)" text-anchor="middle" font-family="Liberation Sans, sans-serif" stroke="#000" stroke-width="0.8" font-size="24">1</text>
<text transform="translate(198.13 412) scale(0.95 1)" text-anchor="middle" font-family="Liberation Sans, sans-serif" stroke="#000" stroke-width="0.8" font-size="24">2</text>
<text transform="translate(281.39 412) scale(0.95 1)" text-anchor="middle" font-family="Liberation Sans, sans-serif" stroke="#000" stroke-width="0.8" font-size="24">4</text>
<text transform="translate(364.66 412) scale(0.95 1)" text-anchor="middle" font-family="Liberation Sans, sans-serif" stroke="#000" stroke-width="0.8" font-size="24">6</text>
<text transform="translate(447.92 412) scale(0.95 1)" text-anchor="middle" font-family="Liberation Sans, sans-serif" stroke="#000" stroke-width="0.8" font-size="24">8</text>
<text transform="translate(531.18 412) scale(0.95 1)" text-anchor="middle" font-family="Liberation Sans, sans-serif" stroke="#000" stroke-width="0.8" font-size="24">10</text>
<text transform="translate(614.45 412) scale(0.95 1)" text-anchor="middle" font-family="Liberation Sans, sans-serif" stroke="#000" stroke-width="0.8" font-size="24">12</text>
<text transform="translate(697.71 412) scale(0.95 1)" text-anchor="middle" font-family="Liberation Sans, sans-serif" stroke="#000" stroke-width="0.8" font-size="24">14</text>
<text transform="translate(780.97 412) scale(0.95 1)" text-anchor="middle" font-family="Liberation Sans, sans-serif" stroke="#000" stroke-width="0.8" font-size="24">16</text>
<text transform="translate(864.24 412) scale(0.95 1)" text-anchor="middle" font-family="Liberation Sans, sans-serif" stroke="#000" stroke-width="0.8" font-size="24">18</text>
<text transform="translate(947.50 412) scale(0.95 1)" text-anchor="middle" font-family="Liberation Sans, sans-serif" stroke="#000" stroke-width="0.8" font-size="24">20</text>
<text transform="translate(149.50 81) scale(0.95 1)" text-anchor="end" font-family="Liberation Sans, sans-serif" stroke="#000" stroke-width="0.8" font-size="24">800</text>
<text transform="translate(149.50 166) scale(0.95 1)" text-anchor="end" font-family="Liberation Sans, sans-serif" stroke="#000" stroke-width="0.8" font-size="24">600</text>
<text transform="translate(149.50 251) scale(0.95 1)" text-anchor="end" font-family="Liberation Sans, sans-serif" stroke="#000" stroke-width="0.8" font-size="24">400</text>
<text transform="translate(149.50 336) scale(0.95 1)" text-anchor="end" font-family="Liberation Sans, sans-serif" stroke="#000" stroke-width="0.8" font-size="24">200</text>
</g>
<rect x="980" y="68.00" width="42" height="5.11" fill="#800000"/>
<rect x="980" y="72.81" width="42" height="5.11" fill="#8f0000"/>
<rect x="980" y="77.62" width="42" height="5.11" fill="#9f0000"/>
<rect x="980" y="82.44" width="42" height="5.11" fill="#af0000"/>
<rect x="980" y="87.25" width="42" height="5.11" fill="#bf0000"/>
<rect x="980" y="92.06" width="42" height="5.11" fill="#cf0000"/>
<rect x="980" y="96.88" width="42" height="5.11" fill="#df0000"/>
<rect x="980" y="101.69" width="42" height="5.11" fill="#ef0000"/>
<rect x="980" y="106.50" width="42" height="5.11" fill="#ff0000"/>
<rect x="980" y="111.31" width="42" height="5.11" fill="#ff1000"/>
<rect x="980" y="116.12" width="42" height="5.11" fill="#ff2000"/>
<rect x="980" y="120.94" width="42" height="5.11" fill="#ff3000"/>
<rect x="980" y="125.75" width="42" height="5.11" fill="#ff4000"/>
<rect x="980" y="130.56" width="42" height="5.11" fill="#ff5000"/>
<rect x="980" y="135.38" width="42" height="5.11" fill="#ff6000"/>
<rect x="980" y="140.19" width="42" height="5.11" fill="#ff7000"/>
<rect x="980" y="145.00" width="42" height="5.11" fill="#ff8000"/>
<rect x="980" y="149.81" width="42" height="5.11" fill="#ff8f00"/>
<rect x="980" y="154.62" width="42" height="5.11" fill="#ff9f00"/>
<rect x="980" y="159.44" width="42" height="5.11" fill="#ffaf00"/>
<rect x="980" y="164.25" width="42" height="5.11" fill="#ffbf00"/>
<rect x="980" y="169.06" width="42" height="5.11" fill="#ffcf00"/>
<rect x="980" y="173.88" width="42" height="5.11" fill="#ffdf00"/>
<rect x="980" y="178.69" width="42" height="5.11" fill="#ffef00"/>
<rect x="980" y="183.50" width="42" height="5.11" fill="#ffff00"/>
<rect x="980" y="188.31" width="42" height="5.11" fill="#efff10"/>
<rect x="980" y="193.12" width="42" height="5.11" fill="#dfff20"/>
<rect x="980" y="197.94" width="42" height="5.11" fill="#cfff30"/>
<rect x="980" y="202.75" width="42" height="5.11" fill="#bfff40"/>
<rect x="980" y="207.56" width="42" height="5.11" fill="#afff50"/>
<rect x="980" y="212.38" width="42" height="5.11" fill="#9fff60"/>
<rect x="980" y="217.19" width="42" height="5.11" fill="#8fff70"/>
<rect x="980" y="222.00" width="42" height="5.11" fill="#80ff80"/>
<rect x="980" y="226.81" width="42" height="5.11" fill="#70ff8f"/>
<rect x="980" y="231.62" width="42" height="5.11" fill="#60ff9f"/>
<rect x="980" y="236.44" width="42" height="5.11" fill="#50ffaf"/>
<rect x="980" y="241.25" width="42" height="5.11" fill="#40ffbf"/>
<rect x="980" y="246.06" width="42" height="5.11" fill="#30ffcf"/>
<rect x="980" y="250.88" width="42" height="5.11" fill="#20ffdf"/>
<rect x="980" y="255.69" width="42" height="5.11" fill="#10ffef"/>
<rect x="980" y="260.50" width="42" height="5.11" fill="#00ffff"/>
<rect x="980" y="265.31" width="42" height="5.11" fill="#00efff"/>
<rect x="980" y="270.12" width="42" height="5.11" fill="#00dfff"/>
<rect x="980" y="274.94" width="42" height="5.11" fill="#00cfff"/>
<rect x="980" y="279.75" width="42" height="5.11" fill="#00bfff"/>
<rect x="980" y="284.56" width="42" height="5.11" fill="#00afff"/>
<rect x="980" y="289.38" width="42" height="5.11" fill="#009fff"/>
<rect x="980" y="294.19" width="42" height="5.11" fill="#008fff"/>
<rect x="980" y="299.00" width="42" height="5.11" fill="#0080ff"/>
<rect x="980" y="303.81" width="42" height="5.11" fill="#0070ff"/>
<rect x="980" y="308.62" width="42" height="5.11" fill="#0060ff"/>
<rect x="980" y="313.44" width="42" height="5.11" fill="#0050ff"/>
<rect x="980" y="318.25" width="42" height="5.11" fill="#0040ff"/>
<rect x="980" y="323.06" width="42" height="5.11" fill="#0030ff"/>
<rect x="980" y="327.88" width="42" height="5.11" fill="#0020ff"/>
<rect x="980" y="332.69" width="42" height="5.11" fill="#0010ff"/>
<rect x="980" y="337.50" width="42" height="5.11" fill="#0000ff"/>
<rect x="980" y="342.31" width="42" height="5.11" fill="#0000ef"/>
<rect x="980" y="347.12" width="42" height="5.11" fill="#0000df"/>
<rect x="980" y="351.94" width="42" height="5.11" fill="#0000cf"/>
<rect x="980" y="356.75" width="42" height="5.11" fill="#0000bf"/>
<rect x="980" y="361.56" width="42" height="5.11" fill="#0000af"/>
<rect x="980" y="366.38" width="42" height="5.11" fill="#00009f"/>
<rect x="980" y="371.19" width="42" height="5.11" fill="#00008f"/>
<rect x="979" y="68" width="1" height="309" fill="#000"/>
<rect x="979" y="376" width="43" height="1" fill="#000"/>
<rect x="980" y="68" width="2" height="1" fill="#000"/>
<rect x="1017" y="68" width="5" height="1" fill="#000"/>
<rect x="980" y="222" width="2" height="1" fill="#000"/>
<rect x="1017" y="222" width="5" height="1" fill="#000"/>
<g style="will-change:transform">
<text transform="translate(1026.50 81) scale(0.95 1)" text-anchor="start" font-family="Liberation Sans, sans-serif" stroke="#000" stroke-width="0.8" font-size="24">50</text>
<text transform="translate(1026.50 235) scale(0.95 1)" text-anchor="start" font-family="Liberation Sans, sans-serif" stroke="#000" stroke-width="0.8" font-size="24">0</text>
<text transform="translate(1026.50 389) scale(0.95 1)" text-anchor="start" font-family="Liberation Sans, sans-serif" stroke="#000" stroke-width="0.8" font-size="24">-50</text>
</g>
<line x1="197.5" y1="498" x2="197.5" y2="801" stroke="#000" stroke-width="1" stroke-dasharray="2 6"/>
<line x1="280.5" y1="498" x2="280.5" y2="801" stroke="#000" stroke-width="1" stroke-dasharray="2 6"/>
<line x1="364.5" y1="498" x2="364.5" y2="801" stroke="#000" stroke-width="1" stroke-dasharray="2 6"/>
<line x1="447.5" y1="498" x2="447.5" y2="801" stroke="#000" stroke-width="1" stroke-dasharray="2 6"/>
<line x1="530.5" y1="498" x2="530.5" y2="801" stroke="#000" stroke-width="1" stroke-dasharray="2 6"/>
<line x1="613.5" y1="498" x2="613.5" y2="801" stroke="#000" stroke-width="1" stroke-dasharray="2 6"/>
<line x1="697.5" y1="498" x2="697.5" y2="801" stroke="#000" stroke-width="1" stroke-dasharray="2 6"/>
<line x1="780.5" y1="498" x2="780.5" y2="801" stroke="#000" stroke-width="1" stroke-dasharray="2 6"/>
<line x1="863.5" y1="498" x2="863.5" y2="801" stroke="#000" stroke-width="1" stroke-dasharray="2 6"/>
<line x1="946.5" y1="498" x2="946.5" y2="801" stroke="#000" stroke-width="1" stroke-dasharray="2 6"/>
<line x1="162" y1="494.5" x2="948" y2="494.5" stroke="#000" stroke-width="1" stroke-dasharray="2 6"/>
<line x1="162" y1="579.5" x2="948" y2="579.5" stroke="#000" stroke-width="1" stroke-dasharray="2 6"/>
<line x1="162" y1="664.5" x2="948" y2="664.5" stroke="#000" stroke-width="1" stroke-dasharray="2 6"/>
<line x1="162" y1="749.5" x2="948" y2="749.5" stroke="#000" stroke-width="1" stroke-dasharray="2 6"/>
<rect x="156" y="793" width="1" height="8" fill="#000"/>
<rect x="156" y="494" width="1" height="8" fill="#000"/>
<rect x="197" y="793" width="1" height="8" fill="#000"/>
<rect x="197" y="494" width="1" height="8" fill="#000"/>
<rect x="280" y="793" width="1" height="8" fill="#000"/>
<rect x="280" y="494" width="1" height="8" fill="#000"/>
<rect x="364" y="793" width="1" height="8" fill="#000"/>
<rect x="364" y="494" width="1" height="8" fill="#000"/>
<rect x="447" y="793" width="1" height="8" fill="#000"/>
<rect x="447" y="494" width="1" height="8" fill="#000"/>
<rect x="530" y="793" width="1" height="8" fill="#000"/>
<rect x="530" y="494" width="1" height="8" fill="#000"/>
<rect x="613" y="793" width="1" height="8" fill="#000"/>
<rect x="613" y="494" width="1" height="8" fill="#000"/>
<rect x="697" y="793" width="1" height="8" fill="#000"/>
<rect x="697" y="494" width="1" height="8" fill="#000"/>
<rect x="780" y="793" width="1" height="8" fill="#000"/>
<rect x="780" y="494" width="1" height="8" fill="#000"/>
<rect x="863" y="793" width="1" height="8" fill="#000"/>
<rect x="863" y="494" width="1" height="8" fill="#000"/>
<rect x="946" y="793" width="1" height="8" fill="#000"/>
<rect x="946" y="494" width="1" height="8" fill="#000"/>
<rect x="156" y="494" width="8" height="1" fill="#000"/>
<rect x="940" y="494" width="8" height="1" fill="#000"/>
<rect x="156" y="579" width="8" height="1" fill="#000"/>
<rect x="940" y="579" width="8" height="1" fill="#000"/>
<rect x="156" y="664" width="8" height="1" fill="#000"/>
<rect x="940" y="664" width="8" height="1" fill="#000"/>
<rect x="156" y="749" width="8" height="1" fill="#000"/>
<rect x="940" y="749" width="8" height="1" fill="#000"/>
<path fill="#80ff80" d="M182 718h1v6h-1zM185 731h1v3h-1zM187 733h1v3h-1zM189 751h1v2h-1zM190 739h1v3h-1zM205 618h1v3h-1zM205 714h1v2h-1zM215 708h1v2h-1zM217 714h1v4h-1zM217 723h1v7h-1zM220 664h1v3h-1zM221 762h1v2h-1zM224 717h1v9h-1zM224 791h1v2h-1zM225 695h1v2h-1zM225 725h1v4h-1zM225 735h1v2h-1zM226 724h1v2h-1zM228 601h1v2h-1zM228 681h1v4h-1zM228 790h1v5h-1zM231 701h1v3h-1zM232 704h1v4h-1zM233 788h1v4h-1zM234 691h1v2h-1zM234 693h1v11h-1zM235 704h1v4h-1zM235 745h1v13h-1zM236 733h1v2h-1zM237 788h1v3h-1zM238 654h1v8h-1zM238 669h1v4h-1zM238 679h1v2h-1zM241 694h1v3h-1zM241 796h1v2h-1zM244 719h1v6h-1zM245 789h1v4h-1zM249 780h1v14h-1zM250 658h1v2h-1zM253 659h1v3h-1zM253 668h1v2h-1zM254 793h1v2h-1zM255 721h2v6h-2zM257 542h1v4h-1zM257 715h1v2h-1zM257 791h1v6h-1zM259 536h1v10h-1zM260 667h1v2h-1zM260 675h1v3h-1zM261 606h2v6h-2zM261 676h2v5h-2zM263 563h1v15h-1zM263 619h1v2h-1zM263 653h1v22h-1zM263 700h1v8h-1zM264 661h1v4h-1zM264 674h1v4h-1zM265 635h1v6h-1zM266 621h2v14h-2zM266 694h2v4h-2zM268 620h1v7h-1zM268 645h1v7h-1zM269 627h1v7h-1zM269 657h1v2h-1zM269 723h1v3h-1zM270 662h2v6h-2zM270 684h2v2h-2zM272 527h1v8h-1zM272 692h1v8h-1zM276 646h1v3h-1zM276 692h1v6h-1zM277 612h1v11h-1zM277 657h1v7h-1zM277 693h1v6h-1zM277 701h1v2h-1zM278 594h2v3h-2zM278 600h2v2h-2zM278 614h2v10h-2zM280 685h1v8h-1zM284 612h1v6h-1zM284 666h1v27h-1zM284 758h1v4h-1zM287 641h1v16h-1zM287 685h1v7h-1zM288 636h2v3h-2zM290 584h1v3h-1zM290 683h1v10h-1zM291 590h2v4h-2zM291 605h2v6h-2zM293 654h1v2h-1zM294 628h2v5h-2zM294 633h2v3h-2zM294 636h2v3h-2zM294 646h2v3h-2zM294 673h2v2h-2zM294 684h2v4h-2zM294 795h2v2h-2zM296 600h1v5h-1zM296 689h1v7h-1zM297 655h2v2h-2zM299 626h1v15h-1zM299 786h1v4h-1zM300 637h2v2h-2zM302 680h1v4h-1zM302 758h1v6h-1zM302 792h1v3h-1zM303 606h2v7h-2zM303 629h2v8h-2zM303 679h2v13h-2zM303 789h2v4h-2zM305 623h2v4h-2zM305 648h2v8h-2zM305 662h2v7h-2zM307 661h1v6h-1zM307 667h1v20h-1zM307 761h1v5h-1zM308 654h2v2h-2zM308 690h2v3h-2zM310 645h1v6h-1zM310 758h1v5h-1zM310 775h1v6h-1zM311 694h2v2h-2zM315 657h2v4h-2zM357 798h2v2h-2zM370 789h2v2h-2zM402 791h2v3h-2zM417 759h2v2h-2z"/>
<path fill="#bfff40" d="M187 713h1v4h-1zM193 723h1v2h-1zM198 783h1v8h-1zM200 737h1v4h-1zM200 787h1v2h-1zM201 786h1v3h-1zM203 734h1v9h-1zM203 793h1v7h-1zM204 720h1v4h-1zM205 784h1v3h-1zM206 737h1v9h-1zM207 711h1v5h-1zM207 789h1v2h-1zM211 721h1v4h-1zM213 788h1v2h-1zM216 727h1v5h-1zM218 783h1v3h-1zM219 708h1v5h-1zM224 738h1v7h-1zM227 719h1v2h-1zM227 787h1v5h-1zM228 795h1v2h-1zM231 704h1v32h-1zM233 686h1v14h-1zM233 708h1v3h-1zM237 686h1v2h-1zM238 702h1v8h-1zM238 732h1v4h-1zM238 788h1v2h-1zM238 790h1v3h-1zM239 669h1v13h-1zM241 707h1v2h-1zM242 657h1v17h-1zM242 697h1v8h-1zM242 721h1v3h-1zM244 734h1v3h-1zM245 705h1v2h-1zM246 670h1v4h-1zM247 717h2v7h-2zM247 785h2v11h-2zM250 706h1v5h-1zM250 786h1v2h-1zM250 788h1v2h-1zM252 524h1v10h-1zM252 534h1v12h-1zM253 700h1v4h-1zM255 756h2v4h-2zM255 792h2v2h-2zM258 676h1v19h-1zM259 665h1v10h-1zM261 626h2v2h-2zM261 654h2v6h-2zM263 625h1v2h-1zM263 780h1v8h-1zM264 705h1v2h-1zM265 791h1v3h-1zM266 542h2v3h-2zM266 742h2v7h-2zM266 767h2v7h-2zM269 682h1v3h-1zM269 785h1v2h-1zM270 668h2v7h-2zM272 601h1v4h-1zM273 632h1v12h-1zM273 681h1v8h-1zM273 797h1v3h-1zM274 690h2v15h-2zM277 686h1v7h-1zM278 584h2v2h-2zM278 652h2v5h-2zM278 661h2v6h-2zM280 760h1v2h-1zM280 795h1v2h-1zM281 615h2v7h-2zM281 647h2v4h-2zM283 663h1v5h-1zM283 672h1v9h-1zM285 698h2v4h-2zM285 761h2v2h-2zM287 585h1v4h-1zM291 641h2v4h-2zM291 645h2v2h-2zM291 661h2v14h-2zM291 680h2v2h-2zM293 779h1v4h-1zM293 796h1v4h-1zM294 608h2v2h-2zM294 610h2v8h-2zM296 657h1v10h-1zM300 619h2v11h-2zM300 763h2v6h-2zM300 769h2v14h-2zM302 628h1v8h-1zM302 647h1v5h-1zM302 668h1v4h-1zM303 769h2v10h-2zM305 669h2v7h-2zM307 755h1v3h-1zM308 614h2v6h-2zM313 666h2v3h-2zM315 792h2v2h-2zM325 779h2v3h-2zM340 768h2v2h-2zM340 770h2v13h-2zM349 763h2v2h-2zM372 760h2v2h-2zM374 769h2v3h-2zM376 772h3v7h-3zM395 783h2v2h-2zM395 790h2v3h-2zM407 757h2v2h-2zM182 535h1v2h-1zM182 548h1v1h-1z"/>
<path fill="#8fff70" d="M188 715h1v8h-1zM194 737h1v2h-1zM195 720h1v5h-1zM198 715h1v2h-1zM201 734h1v2h-1zM204 731h1v4h-1zM204 735h1v8h-1zM205 787h1v6h-1zM206 723h1v14h-1zM208 741h1v3h-1zM208 797h1v3h-1zM209 642h1v3h-1zM210 717h1v4h-1zM210 724h1v3h-1zM213 721h1v3h-1zM214 793h1v2h-1zM216 711h1v3h-1zM218 724h1v2h-1zM219 608h1v4h-1zM219 783h1v6h-1zM220 790h1v3h-1zM221 723h1v19h-1zM221 795h1v4h-1zM222 717h1v7h-1zM223 742h1v4h-1zM224 789h1v2h-1zM225 729h1v6h-1zM226 759h1v7h-1zM228 738h1v6h-1zM229 710h1v3h-1zM229 743h1v6h-1zM230 674h1v22h-1zM233 752h1v4h-1zM235 729h1v2h-1zM237 751h1v4h-1zM237 795h1v3h-1zM239 785h1v2h-1zM240 684h1v5h-1zM241 736h1v3h-1zM243 779h1v13h-1zM244 713h1v6h-1zM245 683h1v3h-1zM245 699h1v6h-1zM246 714h1v10h-1zM247 547h2v6h-2zM249 675h1v9h-1zM250 711h1v6h-1zM250 732h1v5h-1zM250 790h1v5h-1zM251 725h1v11h-1zM252 510h1v5h-1zM252 624h1v4h-1zM252 681h1v3h-1zM255 644h2v2h-2zM255 771h2v4h-2zM257 656h1v5h-1zM257 711h1v2h-1zM257 713h1v2h-1zM258 721h1v3h-1zM259 642h1v5h-1zM259 663h1v2h-1zM259 689h1v3h-1zM260 555h1v7h-1zM260 642h1v2h-1zM260 649h1v5h-1zM261 635h2v13h-2zM264 725h1v2h-1zM265 606h1v29h-1zM265 685h1v25h-1zM266 612h2v9h-2zM266 646h2v13h-2zM266 720h2v11h-2zM266 735h2v3h-2zM266 759h2v5h-2zM268 553h1v3h-1zM268 618h1v2h-1zM268 637h1v3h-1zM268 654h1v5h-1zM269 606h1v9h-1zM269 666h1v8h-1zM269 703h1v3h-1zM270 510h2v3h-2zM270 627h2v5h-2zM270 632h2v13h-2zM270 658h2v4h-2zM270 686h2v8h-2zM272 646h1v2h-1zM273 664h1v2h-1zM273 689h1v8h-1zM276 626h1v2h-1zM276 628h1v3h-1zM277 526h1v19h-1zM277 664h1v2h-1zM277 674h1v12h-1zM278 628h2v3h-2zM278 659h2v2h-2zM280 645h1v3h-1zM281 595h2v3h-2zM281 694h2v11h-2zM283 612h1v4h-1zM283 619h1v4h-1zM283 623h1v7h-1zM283 681h1v2h-1zM283 690h1v5h-1zM284 623h1v2h-1zM284 627h1v8h-1zM284 649h1v10h-1zM284 693h1v2h-1zM284 695h1v4h-1zM284 701h1v4h-1zM285 587h2v2h-2zM285 632h2v2h-2zM285 685h2v2h-2zM285 687h2v7h-2zM287 610h1v14h-1zM288 614h2v6h-2zM288 625h2v2h-2zM288 673h2v7h-2zM288 773h2v3h-2zM290 620h1v3h-1zM290 666h1v2h-1zM291 624h2v4h-2zM291 713h2v2h-2zM293 646h1v2h-1zM293 686h1v3h-1zM293 692h1v5h-1zM293 783h1v3h-1zM296 592h1v2h-1zM296 649h1v5h-1zM296 654h1v3h-1zM296 667h1v11h-1zM296 678h1v7h-1zM297 620h2v3h-2zM297 771h2v3h-2zM299 653h1v5h-1zM299 782h1v4h-1zM300 595h2v6h-2zM302 576h1v3h-1zM302 609h1v4h-1zM302 622h1v6h-1zM305 627h2v11h-2zM311 639h2v5h-2zM311 647h2v6h-2zM311 691h2v3h-2zM313 625h2v5h-2zM313 651h2v2h-2zM313 755h2v6h-2zM315 637h2v2h-2zM315 639h2v5h-2zM315 668h2v5h-2zM317 600h1v3h-1zM332 782h2v2h-2zM336 758h2v5h-2zM374 799h2v1h-2zM397 750h2v3h-2zM378 719h3v3h-3zM444 718h3v4h-3zM456 717h3v6h-3zM482 720h3v3h-3zM491 720h3v3h-3zM501 720h3v3h-3zM461 769h3v5h-3zM345 719h2v4h-2zM759 510h6v1h-6z"/>
<path fill="#9fff60" d="M189 739h1v4h-1zM193 730h1v5h-1zM195 725h1v5h-1zM199 792h1v2h-1zM201 731h1v3h-1zM202 791h1v2h-1zM203 731h1v3h-1zM204 728h1v3h-1zM206 781h1v8h-1zM207 720h1v12h-1zM207 791h1v2h-1zM208 713h1v3h-1zM208 795h1v2h-1zM209 714h1v23h-1zM209 784h1v6h-1zM210 789h1v3h-1zM217 732h1v6h-1zM217 784h1v2h-1zM219 733h1v13h-1zM221 712h1v9h-1zM226 792h1v8h-1zM227 734h1v7h-1zM228 728h1v5h-1zM229 732h1v8h-1zM229 788h1v4h-1zM230 755h1v2h-1zM230 760h1v6h-1zM231 689h1v8h-1zM231 738h1v3h-1zM231 798h1v2h-1zM234 588h1v10h-1zM234 674h1v3h-1zM234 711h1v5h-1zM234 731h1v7h-1zM235 602h1v3h-1zM236 725h1v2h-1zM236 727h1v2h-1zM237 675h1v3h-1zM237 690h1v5h-1zM238 662h1v3h-1zM240 689h1v4h-1zM241 787h1v2h-1zM243 716h1v17h-1zM247 534h2v8h-2zM247 724h2v2h-2zM249 673h1v2h-1zM250 729h1v3h-1zM251 614h1v5h-1zM251 710h1v4h-1zM253 644h1v2h-1zM254 672h1v2h-1zM255 518h2v6h-2zM255 651h2v2h-2zM255 715h2v6h-2zM255 727h2v5h-2zM255 785h2v2h-2zM259 699h1v7h-1zM259 723h1v3h-1zM259 790h1v3h-1zM260 532h1v2h-1zM260 585h1v6h-1zM260 591h1v12h-1zM260 660h1v7h-1zM261 560h2v3h-2zM261 648h2v4h-2zM261 719h2v10h-2zM263 722h1v7h-1zM263 790h1v2h-1zM264 580h1v4h-1zM264 615h1v3h-1zM264 622h1v3h-1zM264 667h1v7h-1zM264 723h1v2h-1zM265 656h1v16h-1zM265 794h1v3h-1zM266 523h2v7h-2zM266 643h2v3h-2zM266 673h2v15h-2zM266 738h2v4h-2zM268 659h1v5h-1zM268 672h1v10h-1zM268 786h1v5h-1zM269 623h1v4h-1zM269 636h1v2h-1zM269 643h1v4h-1zM269 653h1v4h-1zM269 726h1v4h-1zM269 739h1v2h-1zM269 767h1v2h-1zM269 782h1v3h-1zM270 770h2v2h-2zM270 788h2v3h-2zM272 631h1v13h-1zM272 644h1v2h-1zM272 674h1v14h-1zM273 648h1v3h-1zM273 659h1v5h-1zM273 795h1v2h-1zM276 612h1v3h-1zM276 766h1v3h-1zM277 623h1v2h-1zM277 628h1v5h-1zM278 657h2v2h-2zM278 669h2v3h-2zM278 682h2v2h-2zM278 684h2v23h-2zM280 648h1v4h-1zM280 652h1v10h-1zM280 682h1v3h-1zM281 634h2v2h-2zM281 642h2v2h-2zM281 651h2v2h-2zM281 673h2v7h-2zM281 680h2v3h-2zM281 683h2v2h-2zM283 630h1v3h-1zM285 625h2v7h-2zM285 655h2v4h-2zM287 668h1v17h-1zM287 692h1v5h-1zM288 655h2v3h-2zM290 655h1v8h-1zM290 779h1v5h-1zM291 675h2v5h-2zM293 623h1v2h-1zM293 652h1v2h-1zM293 656h1v2h-1zM296 643h1v4h-1zM297 640h2v4h-2zM297 644h2v3h-2zM299 686h1v12h-1zM300 639h2v9h-2zM300 663h2v4h-2zM303 625h2v4h-2zM303 760h2v3h-2zM305 614h2v4h-2zM305 618h2v5h-2zM305 638h2v10h-2zM305 759h2v5h-2zM307 600h1v3h-1zM307 690h1v2h-1zM307 748h1v3h-1zM308 629h2v4h-2zM308 656h2v2h-2zM310 686h1v3h-1zM311 587h2v2h-2zM311 644h2v3h-2zM313 660h2v2h-2zM320 702h2v4h-2zM325 797h2v3h-2zM342 797h2v3h-2zM345 753h2v4h-2zM402 799h2v1h-2z"/>
<path fill="#60ff9f" d="M190 784h1v5h-1zM197 726h1v8h-1zM199 728h1v6h-1zM201 719h1v7h-1zM203 712h1v4h-1zM203 723h1v3h-1zM212 793h1v2h-1zM214 729h1v7h-1zM215 728h1v10h-1zM217 792h1v2h-1zM222 712h1v5h-1zM223 707h1v2h-1zM223 746h1v3h-1zM224 696h1v7h-1zM224 759h1v2h-1zM225 790h1v2h-1zM226 736h1v2h-1zM231 697h1v4h-1zM232 687h1v2h-1zM234 724h1v2h-1zM235 590h1v7h-1zM237 680h1v6h-1zM237 713h1v14h-1zM238 681h1v7h-1zM238 786h1v2h-1zM239 662h1v7h-1zM239 725h1v3h-1zM239 754h1v5h-1zM240 705h1v7h-1zM240 721h1v4h-1zM240 784h1v6h-1zM241 729h1v4h-1zM242 784h1v7h-1zM242 795h1v5h-1zM245 664h1v2h-1zM246 662h1v3h-1zM247 690h2v2h-2zM250 717h1v2h-1zM251 535h1v6h-1zM251 656h1v4h-1zM252 731h1v7h-1zM254 714h1v6h-1zM257 606h1v6h-1zM257 612h1v10h-1zM258 578h1v3h-1zM258 646h1v6h-1zM258 705h1v2h-1zM259 617h1v4h-1zM259 677h1v2h-1zM260 629h1v8h-1zM260 678h1v5h-1zM260 683h1v2h-1zM263 713h1v9h-1zM264 639h1v2h-1zM264 665h1v2h-1zM265 641h1v4h-1zM266 690h2v4h-2zM268 642h1v3h-1zM268 652h1v2h-1zM268 664h1v8h-1zM268 739h1v9h-1zM269 659h1v5h-1zM270 569h2v3h-2zM270 621h2v6h-2zM272 563h1v2h-1zM272 570h1v3h-1zM273 787h1v2h-1zM273 789h1v6h-1zM274 636h2v6h-2zM274 753h2v5h-2zM276 606h1v4h-1zM276 615h1v11h-1zM276 655h1v9h-1zM278 597h2v3h-2zM283 643h1v9h-1zM283 776h1v2h-1zM284 635h1v6h-1zM285 602h2v2h-2zM287 657h1v11h-1zM288 641h2v6h-2zM288 647h2v6h-2zM288 698h2v7h-2zM288 776h2v3h-2zM290 623h1v2h-1zM291 584h2v3h-2zM293 625h1v13h-1zM293 658h1v9h-1zM294 618h2v3h-2zM294 621h2v7h-2zM294 651h2v4h-2zM294 688h2v15h-2zM296 641h1v2h-1zM297 623h2v7h-2zM297 686h2v4h-2zM300 577h2v8h-2zM305 798h2v2h-2zM307 580h1v2h-1zM307 617h1v3h-1zM307 647h1v3h-1zM308 662h2v2h-2zM308 668h2v4h-2zM310 695h1v2h-1zM311 607h2v6h-2zM311 632h2v7h-2zM311 795h2v4h-2zM313 662h2v4h-2zM315 675h2v3h-2zM317 581h1v4h-1zM322 775h1v2h-1zM349 751h2v2h-2zM351 752h2v4h-2zM351 788h2v12h-2zM368 764h2v3h-2zM372 738h2v9h-2zM385 756h3v4h-3zM397 782h2v2h-2zM417 793h2v2h-2z"/>
<path fill="#efff10" d="M191 723h1v3h-1zM199 740h1v9h-1zM200 793h1v4h-1zM202 741h1v2h-1zM220 730h1v2h-1zM223 715h1v10h-1zM226 709h1v3h-1zM231 789h1v3h-1zM232 783h1v8h-1zM236 735h1v3h-1zM240 700h1v3h-1zM249 706h1v8h-1zM249 794h1v3h-1zM252 790h1v5h-1zM255 701h2v14h-2zM257 707h1v4h-1zM258 695h1v8h-1zM258 786h1v6h-1zM258 792h1v2h-1zM259 614h1v3h-1zM264 641h1v20h-1zM276 780h1v2h-1zM277 797h1v3h-1zM283 668h1v4h-1zM285 793h2v4h-2zM288 684h2v14h-2zM291 647h2v5h-2zM291 781h2v9h-2zM291 790h2v4h-2zM291 794h2v6h-2zM296 687h1v2h-1zM299 641h1v3h-1zM300 791h2v2h-2zM303 793h2v6h-2zM305 792h2v4h-2zM308 767h2v2h-2zM308 791h2v2h-2zM311 763h2v6h-2zM315 786h2v6h-2zM318 668h2v5h-2zM318 766h2v3h-2zM320 769h2v3h-2zM329 785h2v2h-2zM332 759h2v7h-2zM338 781h2v5h-2zM340 783h2v5h-2zM344 788h1v8h-1zM345 779h2v11h-2zM347 782h2v2h-2zM349 756h2v7h-2z"/>
<path fill="#cfff30" d="M191 793h1v4h-1zM196 743h1v2h-1zM200 789h1v2h-1zM204 791h1v4h-1zM208 728h1v6h-1zM208 789h1v3h-1zM210 792h1v3h-1zM212 722h1v2h-1zM219 704h1v4h-1zM222 788h1v8h-1zM223 784h1v9h-1zM223 795h1v2h-1zM224 709h1v2h-1zM224 726h1v2h-1zM225 713h1v7h-1zM226 744h1v7h-1zM229 718h1v4h-1zM232 685h1v2h-1zM233 711h1v4h-1zM233 792h1v2h-1zM235 697h1v7h-1zM236 673h1v2h-1zM237 791h1v4h-1zM239 717h1v8h-1zM240 693h1v5h-1zM240 796h1v4h-1zM243 694h1v4h-1zM243 713h1v3h-1zM245 560h1v2h-1zM247 714h2v3h-2zM249 700h1v6h-1zM251 706h1v4h-1zM251 786h1v7h-1zM253 693h1v2h-1zM253 789h1v4h-1zM255 671h2v3h-2zM255 787h2v5h-2zM260 770h1v7h-1zM261 777h2v2h-2zM264 547h1v3h-1zM264 573h1v7h-1zM264 731h1v12h-1zM264 788h1v4h-1zM269 787h1v3h-1zM270 677h2v3h-2zM272 655h1v8h-1zM273 646h1v2h-1zM276 631h1v2h-1zM276 675h1v3h-1zM278 672h2v10h-2zM280 612h1v5h-1zM280 635h1v10h-1zM280 665h1v6h-1zM280 671h1v2h-1zM283 652h1v2h-1zM283 685h1v2h-1zM290 611h1v9h-1zM293 579h1v5h-1zM293 676h1v4h-1zM294 649h2v2h-2zM296 785h1v5h-1zM299 773h1v7h-1zM300 793h2v7h-2zM302 672h1v5h-1zM302 769h1v8h-1zM310 617h1v10h-1zM310 771h1v4h-1zM313 761h2v8h-2zM317 634h1v2h-1zM320 752h2v12h-2zM320 789h2v4h-2zM322 789h1v6h-1zM325 753h2v3h-2zM334 769h2v5h-2zM334 782h2v9h-2zM349 789h2v5h-2zM351 767h2v8h-2zM353 760h2v5h-2zM376 755h3v4h-3zM409 798h2v2h-2z"/>
<path fill="#afff50" d="M192 729h1v2h-1zM199 786h1v4h-1zM201 710h1v5h-1zM201 717h1v2h-1zM202 712h1v2h-1zM204 710h1v10h-1zM204 785h1v3h-1zM208 711h1v2h-1zM208 792h1v3h-1zM209 609h1v5h-1zM209 737h1v7h-1zM209 790h1v10h-1zM212 787h1v2h-1zM213 589h1v5h-1zM213 790h1v4h-1zM214 714h1v3h-1zM215 724h1v4h-1zM216 720h1v3h-1zM220 732h1v11h-1zM223 797h1v2h-1zM224 668h1v2h-1zM224 745h1v3h-1zM224 761h1v2h-1zM225 737h1v2h-1zM226 712h1v5h-1zM226 738h1v6h-1zM228 714h1v2h-1zM229 713h1v2h-1zM229 722h1v10h-1zM230 794h1v2h-1zM231 792h1v6h-1zM232 717h1v4h-1zM233 675h1v11h-1zM234 726h1v3h-1zM235 670h1v6h-1zM236 797h1v2h-1zM237 745h1v6h-1zM238 693h1v6h-1zM238 720h1v12h-1zM240 744h1v8h-1zM240 760h1v2h-1zM241 690h1v4h-1zM241 703h1v4h-1zM242 724h1v2h-1zM243 681h1v8h-1zM245 646h1v2h-1zM249 687h1v13h-1zM250 696h1v4h-1zM252 671h1v5h-1zM252 726h1v5h-1zM253 679h1v4h-1zM253 683h1v2h-1zM253 688h1v5h-1zM253 793h1v5h-1zM254 720h1v3h-1zM254 778h1v2h-1zM255 662h2v4h-2zM257 688h1v3h-1zM258 796h1v2h-1zM260 790h1v2h-1zM263 621h1v4h-1zM264 684h1v15h-1zM264 798h1v2h-1zM268 544h1v2h-1zM268 721h1v2h-1zM269 587h1v16h-1zM269 691h1v10h-1zM269 792h1v2h-1zM270 675h2v2h-2zM272 648h1v7h-1zM273 616h1v9h-1zM273 625h1v7h-1zM274 642h2v19h-2zM274 762h2v2h-2zM274 793h2v3h-2zM276 698h1v8h-1zM277 639h1v16h-1zM277 775h1v7h-1zM281 784h2v2h-2zM283 633h1v5h-1zM283 654h1v9h-1zM283 695h1v2h-1zM283 781h1v2h-1zM284 796h1v4h-1zM285 638h2v17h-2zM285 666h2v3h-2zM285 682h2v3h-2zM285 797h2v2h-2zM288 627h2v9h-2zM288 669h2v4h-2zM288 794h2v3h-2zM293 674h1v2h-1zM293 680h1v6h-1zM294 675h2v4h-2zM296 647h1v2h-1zM297 630h2v2h-2zM297 632h2v4h-2zM297 761h2v2h-2zM299 658h1v21h-1zM300 667h2v13h-2zM303 641h2v8h-2zM303 656h2v4h-2zM303 660h2v4h-2zM303 692h2v5h-2zM307 620h1v3h-1zM307 658h1v3h-1zM308 633h2v2h-2zM308 793h2v6h-2zM310 627h1v4h-1zM310 666h1v5h-1zM310 683h1v3h-1zM311 595h2v2h-2zM313 786h2v3h-2zM315 582h2v5h-2zM315 796h2v3h-2zM320 798h2v2h-2zM325 792h2v2h-2zM338 793h2v7h-2zM349 749h2v2h-2zM376 779h3v10h-3zM381 792h2v2h-2zM404 776h3v2h-3z"/>
<path fill="#70ff8f" d="M193 741h1v3h-1zM195 786h1v2h-1zM197 716h1v4h-1zM202 753h1v2h-1zM203 716h1v7h-1zM205 726h1v9h-1zM205 740h1v2h-1zM207 716h1v2h-1zM211 731h1v10h-1zM211 741h1v7h-1zM212 742h1v7h-1zM216 794h1v6h-1zM217 595h1v5h-1zM217 738h1v2h-1zM222 796h1v4h-1zM223 731h1v11h-1zM224 728h1v10h-1zM225 739h1v2h-1zM227 712h1v7h-1zM227 729h1v5h-1zM228 687h1v24h-1zM228 711h1v3h-1zM228 719h1v9h-1zM231 683h1v3h-1zM231 736h1v2h-1zM232 708h1v9h-1zM233 623h1v16h-1zM233 715h1v5h-1zM234 704h1v7h-1zM234 718h1v6h-1zM235 659h1v4h-1zM236 692h1v11h-1zM236 729h1v4h-1zM236 740h1v17h-1zM237 733h1v4h-1zM239 688h1v22h-1zM239 740h1v9h-1zM241 778h1v9h-1zM243 705h1v5h-1zM246 698h1v14h-1zM247 710h2v4h-2zM249 684h1v3h-1zM250 673h1v14h-1zM250 700h1v6h-1zM251 668h1v11h-1zM251 714h1v11h-1zM251 795h1v5h-1zM252 643h1v3h-1zM252 664h1v7h-1zM252 676h1v5h-1zM253 706h1v2h-1zM254 539h1v3h-1zM254 588h1v6h-1zM254 609h1v3h-1zM254 700h1v14h-1zM255 611h2v2h-2zM255 666h2v5h-2zM257 761h1v2h-1zM258 632h1v14h-1zM258 794h1v2h-1zM259 635h1v2h-1zM259 656h1v7h-1zM260 760h1v10h-1zM261 563h2v10h-2zM261 619h2v2h-2zM261 628h2v5h-2zM261 665h2v11h-2zM261 681h2v8h-2zM261 774h2v3h-2zM263 679h1v2h-1zM264 534h1v7h-1zM264 584h1v10h-1zM264 629h1v4h-1zM266 512h2v3h-2zM266 515h2v2h-2zM266 688h2v2h-2zM266 715h2v5h-2zM268 635h1v2h-1zM270 654h2v4h-2zM272 669h1v5h-1zM272 710h1v2h-1zM273 655h1v4h-1zM273 666h1v15h-1zM274 796h2v3h-2zM276 649h1v6h-1zM277 699h1v2h-1zM278 631h2v10h-2zM278 667h2v2h-2zM278 760h2v2h-2zM280 631h1v4h-1zM280 706h1v3h-1zM281 636h2v4h-2zM281 653h2v3h-2zM283 616h1v3h-1zM283 683h1v2h-1zM283 788h1v7h-1zM283 798h1v2h-1zM284 603h1v2h-1zM284 662h1v4h-1zM285 680h2v2h-2zM288 578h2v9h-2zM290 625h1v13h-1zM291 682h2v5h-2zM291 775h2v3h-2zM293 616h1v7h-1zM293 648h1v4h-1zM293 774h1v5h-1zM294 797h2v3h-2zM296 607h1v2h-1zM296 685h1v2h-1zM297 614h2v6h-2zM297 636h2v4h-2zM297 662h2v3h-2zM297 665h2v4h-2zM300 684h2v17h-2zM302 652h1v4h-1zM302 690h1v2h-1zM302 692h1v6h-1zM302 798h1v2h-1zM303 613h2v2h-2zM303 669h2v7h-2zM303 708h2v5h-2zM307 609h1v6h-1zM307 632h1v4h-1zM308 683h2v4h-2zM313 633h2v2h-2zM313 645h2v6h-2zM322 777h1v3h-1zM332 755h2v2h-2zM353 796h2v3h-2zM359 760h2v2h-2zM411 746h3v4h-3zM461 718h3v5h-3z"/>
<path fill="#20ffdf" d="M193 784h1v3h-1zM198 717h1v6h-1zM219 632h1v3h-1zM220 719h1v4h-1zM220 761h1v2h-1zM221 581h1v5h-1zM223 591h1v8h-1zM229 578h1v9h-1zM230 609h1v2h-1zM236 632h1v5h-1zM237 727h1v6h-1zM241 739h1v6h-1zM242 606h1v21h-1zM243 621h1v2h-1zM247 675h2v8h-2zM252 593h1v7h-1zM258 519h1v2h-1zM261 573h2v4h-2zM261 582h2v2h-2zM263 635h1v18h-1zM268 640h1v2h-1zM273 524h1v11h-1zM273 535h1v4h-1zM274 529h2v16h-2zM276 544h1v4h-1zM276 559h1v4h-1zM276 668h1v2h-1zM278 624h2v4h-2zM281 796h2v2h-2zM283 592h1v2h-1zM284 608h1v2h-1zM287 589h1v3h-1zM287 697h1v2h-1zM290 582h1v2h-1zM315 666h2v2h-2zM317 624h1v3h-1zM404 792h3v6h-3zM414 786h3v2h-3z"/>
<path fill="#30ffcf" d="M194 745h1v2h-1zM214 791h1v2h-1zM223 793h1v2h-1zM231 662h1v15h-1zM231 686h1v3h-1zM238 751h1v3h-1zM240 712h1v6h-1zM241 709h1v2h-1zM243 689h1v3h-1zM243 733h1v2h-1zM245 686h1v2h-1zM246 686h1v5h-1zM249 718h1v5h-1zM251 662h1v3h-1zM259 551h1v5h-1zM260 722h1v4h-1zM260 726h1v6h-1zM263 578h1v12h-1zM263 769h1v2h-1zM264 604h1v4h-1zM264 780h1v2h-1zM266 661h2v8h-2zM269 634h1v2h-1zM270 603h2v10h-2zM270 694h2v12h-2zM272 663h1v6h-1zM273 651h1v4h-1zM277 586h1v2h-1zM277 625h1v3h-1zM280 715h1v3h-1zM284 641h1v8h-1zM284 784h1v5h-1zM285 591h2v3h-2zM285 702h2v2h-2zM288 797h2v3h-2zM294 599h2v2h-2zM296 624h1v6h-1zM303 664h2v3h-2zM307 598h1v2h-1zM307 623h1v9h-1zM307 779h1v3h-1zM310 588h1v2h-1zM310 763h1v8h-1zM310 793h1v3h-1zM315 768h2v5h-2zM366 770h2v4h-2zM409 791h2v3h-2z"/>
<path fill="#10ffef" d="M198 723h1v10h-1zM235 617h1v9h-1zM238 688h1v5h-1zM239 587h1v2h-1zM243 650h1v2h-1zM246 654h1v4h-1zM254 625h1v15h-1zM257 533h1v2h-1zM263 675h1v4h-1zM264 758h1v8h-1zM268 593h1v3h-1zM269 706h1v17h-1zM270 524h2v13h-2zM274 574h2v3h-2zM278 586h2v3h-2zM278 589h2v5h-2zM290 663h1v3h-1zM293 786h1v5h-1zM299 582h1v8h-1zM302 591h1v2h-1zM302 613h1v4h-1zM302 636h1v8h-1zM308 612h2v2h-2zM310 610h1v7h-1zM317 670h1v2h-1zM322 656h1v7h-1zM338 748h2v3h-2zM361 793h3v3h-3zM361 798h3v2h-3zM392 776h3v4h-3z"/>
<path fill="#ffff00" d="M199 703h1v2h-1zM205 710h1v4h-1zM211 725h1v6h-1zM212 795h1v3h-1zM218 639h1v13h-1zM218 741h1v9h-1zM243 710h1v3h-1zM247 708h2v2h-2zM249 520h1v5h-1zM257 517h1v2h-1zM265 677h1v2h-1zM269 796h1v4h-1zM280 790h1v5h-1zM288 783h2v2h-2zM288 791h2v3h-2zM305 796h2v2h-2zM308 784h2v7h-2zM310 642h1v3h-1zM315 784h2v2h-2zM318 759h2v3h-2zM322 795h1v2h-1zM329 765h2v3h-2zM331 763h1v2h-1zM331 765h1v8h-1zM332 784h2v6h-2zM340 758h2v2h-2zM345 757h2v8h-2zM349 774h2v6h-2zM414 780h3v2h-3zM202 510h1v5h-1zM207 672h1v8h-1z"/>
<path fill="#ffdf00" d="M199 790h1v2h-1zM207 718h1v2h-1zM212 717h1v5h-1zM247 699h2v9h-2zM254 771h1v2h-1zM259 782h1v3h-1zM268 795h1v3h-1zM270 782h2v6h-2zM272 789h1v6h-1zM276 786h1v11h-1zM277 791h1v3h-1zM277 794h1v3h-1zM284 580h1v21h-1zM285 770h2v4h-2zM313 797h2v3h-2zM318 783h2v9h-2zM325 760h2v7h-2zM325 794h2v3h-2zM336 770h2v2h-2zM342 755h2v7h-2zM344 783h1v5h-1zM345 775h2v4h-2zM347 760h2v4h-2zM347 774h2v6h-2zM347 786h2v10h-2zM351 756h2v11h-2zM399 761h3v3h-3zM411 779h3v3h-3zM207 770h1v5h-1z"/>
<path fill="#00efff" d="M200 741h1v2h-1zM237 755h1v7h-1zM253 727h1v4h-1zM255 541h2v9h-2zM258 572h1v3h-1zM266 552h2v7h-2zM266 587h2v3h-2zM266 593h2v6h-2zM269 550h1v2h-1zM272 558h1v5h-1zM276 587h1v4h-1zM276 633h1v3h-1zM281 790h2v4h-2zM283 766h1v10h-1zM285 604h2v6h-2zM285 634h2v4h-2zM290 640h1v15h-1zM291 652h2v9h-2zM291 687h2v12h-2zM303 592h2v14h-2zM307 687h1v3h-1zM308 605h2v4h-2zM372 779h2v3h-2zM388 780h2v2h-2zM395 787h2v3h-2zM202 515h1v22h-1zM202 683h1v3h-1zM225 522h1v8h-1zM225 533h1v9h-1zM182 569h1v4h-1z"/>
<path fill="#40ffbf" d="M201 795h1v4h-1zM204 783h1v2h-1zM214 745h1v2h-1zM220 759h1v2h-1zM228 654h1v27h-1zM230 766h1v4h-1zM236 669h1v4h-1zM238 699h1v3h-1zM239 712h1v5h-1zM240 703h1v2h-1zM241 670h1v4h-1zM243 698h1v7h-1zM244 691h1v22h-1zM249 620h1v3h-1zM250 663h1v2h-1zM251 689h1v4h-1zM252 561h1v7h-1zM254 548h1v2h-1zM254 623h1v2h-1zM255 657h2v5h-2zM257 633h1v3h-1zM259 637h1v5h-1zM259 675h1v2h-1zM261 621h2v5h-2zM261 691h2v7h-2zM263 690h1v10h-1zM265 679h1v6h-1zM266 795h2v4h-2zM269 674h1v8h-1zM270 649h2v3h-2zM273 600h1v8h-1zM273 644h1v2h-1zM273 697h1v14h-1zM274 613h2v18h-2zM276 678h1v14h-1zM277 655h1v2h-1zM278 641h2v11h-2zM281 624h2v8h-2zM281 640h2v2h-2zM283 589h1v3h-1zM283 604h1v8h-1zM283 687h1v3h-1zM291 587h2v3h-2zM294 592h2v7h-2zM296 594h1v6h-1zM297 767h2v2h-2zM300 659h2v4h-2zM302 656h1v12h-1zM305 580h2v15h-2zM307 606h1v3h-1zM308 799h2v1h-2zM310 585h1v3h-1zM310 651h1v4h-1zM310 796h1v4h-1zM320 786h2v3h-2zM355 788h2v5h-2zM370 770h2v5h-2zM379 780h2v5h-2zM381 745h2v5h-2z"/>
<path fill="#dfff20" d="M202 714h1v10h-1zM203 743h1v10h-1zM204 788h1v3h-1zM207 732h1v12h-1zM211 704h1v17h-1zM216 791h1v3h-1zM218 715h1v9h-1zM218 786h1v9h-1zM221 793h1v2h-1zM225 741h1v12h-1zM230 746h1v9h-1zM230 788h1v6h-1zM235 789h1v3h-1zM240 790h1v6h-1zM246 624h1v5h-1zM246 797h1v2h-1zM253 712h1v2h-1zM253 717h1v10h-1zM255 648h2v3h-2zM255 678h2v15h-2zM257 681h1v7h-1zM257 785h1v3h-1zM258 771h1v2h-1zM259 712h1v11h-1zM261 652h2v2h-2zM261 771h2v3h-2zM264 625h1v2h-1zM266 785h2v5h-2zM266 790h2v5h-2zM268 682h1v4h-1zM269 638h1v5h-1zM270 645h2v4h-2zM270 760h2v5h-2zM272 688h1v4h-1zM272 787h1v2h-1zM273 577h1v5h-1zM276 522h1v5h-1zM277 765h1v6h-1zM277 771h1v4h-1zM280 617h1v7h-1zM283 697h1v3h-1zM285 615h2v10h-2zM287 765h1v6h-1zM288 592h2v8h-2zM288 787h2v4h-2zM290 668h1v15h-1zM294 639h2v7h-2zM296 621h1v3h-1zM297 677h2v2h-2zM299 610h1v16h-1zM300 789h2v2h-2zM302 607h1v2h-1zM303 676h2v3h-2zM305 606h2v8h-2zM308 635h2v2h-2zM310 677h1v2h-1zM310 785h1v3h-1zM313 789h2v4h-2zM317 789h1v8h-1zM320 772h2v2h-2zM325 749h2v4h-2zM327 785h2v3h-2zM327 798h2v2h-2zM334 780h2v2h-2zM342 772h2v6h-2zM345 797h2v2h-2zM355 756h2v2h-2zM359 790h2v2h-2zM383 770h2v5h-2zM404 778h3v4h-3zM409 768h2v2h-2z"/>
<path fill="#ffef00" d="M203 788h1v5h-1zM228 649h1v5h-1zM237 782h1v6h-1zM264 784h1v2h-1zM268 798h1v2h-1zM277 787h1v2h-1zM285 669h2v9h-2zM297 794h2v2h-2zM300 680h2v4h-2zM302 782h1v10h-1zM303 753h2v5h-2zM305 772h2v20h-2zM307 758h1v3h-1zM315 633h2v4h-2zM325 782h2v10h-2zM331 779h1v6h-1zM336 756h2v2h-2zM336 784h2v13h-2zM342 778h2v4h-2zM344 754h1v3h-1zM349 780h2v9h-2zM368 788h2v5h-2zM381 789h2v3h-2zM404 789h3v3h-3z"/>
<path fill="#00cfff" d="M206 721h1v2h-1zM226 654h1v3h-1zM230 593h1v3h-1zM239 596h1v4h-1zM253 595h1v3h-1zM272 538h1v10h-1zM284 705h1v4h-1zM293 603h1v3h-1zM379 757h2v3h-2zM385 790h3v10h-3zM402 794h2v5h-2zM404 750h3v3h-3z"/>
<path fill="#50ffaf" d="M208 634h1v7h-1zM209 744h1v2h-1zM211 784h1v4h-1zM212 519h1v5h-1zM216 742h1v5h-1zM218 737h1v4h-1zM220 728h1v2h-1zM224 713h1v4h-1zM224 785h1v4h-1zM225 711h1v2h-1zM228 763h1v2h-1zM230 703h1v2h-1zM230 718h1v11h-1zM233 720h1v5h-1zM234 786h1v12h-1zM235 687h1v10h-1zM236 716h1v5h-1zM237 659h1v11h-1zM237 688h1v2h-1zM245 654h1v2h-1zM245 680h1v3h-1zM246 665h1v5h-1zM246 691h1v7h-1zM246 712h1v2h-1zM250 690h1v6h-1zM251 621h1v10h-1zM251 793h1v2h-1zM252 609h1v11h-1zM253 556h1v2h-1zM253 593h1v2h-1zM254 689h1v7h-1zM255 674h2v4h-2zM257 674h1v7h-1zM258 712h1v9h-1zM259 621h1v14h-1zM259 793h1v4h-1zM261 660h2v5h-2zM261 795h2v3h-2zM263 611h1v8h-1zM263 681h1v2h-1zM264 633h1v6h-1zM264 707h1v3h-1zM264 718h1v2h-1zM265 524h1v4h-1zM265 672h1v5h-1zM266 659h2v2h-2zM268 784h1v2h-1zM269 647h1v6h-1zM269 794h1v2h-1zM270 615h2v6h-2zM272 605h1v8h-1zM272 617h1v14h-1zM274 587h2v26h-2zM278 787h2v6h-2zM281 622h2v2h-2zM281 685h2v9h-2zM281 765h2v6h-2zM281 794h2v2h-2zM287 624h1v17h-1zM288 653h2v2h-2zM291 611h2v13h-2zM293 638h1v8h-1zM294 682h2v2h-2zM297 595h2v11h-2zM299 644h1v9h-1zM299 679h1v5h-1zM299 793h1v3h-1zM300 630h2v7h-2zM300 648h2v3h-2zM302 677h1v3h-1zM302 764h1v5h-1zM303 667h2v2h-2zM305 770h2v2h-2zM307 768h1v4h-1zM308 597h2v4h-2zM308 679h2v4h-2zM310 655h1v5h-1zM317 640h1v3h-1zM322 780h1v4h-1zM364 768h2v2h-2zM392 750h3v5h-3zM395 749h2v3h-2zM402 781h2v4h-2z"/>
<path fill="#00dfff" d="M213 640h1v4h-1zM217 600h1v3h-1zM226 589h1v3h-1zM228 580h1v2h-1zM239 655h1v7h-1zM240 599h1v4h-1zM255 613h2v14h-2zM265 513h1v5h-1zM266 559h2v8h-2zM269 790h1v2h-1zM293 606h1v2h-1zM294 601h2v7h-2zM372 770h2v2h-2zM390 785h2v3h-2z"/>
<path fill="#0000ff" d="M214 634h1v27h-1zM395 775h2v4h-2zM404 769h3v7h-3z"/>
<path fill="#0020ff" d="M216 650h1v3h-1zM232 648h1v4h-1zM263 525h1v12h-1zM274 571h2v3h-2zM397 770h2v4h-2zM182 718h1v4h-1zM182 766h1v4h-1zM182 789h1v6h-1z"/>
<path fill="#00ffff" d="M216 653h1v3h-1zM235 678h1v3h-1zM244 675h1v8h-1zM264 678h1v6h-1zM266 534h2v2h-2zM280 693h1v6h-1zM291 602h2v3h-2zM296 609h1v12h-1zM307 603h1v3h-1zM307 636h1v5h-1zM308 660h2v2h-2zM310 590h1v5h-1zM370 775h2v4h-2zM390 757h2v3h-2zM399 751h3v7h-3zM402 775h2v3h-2z"/>
<path fill="#ffcf00" d="M216 723h1v4h-1zM288 785h2v2h-2zM293 791h1v2h-1zM307 772h1v7h-1zM307 795h1v5h-1zM310 679h1v4h-1zM313 783h2v3h-2zM320 764h2v2h-2zM325 772h2v2h-2zM329 790h2v4h-2zM331 775h1v4h-1zM332 790h2v5h-2zM334 774h2v6h-2zM338 768h2v4h-2zM340 764h2v4h-2zM344 768h1v4h-1zM351 775h2v4h-2zM359 780h2v5h-2zM381 763h2v9h-2zM414 766h3v4h-3z"/>
<path fill="#0040ff" d="M218 633h1v6h-1zM268 602h1v6h-1zM385 785h3v2h-3zM390 770h2v2h-2z"/>
<path fill="#00afff" d="M222 583h1v18h-1zM224 605h1v5h-1zM253 558h1v6h-1zM261 514h2v7h-2zM266 569h2v4h-2zM269 520h1v5h-1zM284 605h1v3h-1z"/>
<path fill="#009fff" d="M226 606h1v18h-1zM261 577h2v3h-2zM278 562h2v8h-2z"/>
<path fill="#0080ff" d="M228 523h1v2h-1zM268 517h1v7h-1zM407 754h2v3h-2zM407 789h2v2h-2zM407 791h2v3h-2z"/>
<path fill="#0050ff" d="M237 645h1v6h-1zM409 756h2v4h-2zM202 608h1v2h-1zM220 531h1v2h-1z"/>
<path fill="#00bfff" d="M257 535h1v2h-1zM261 521h2v9h-2zM269 543h1v7h-1zM284 601h1v2h-1zM207 776h1v4h-1z"/>
<path fill="#ff8f00" d="M260 792h1v7h-1zM268 608h1v3h-1zM280 786h1v4h-1zM300 787h2v2h-2zM322 763h1v2h-1zM322 784h1v2h-1zM325 774h2v5h-2zM332 799h2v1h-2zM338 754h2v2h-2zM338 765h2v3h-2zM345 767h2v4h-2zM347 770h2v4h-2zM347 780h2v2h-2zM353 785h2v2h-2zM361 785h3v2h-3zM397 796h2v3h-2zM391 716h2v5h-2z"/>
<path fill="#008fff" d="M265 587h1v5h-1z"/>
<path fill="#ff8000" d="M269 577h1v4h-1zM293 793h1v3h-1zM297 796h2v3h-2zM310 781h1v4h-1zM320 793h2v5h-2zM329 768h2v3h-2zM329 781h2v2h-2zM340 788h2v12h-2z"/>
<path fill="#0070ff" d="M269 581h1v6h-1zM390 768h2v2h-2z"/>
<path fill="#ff6000" d="M277 518h1v8h-1zM317 799h1v1h-1zM325 756h2v4h-2zM347 764h2v4h-2zM353 799h2v1h-2zM357 775h2v7h-2zM372 782h2v3h-2zM392 793h3v3h-3z"/>
<path fill="#ff7000" d="M278 793h2v4h-2zM310 788h1v5h-1zM323 763h2v7h-2zM327 783h2v2h-2zM355 773h2v2h-2zM357 782h2v4h-2zM376 759h3v2h-3zM202 507h1v3h-1zM202 605h1v3h-1zM202 702h1v10h-1zM225 549h1v8h-1zM182 562h1v4h-1zM343 731h2v3h-2z"/>
<path fill="#ffbf00" d="M281 771h2v8h-2zM315 779h2v5h-2zM327 788h2v2h-2zM329 762h2v3h-2zM329 783h2v2h-2zM329 787h2v3h-2zM331 792h1v6h-1zM332 774h2v8h-2zM342 782h2v2h-2zM344 796h1v2h-1zM345 765h2v2h-2zM374 757h2v3h-2zM399 777h3v5h-3zM402 769h2v2h-2z"/>
<path fill="#ffaf00" d="M290 789h1v4h-1zM311 777h2v5h-2zM313 793h2v4h-2zM317 783h1v4h-1zM322 797h1v3h-1zM334 766h2v3h-2zM336 768h2v2h-2zM340 760h2v4h-2zM342 762h2v3h-2zM355 768h2v5h-2zM357 790h2v2h-2zM359 765h2v5h-2zM359 775h2v5h-2zM368 767h2v4h-2zM390 762h2v4h-2zM399 758h3v3h-3z"/>
<path fill="#ff9f00" d="M290 793h1v7h-1zM302 795h1v3h-1zM303 763h2v6h-2zM327 790h2v8h-2zM329 777h2v4h-2zM331 755h1v2h-1zM336 778h2v6h-2zM338 778h2v3h-2zM344 772h1v2h-1zM344 774h1v9h-1zM349 765h2v5h-2zM353 765h2v14h-2zM355 758h2v3h-2zM374 774h2v5h-2zM402 753h2v3h-2zM407 763h2v4h-2z"/>
<path fill="#ff4000" d="M296 790h1v2h-1zM323 788h2v9h-2zM327 774h2v9h-2z"/>
<path fill="#0030ff" d="M307 782h1v3h-1zM388 759h2v4h-2zM409 772h2v3h-2z"/>
<path fill="#ff5000" d="M320 784h2v2h-2z"/>
<path fill="#ff2000" d="M332 770h2v4h-2zM361 783h3v2h-3zM376 753h3v2h-3z"/>
<path fill="#ef0000" d="M338 786h2v7h-2z"/>
<path fill="#800000" d="M355 775h2v2h-2zM357 786h2v4h-2zM370 760h2v2h-2zM379 752h2v2h-2z"/>
<path fill="#ff0000" d="M355 777h2v9h-2z"/>
<path fill="#ff3000" d="M359 792h2v6h-2zM381 781h2v2h-2z"/>
<path fill="#bf0000" d="M366 786h2v4h-2z"/>
<path fill="#00008f" d="M376 794h3v2h-3zM388 786h2v4h-2zM397 784h2v8h-2z"/>
<path fill="#9f0000" d="M381 760h2v3h-2z"/>
<path fill="#0060ff" d="M397 761h2v9h-2zM407 751h2v3h-2z"/>
<path fill="#0000ef" d="M411 770h3v4h-3zM207 666h1v5h-1zM207 695h1v5h-1zM216 563h1v2h-1zM225 562h1v8h-1zM228 575h1v5h-1z"/>
<path fill="#0000df" d="M202 537h1v9h-1zM202 548h1v17h-1zM202 570h1v7h-1z"/>
<path fill="#ff1000" d="M202 546h1v2h-1zM202 592h1v6h-1z"/>
<path fill="#af0000" d="M202 610h1v31h-1zM202 642h1v11h-1zM202 674h1v9h-1zM202 686h1v16h-1zM202 712h1v64h-1zM182 540h1v4h-1zM182 798h1v3h-1z"/>
<path fill="#df0000" d="M216 552h1v6h-1zM220 523h1v2h-1zM182 714h1v4h-1z"/>
<rect x="156" y="494" width="1" height="308" fill="#000"/>
<rect x="156" y="801" width="792" height="1" fill="#000"/>
<g style="will-change:transform">
<text transform="translate(156.50 838) scale(0.95 1)" text-anchor="middle" font-family="Liberation Sans, sans-serif" stroke="#000" stroke-width="0.8" font-size="24">1</text>
<text transform="translate(198.13 838) scale(0.95 1)" text-anchor="middle" font-family="Liberation Sans, sans-serif" stroke="#000" stroke-width="0.8" font-size="24">2</text>
<text transform="translate(281.39 838) scale(0.95 1)" text-anchor="middle" font-family="Liberation Sans, sans-serif" stroke="#000" stroke-width="0.8" font-size="24">4</text>
<text transform="translate(364.66 838) scale(0.95 1)" text-anchor="middle" font-family="Liberation Sans, sans-serif" stroke="#000" stroke-width="0.8" font-size="24">6</text>
<text transform="translate(447.92 838) scale(0.95 1)" text-anchor="middle" font-family="Liberation Sans, sans-serif" stroke="#000" stroke-width="0.8" font-size="24">8</text>
<text transform="translate(531.18 838) scale(0.95 1)" text-anchor="middle" font-family="Liberation Sans, sans-serif" stroke="#000" stroke-width="0.8" font-size="24">10</text>
<text transform="translate(614.45 838) scale(0.95 1)" text-anchor="middle" font-family="Liberation Sans, sans-serif" stroke="#000" stroke-width="0.8" font-size="24">12</text>
<text transform="translate(697.71 838) scale(0.95 1)" text-anchor="middle" font-family="Liberation Sans, sans-serif" stroke="#000" stroke-width="0.8" font-size="24">14</text>
<text transform="translate(780.97 838) scale(0.95 1)" text-anchor="middle" font-family="Liberation Sans, sans-serif" stroke="#000" stroke-width="0.8" font-size="24">16</text>
<text transform="translate(864.24 838) scale(0.95 1)" text-anchor="middle" font-family="Liberation Sans, sans-serif" stroke="#000" stroke-width="0.8" font-size="24">18</text>
<text transform="translate(947.50 838) scale(0.95 1)" text-anchor="middle" font-family="Liberation Sans, sans-serif" stroke="#000" stroke-width="0.8" font-size="24">20</text>
<text transform="translate(149.50 507) scale(0.95 1)" text-anchor="end" font-family="Liberation Sans, sans-serif" stroke="#000" stroke-width="0.8" font-size="24">800</text>
<text transform="translate(149.50 592) scale(0.95 1)" text-anchor="end" font-family="Liberation Sans, sans-serif" stroke="#000" stroke-width="0.8" font-size="24">600</text>
<text transform="translate(149.50 677) scale(0.95 1)" text-anchor="end" font-family="Liberation Sans, sans-serif" stroke="#000" stroke-width="0.8" font-size="24">400</text>
<text transform="translate(149.50 762) scale(0.95 1)" text-anchor="end" font-family="Liberation Sans, sans-serif" stroke="#000" stroke-width="0.8" font-size="24">200</text>
</g>
<rect x="980" y="494.00" width="42" height="5.11" fill="#800000"/>
<rect x="980" y="498.81" width="42" height="5.11" fill="#8f0000"/>
<rect x="980" y="503.62" width="42" height="5.11" fill="#9f0000"/>
<rect x="980" y="508.44" width="42" height="5.11" fill="#af0000"/>
<rect x="980" y="513.25" width="42" height="5.11" fill="#bf0000"/>
<rect x="980" y="518.06" width="42" height="5.11" fill="#cf0000"/>
<rect x="980" y="522.88" width="42" height="5.11" fill="#df0000"/>
<rect x="980" y="527.69" width="42" height="5.11" fill="#ef0000"/>
<rect x="980" y="532.50" width="42" height="5.11" fill="#ff0000"/>
<rect x="980" y="537.31" width="42" height="5.11" fill="#ff1000"/>
<rect x="980" y="542.12" width="42" height="5.11" fill="#ff2000"/>
<rect x="980" y="546.94" width="42" height="5.11" fill="#ff3000"/>
<rect x="980" y="551.75" width="42" height="5.11" fill="#ff4000"/>
<rect x="980" y="556.56" width="42" height="5.11" fill="#ff5000"/>
<rect x="980" y="561.38" width="42" height="5.11" fill="#ff6000"/>
<rect x="980" y="566.19" width="42" height="5.11" fill="#ff7000"/>
<rect x="980" y="571.00" width="42" height="5.11" fill="#ff8000"/>
<rect x="980" y="575.81" width="42" height="5.11" fill="#ff8f00"/>
<rect x="980" y="580.62" width="42" height="5.11" fill="#ff9f00"/>
<rect x="980" y="585.44" width="42" height="5.11" fill="#ffaf00"/>
<rect x="980" y="590.25" width="42" height="5.11" fill="#ffbf00"/>
<rect x="980" y="595.06" width="42" height="5.11" fill="#ffcf00"/>
<rect x="980" y="599.88" width="42" height="5.11" fill="#ffdf00"/>
<rect x="980" y="604.69" width="42" height="5.11" fill="#ffef00"/>
<rect x="980" y="609.50" width="42" height="5.11" fill="#ffff00"/>
<rect x="980" y="614.31" width="42" height="5.11" fill="#efff10"/>
<rect x="980" y="619.12" width="42" height="5.11" fill="#dfff20"/>
<rect x="980" y="623.94" width="42" height="5.11" fill="#cfff30"/>
<rect x="980" y="628.75" width="42" height="5.11" fill="#bfff40"/>
<rect x="980" y="633.56" width="42" height="5.11" fill="#afff50"/>
<rect x="980" y="638.38" width="42" height="5.11" fill="#9fff60"/>
<rect x="980" y="643.19" width="42" height="5.11" fill="#8fff70"/>
<rect x="980" y="648.00" width="42" height="5.11" fill="#80ff80"/>
<rect x="980" y="652.81" width="42" height="5.11" fill="#70ff8f"/>
<rect x="980" y="657.62" width="42" height="5.11" fill="#60ff9f"/>
<rect x="980" y="662.44" width="42" height="5.11" fill="#50ffaf"/>
<rect x="980" y="667.25" width="42" height="5.11" fill="#40ffbf"/>
<rect x="980" y="672.06" width="42" height="5.11" fill="#30ffcf"/>
<rect x="980" y="676.88" width="42" height="5.11" fill="#20ffdf"/>
<rect x="980" y="681.69" width="42" height="5.11" fill="#10ffef"/>
<rect x="980" y="686.50" width="42" height="5.11" fill="#00ffff"/>
<rect x="980" y="691.31" width="42" height="5.11" fill="#00efff"/>
<rect x="980" y="696.12" width="42" height="5.11" fill="#00dfff"/>
<rect x="980" y="700.94" width="42" height="5.11" fill="#00cfff"/>
<rect x="980" y="705.75" width="42" height="5.11" fill="#00bfff"/>
<rect x="980" y="710.56" width="42" height="5.11" fill="#00afff"/>
<rect x="980" y="715.38" width="42" height="5.11" fill="#009fff"/>
<rect x="980" y="720.19" width="42" height="5.11" fill="#008fff"/>
<rect x="980" y="725.00" width="42" height="5.11" fill="#0080ff"/>
<rect x="980" y="729.81" width="42" height="5.11" fill="#0070ff"/>
<rect x="980" y="734.62" width="42" height="5.11" fill="#0060ff"/>
<rect x="980" y="739.44" width="42" height="5.11" fill="#0050ff"/>
<rect x="980" y="744.25" width="42" height="5.11" fill="#0040ff"/>
<rect x="980" y="749.06" width="42" height="5.11" fill="#0030ff"/>
<rect x="980" y="753.88" width="42" height="5.11" fill="#0020ff"/>
<rect x="980" y="758.69" width="42" height="5.11" fill="#0010ff"/>
<rect x="980" y="763.50" width="42" height="5.11" fill="#0000ff"/>
<rect x="980" y="768.31" width="42" height="5.11" fill="#0000ef"/>
<rect x="980" y="773.12" width="42" height="5.11" fill="#0000df"/>
<rect x="980" y="777.94" width="42" height="5.11" fill="#0000cf"/>
<rect x="980" y="782.75" width="42" height="5.11" fill="#0000bf"/>
<rect x="980" y="787.56" width="42" height="5.11" fill="#0000af"/>
<rect x="980" y="792.38" width="42" height="5.11" fill="#00009f"/>
<rect x="980" y="797.19" width="42" height="5.11" fill="#00008f"/>
<rect x="979" y="494" width="1" height="309" fill="#000"/>
<rect x="979" y="802" width="43" height="1" fill="#000"/>
<rect x="980" y="494" width="2" height="1" fill="#000"/>
<rect x="1017" y="494" width="5" height="1" fill="#000"/>
<rect x="980" y="648" width="2" height="1" fill="#000"/>
<rect x="1017" y="648" width="5" height="1" fill="#000"/>
<g style="will-change:transform">
<text transform="translate(1026.50 507) scale(0.95 1)" text-anchor="start" font-family="Liberation Sans, sans-serif" stroke="#000" stroke-width="0.8" font-size="24">5</text>
<text transform="translate(1026.50 661) scale(0.95 1)" text-anchor="start" font-family="Liberation Sans, sans-serif" stroke="#000" stroke-width="0.8" font-size="24">0</text>
<text transform="translate(1026.50 815) scale(0.95 1)" text-anchor="start" font-family="Liberation Sans, sans-serif" stroke="#000" stroke-width="0.8" font-size="24">-5</text>
</g>
</svg></body></html>
